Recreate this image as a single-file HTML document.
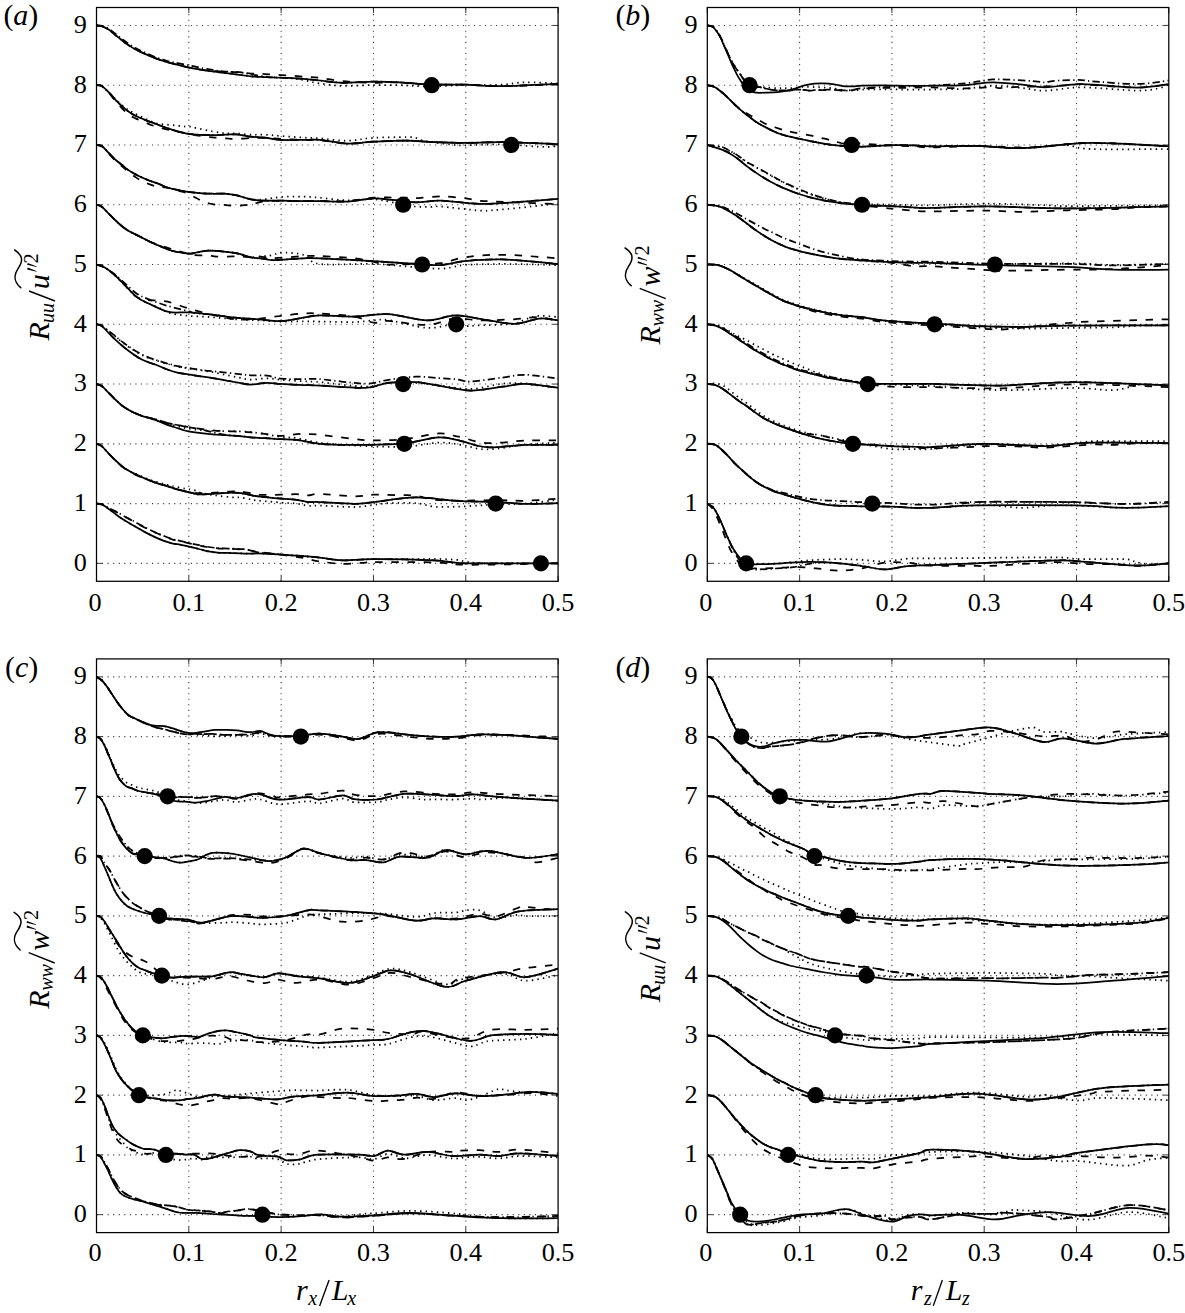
<!DOCTYPE html><html><head><meta charset="utf-8"><style>html,body{margin:0;padding:0;background:#fff;}svg{display:block;}</style></head><body>
<svg width="1185" height="1313" viewBox="0 0 1185 1313">
<rect width="1185" height="1313" fill="#fff"/>
<path d="M96.5 563.37H558.1M96.5 503.6H558.1M96.5 443.83H558.1M96.5 384.06H558.1M96.5 324.29H558.1M96.5 264.51H558.1M96.5 204.74H558.1M96.5 144.97H558.1M96.5 85.2H558.1M96.5 25.43H558.1M188.82 581.3V7.5M281.14 581.3V7.5M373.46 581.3V7.5M465.78 581.3V7.5" stroke="#3a3a3a" stroke-width="1.1" stroke-dasharray="1.1 4.45" fill="none"/>
<path d="M96.5 563.37h5.6M558.1 563.37h-5.6M96.5 503.6h5.6M558.1 503.6h-5.6M96.5 443.83h5.6M558.1 443.83h-5.6M96.5 384.06h5.6M558.1 384.06h-5.6M96.5 324.29h5.6M558.1 324.29h-5.6M96.5 264.51h5.6M558.1 264.51h-5.6M96.5 204.74h5.6M558.1 204.74h-5.6M96.5 144.97h5.6M558.1 144.97h-5.6M96.5 85.2h5.6M558.1 85.2h-5.6M96.5 25.43h5.6M558.1 25.43h-5.6M96.5 581.3v-5.6M96.5 7.5v5.6M188.82 581.3v-5.6M188.82 7.5v5.6M281.14 581.3v-5.6M281.14 7.5v5.6M373.46 581.3v-5.6M373.46 7.5v5.6M465.78 581.3v-5.6M465.78 7.5v5.6M558.1 581.3v-5.6M558.1 7.5v5.6" stroke="#3a3a3a" stroke-width="1.0" fill="none"/>
<path d="M707.3 563.37H1168.8M707.3 503.6H1168.8M707.3 443.83H1168.8M707.3 384.06H1168.8M707.3 324.29H1168.8M707.3 264.51H1168.8M707.3 204.74H1168.8M707.3 144.97H1168.8M707.3 85.2H1168.8M707.3 25.43H1168.8M799.6 581.3V7.5M891.9 581.3V7.5M984.2 581.3V7.5M1076.5 581.3V7.5" stroke="#3a3a3a" stroke-width="1.1" stroke-dasharray="1.1 4.45" fill="none"/>
<path d="M707.3 563.37h5.6M1168.8 563.37h-5.6M707.3 503.6h5.6M1168.8 503.6h-5.6M707.3 443.83h5.6M1168.8 443.83h-5.6M707.3 384.06h5.6M1168.8 384.06h-5.6M707.3 324.29h5.6M1168.8 324.29h-5.6M707.3 264.51h5.6M1168.8 264.51h-5.6M707.3 204.74h5.6M1168.8 204.74h-5.6M707.3 144.97h5.6M1168.8 144.97h-5.6M707.3 85.2h5.6M1168.8 85.2h-5.6M707.3 25.43h5.6M1168.8 25.43h-5.6M707.3 581.3v-5.6M707.3 7.5v5.6M799.6 581.3v-5.6M799.6 7.5v5.6M891.9 581.3v-5.6M891.9 7.5v5.6M984.2 581.3v-5.6M984.2 7.5v5.6M1076.5 581.3v-5.6M1076.5 7.5v5.6M1168.8 581.3v-5.6M1168.8 7.5v5.6" stroke="#3a3a3a" stroke-width="1.0" fill="none"/>
<path d="M96.5 1214.67H558.1M96.5 1154.91H558.1M96.5 1095.15H558.1M96.5 1035.39H558.1M96.5 975.63H558.1M96.5 915.87H558.1M96.5 856.11H558.1M96.5 796.35H558.1M96.5 736.59H558.1M96.5 676.83H558.1M188.82 1232.6V658.9M281.14 1232.6V658.9M373.46 1232.6V658.9M465.78 1232.6V658.9" stroke="#3a3a3a" stroke-width="1.1" stroke-dasharray="1.1 4.45" fill="none"/>
<path d="M96.5 1214.67h5.6M558.1 1214.67h-5.6M96.5 1154.91h5.6M558.1 1154.91h-5.6M96.5 1095.15h5.6M558.1 1095.15h-5.6M96.5 1035.39h5.6M558.1 1035.39h-5.6M96.5 975.63h5.6M558.1 975.63h-5.6M96.5 915.87h5.6M558.1 915.87h-5.6M96.5 856.11h5.6M558.1 856.11h-5.6M96.5 796.35h5.6M558.1 796.35h-5.6M96.5 736.59h5.6M558.1 736.59h-5.6M96.5 676.83h5.6M558.1 676.83h-5.6M96.5 1232.6v-5.6M96.5 658.9v5.6M188.82 1232.6v-5.6M188.82 658.9v5.6M281.14 1232.6v-5.6M281.14 658.9v5.6M373.46 1232.6v-5.6M373.46 658.9v5.6M465.78 1232.6v-5.6M465.78 658.9v5.6M558.1 1232.6v-5.6M558.1 658.9v5.6" stroke="#3a3a3a" stroke-width="1.0" fill="none"/>
<path d="M707.3 1214.67H1168.8M707.3 1154.91H1168.8M707.3 1095.15H1168.8M707.3 1035.39H1168.8M707.3 975.63H1168.8M707.3 915.87H1168.8M707.3 856.11H1168.8M707.3 796.35H1168.8M707.3 736.59H1168.8M707.3 676.83H1168.8M799.6 1232.6V658.9M891.9 1232.6V658.9M984.2 1232.6V658.9M1076.5 1232.6V658.9" stroke="#3a3a3a" stroke-width="1.1" stroke-dasharray="1.1 4.45" fill="none"/>
<path d="M707.3 1214.67h5.6M1168.8 1214.67h-5.6M707.3 1154.91h5.6M1168.8 1154.91h-5.6M707.3 1095.15h5.6M1168.8 1095.15h-5.6M707.3 1035.39h5.6M1168.8 1035.39h-5.6M707.3 975.63h5.6M1168.8 975.63h-5.6M707.3 915.87h5.6M1168.8 915.87h-5.6M707.3 856.11h5.6M1168.8 856.11h-5.6M707.3 796.35h5.6M1168.8 796.35h-5.6M707.3 736.59h5.6M1168.8 736.59h-5.6M707.3 676.83h5.6M1168.8 676.83h-5.6M707.3 1232.6v-5.6M707.3 658.9v5.6M799.6 1232.6v-5.6M799.6 658.9v5.6M891.9 1232.6v-5.6M891.9 658.9v5.6M984.2 1232.6v-5.6M984.2 658.9v5.6M1076.5 1232.6v-5.6M1076.5 658.9v5.6M1168.8 1232.6v-5.6M1168.8 658.9v5.6" stroke="#3a3a3a" stroke-width="1.0" fill="none"/>
<clipPath id="clipa"><rect x="96.5" y="7.5" width="461.6" height="573.8"/></clipPath>
<g clip-path="url(#clipa)">
<path d="M96.5 25.43C97.38 25.56 99.75 25.51 101.76 26.2C103.78 26.89 106.33 28.12 108.59 29.58C110.86 31.04 113.09 33.18 115.33 34.98C117.58 36.78 119.83 38.65 122.07 40.38C124.32 42.11 126.57 43.87 128.81 45.38C131.06 46.88 132.86 48.01 135.55 49.43C138.24 50.85 141.6 52.4 144.97 53.88C148.34 55.37 152.17 56.99 155.77 58.34C159.37 59.69 162.97 60.93 166.57 61.99C170.17 63.04 173.77 63.78 177.37 64.68C180.97 65.58 184.57 66.6 188.17 67.38C191.77 68.17 194.91 68.74 198.98 69.41C203.04 70.09 208.04 70.81 212.55 71.44C217.05 72.07 221.53 72.63 226.02 73.19C230.52 73.76 235.33 74.27 239.5 74.81C243.67 75.35 246.84 76.06 251.04 76.43C255.24 76.81 259.69 76.85 264.71 77.07C269.72 77.29 276.59 77.55 281.14 77.75C285.69 77.96 288.29 77.91 292.03 78.31C295.77 78.71 298.96 79.27 303.57 80.13C308.19 80.99 313.22 82.49 319.73 83.46C326.24 84.43 333.67 85.68 342.63 85.94C351.58 86.21 363.94 85.19 373.46 85.06C382.98 84.94 393.49 85.07 399.77 85.18C406.05 85.3 405.8 85.55 411.13 85.75C416.45 85.95 422.64 86.52 431.71 86.4C440.79 86.27 457.59 85.25 465.6 85.03C473.6 84.8 473.55 85.13 479.72 85.06C485.89 85 495 85.11 502.62 84.65C510.23 84.2 516.17 82.52 525.42 82.32C534.67 82.12 552.65 83.27 558.1 83.46" stroke="#000" stroke-width="1.75" fill="none" stroke-dasharray="1.4 4.15"/>
<path d="M96.5 85.2C97.38 85.35 99.87 85.03 101.76 86.07C103.65 87.12 105.59 89.34 107.86 91.5C110.12 93.66 112.96 96.73 115.33 99.03C117.7 101.33 119.83 103.43 122.07 105.29C124.32 107.15 126.57 108.78 128.81 110.2C131.06 111.61 132.86 112.38 135.55 113.75C138.24 115.13 141.6 116.86 144.97 118.44C148.34 120.01 152.17 122.19 155.77 123.21C159.37 124.23 162.97 124.16 166.57 124.56C170.17 124.97 174.22 125.3 177.37 125.64C180.53 125.98 183.23 126.45 185.5 126.61C187.76 126.77 189.14 126.33 190.94 126.58C192.74 126.83 192.7 127.32 196.3 128.11C199.9 128.9 207.59 130.44 212.55 131.31C217.5 132.18 221.98 132.97 226.02 133.34C230.07 133.7 232.66 133.25 236.83 133.48C241 133.7 246.4 134.47 251.04 134.69C255.69 134.9 259.69 134.53 264.71 134.75C269.72 134.97 274.66 135.54 281.14 136.02C287.62 136.5 297.14 137.23 303.57 137.62C310.01 138 312.47 137.77 319.73 138.3C326.99 138.83 338.19 140.87 347.15 140.79C356.1 140.72 363.55 138.44 373.46 137.84C383.37 137.24 399.56 137.18 406.6 137.18C413.65 137.18 413.08 137.27 415.74 137.84C418.4 138.41 419.53 139.83 422.57 140.59C425.62 141.34 428.31 141.63 434.02 142.39C439.73 143.16 451.56 144.67 456.82 145.16C462.09 145.64 457.96 145.42 465.6 145.31C473.23 145.2 488.83 144.19 502.62 144.47C516.4 144.75 539.07 147.06 548.31 146.98C557.56 146.9 556.47 144.51 558.1 144.01" stroke="#000" stroke-width="1.75" fill="none" stroke-dasharray="1.4 4.15"/>
<path d="M96.5 144.97C97.38 145.16 99.75 144.77 101.76 146.08C103.78 147.39 106.33 150.58 108.59 152.83C110.86 155.08 113.09 157.56 115.33 159.58C117.58 161.61 119.83 163.18 122.07 164.98C124.32 166.78 126.12 168.58 128.81 170.38C131.5 172.18 134.86 174.1 138.23 175.78C141.6 177.47 145.65 179.16 149.03 180.51C152.42 181.86 155.62 182.76 158.54 183.88C161.46 185.01 163.43 186.25 166.57 187.26C169.71 188.27 173.77 189.18 177.37 189.96C180.97 190.75 184.57 191.47 188.17 191.98C191.77 192.5 194.91 192.77 198.98 193.06C203.04 193.36 208.27 193.63 212.55 193.74C216.82 193.85 220.59 193.47 224.64 193.74C228.69 194.01 232.43 194.41 236.83 195.36C241.23 196.31 246.4 198.77 251.04 199.41C255.69 200.05 259.69 199.59 264.71 199.19C269.72 198.79 274.66 197.46 281.14 197.02C287.62 196.58 297.14 196.45 303.57 196.56C310.01 196.68 312.47 197.08 319.73 197.71C326.99 198.34 338.19 200.1 347.15 200.36C356.1 200.62 365.84 198.93 373.46 199.27C381.08 199.62 385.8 201.21 392.85 202.43C399.89 203.64 408.88 205.81 415.74 206.54C422.61 207.28 429.84 206.85 434.02 206.85C438.21 206.85 433.24 205.94 440.85 206.56C448.47 207.18 471.33 209.95 479.72 210.57C488.11 211.19 485.46 210.63 491.17 210.27C496.88 209.91 502.82 209.54 513.97 208.4C525.13 207.26 550.75 204.25 558.1 203.42" stroke="#000" stroke-width="1.75" fill="none" stroke-dasharray="1.4 4.15"/>
<path d="M96.5 204.74C97.38 205.08 99.75 205.29 101.76 206.75C103.78 208.21 106.33 211.25 108.59 213.5C110.86 215.75 113.09 218.12 115.33 220.25C117.58 222.39 119.83 224.53 122.07 226.33C124.32 228.13 126.33 229.59 128.81 231.05C131.29 232.52 134.24 233.76 136.94 235.11C139.63 236.46 142.28 237.81 144.97 239.16C147.66 240.51 150.38 241.97 153.09 243.21C155.8 244.44 158.51 245.46 161.22 246.58C163.92 247.71 166.65 249.06 169.34 249.96C172.03 250.86 174.68 251.42 177.37 251.99C180.06 252.55 183.23 253.07 185.5 253.34C187.76 253.61 188.7 253.83 190.94 253.61C193.19 253.38 196.05 252.48 198.98 251.99C201.9 251.49 205.1 250.79 208.48 250.64C211.87 250.48 215.24 250.7 219.29 251.04C223.33 251.38 228.93 252.05 232.76 252.66C236.6 253.27 239.23 253.9 242.27 254.69C245.32 255.48 247.3 257.16 251.04 257.38C254.78 257.61 260.91 256.48 264.71 256.05C268.51 255.63 271.11 255.44 273.85 254.86C276.59 254.27 276.19 252.55 281.14 252.54C286.09 252.54 297.14 252.92 303.57 254.83C310.01 256.73 308.08 262.44 319.73 263.96C331.38 265.49 357.46 263.42 373.46 263.96C389.46 264.51 404.51 266.44 415.74 267.22C426.97 268.01 434.01 268.83 440.85 268.67C447.7 268.51 452.64 266.88 456.82 266.25C461.01 265.63 458.33 265.3 465.96 264.92C473.6 264.54 487.26 263.93 502.62 263.96C517.97 264 548.85 264.92 558.1 265.11" stroke="#000" stroke-width="1.75" fill="none" stroke-dasharray="1.4 4.15"/>
<path d="M96.5 264.51C97.87 264.99 101.82 265.77 104.72 267.4C107.61 269.02 110.42 271.2 113.86 274.25C117.29 277.29 121.49 281.87 125.3 285.67C129.12 289.48 132.95 294.16 136.75 297.1C140.55 300.03 144.04 301.32 148.11 303.26C152.17 305.21 157.69 307.15 161.12 308.76C164.56 310.36 164.08 311.71 168.69 312.89C173.31 314.07 181.59 315.12 188.82 315.83C196.05 316.55 204.39 316.62 212.08 317.2C219.78 317.77 227.35 318.74 234.98 319.26C242.61 319.77 250.18 319.91 257.88 320.29C265.57 320.67 273.52 321.35 281.14 321.54C288.76 321.73 297.14 321.43 303.57 321.43C310.01 321.43 311.31 321.44 319.73 321.54C328.15 321.64 345.12 322.24 354.07 322.05C363.03 321.86 367.75 320.73 373.46 320.4C379.17 320.07 379.37 318.8 388.32 320.05C397.28 321.31 416.14 327.24 427.19 327.91C438.24 328.58 448.15 324.37 454.61 324.07C461.07 323.77 461.78 325.9 465.96 326.11C470.15 326.33 471.72 325.74 479.72 325.36C487.72 324.98 506.35 324.85 513.97 323.84C521.59 322.82 521.22 320.59 525.42 319.26C529.62 317.93 533.73 316.25 539.17 315.87C544.62 315.48 554.95 316.79 558.1 316.98" stroke="#000" stroke-width="1.75" fill="none" stroke-dasharray="1.4 4.15"/>
<path d="M96.5 324.29C97.38 324.54 99.75 324.62 101.76 325.79C103.78 326.96 106.56 329.73 108.59 331.31C110.62 332.89 111.7 333.46 113.95 335.26C116.19 337.06 119.6 340.13 122.07 342.09C124.55 344.06 126.57 345.5 128.81 347.05C131.06 348.59 133.3 350 135.55 351.37C137.8 352.74 140.04 354.16 142.29 355.26C144.54 356.36 146.78 357.15 149.03 357.98C151.28 358.81 152.85 359.27 155.77 360.24C158.69 361.2 163.86 362.98 166.57 363.76C169.28 364.55 170.22 364.49 172.02 364.97C173.82 365.44 174.68 366.06 177.37 366.62C180.06 367.18 184.57 367.77 188.17 368.34C191.77 368.9 196.04 369.54 198.98 369.99C201.91 370.44 203.55 370.67 205.81 371.04C208.07 371.41 209.18 371.56 212.55 372.21C215.92 372.87 221.53 374.09 226.02 374.99C230.52 375.89 235.33 376.84 239.5 377.62C243.67 378.4 246.46 379.55 251.04 379.67C255.63 379.78 262 378.28 267.02 378.31C272.03 378.33 275.05 379.3 281.14 379.81C287.23 380.31 297.14 380.96 303.57 381.34C310.01 381.72 309.42 381.21 319.73 382.09C330.04 382.97 354 386.5 365.43 386.6C376.86 386.7 380.71 383.25 388.32 382.69C395.94 382.13 406.56 383.19 411.13 383.23C415.7 383.27 411.17 382.56 415.74 382.91C420.31 383.27 429.41 384.34 438.55 385.35C447.69 386.36 459.9 389.25 470.58 388.98C481.26 388.7 493.48 384.62 502.62 383.69C511.76 382.76 520.8 383.26 525.42 383.39C530.03 383.53 524.86 383.77 530.31 384.5C535.76 385.24 553.47 387.25 558.1 387.8" stroke="#000" stroke-width="1.75" fill="none" stroke-dasharray="1.4 4.15"/>
<path d="M96.5 384.06C97.38 384.39 99.75 384.62 101.76 386.08C103.78 387.54 106.33 390.57 108.59 392.82C110.86 395.08 113.09 397.44 115.33 399.58C117.58 401.72 119.83 403.93 122.07 405.66C124.32 407.39 126.57 408.67 128.81 409.97C131.06 411.28 133.3 412.45 135.55 413.49C137.8 414.52 139.81 415.36 142.29 416.19C144.77 417.02 147.83 417.69 150.41 418.48C153 419.28 155.11 420.07 157.8 420.93C160.49 421.8 163.76 422.92 166.57 423.7C169.39 424.48 171.99 424.97 174.7 425.61C177.4 426.25 180.57 427.03 182.82 427.52C185.07 428.01 185.48 428.15 188.17 428.56C190.87 428.98 194.91 429.62 198.98 430C203.04 430.38 208.04 430.66 212.55 430.83C217.05 431 221.53 430.97 226.02 431.04C230.52 431.11 235.33 431.1 239.5 431.26C243.67 431.42 246.84 431.52 251.04 431.99C255.24 432.46 259.69 433.26 264.71 434.09C269.72 434.91 275.82 436.27 281.14 436.93C286.46 437.59 290.25 437.12 296.65 438.07C303.05 439.02 309.97 441.37 319.55 442.63C329.12 443.88 339.95 444.94 354.07 445.62C368.2 446.31 390.22 447.23 404.29 446.73C418.37 446.24 429.02 442.95 438.55 442.64C448.07 442.32 453.44 443.72 461.44 444.85C469.44 445.99 475.89 449.46 486.55 449.44C497.21 449.41 513.49 445.83 525.42 444.7C537.34 443.56 552.65 442.98 558.1 442.64" stroke="#000" stroke-width="1.75" fill="none" stroke-dasharray="1.4 4.15"/>
<path d="M96.5 443.83C97.38 444.2 99.75 444.46 101.76 446.07C103.78 447.69 106.33 451.14 108.59 453.5C110.86 455.87 113.09 458.11 115.33 460.25C117.58 462.39 119.83 464.6 122.07 466.33C124.32 468.06 126.33 469.29 128.81 470.65C131.29 472 134.24 473.26 136.94 474.46C139.63 475.66 142.49 476.86 144.97 477.87C147.45 478.88 148.65 479.52 151.8 480.51C154.95 481.5 160.52 482.89 163.89 483.79C167.26 484.69 168.42 485.08 172.02 485.91C175.62 486.74 181.9 488.09 185.5 488.77C189.1 489.44 191.37 489.37 193.62 489.96C195.87 490.55 196.28 491.56 198.98 492.31C201.67 493.06 206.39 493.84 209.78 494.46C213.16 495.08 215.45 495.55 219.29 496.04C223.12 496.52 229.16 497.12 232.76 497.39C236.36 497.65 237.84 497.28 240.89 497.61C243.94 497.95 248.21 498.92 251.04 499.41C253.87 499.91 252.86 500.04 257.88 500.57C262.89 501.1 274.68 502.1 281.14 502.6C287.6 503.09 292.16 503.04 296.65 503.56C301.14 504.08 304.25 505.37 308.1 505.71C311.94 506.05 312.07 505.36 319.73 505.58C327.39 505.79 345.12 507.12 354.07 507.01C363.03 506.91 367.75 505.6 373.46 504.96C379.17 504.32 381.28 503.49 388.32 503.19C395.37 502.88 408.13 502.57 415.74 503.15C423.36 503.72 427.17 506.03 434.02 506.62C440.87 507.2 449.21 506.85 456.82 506.66C464.44 506.47 473.24 505.84 479.72 505.47C486.2 505.1 488.08 504.77 495.69 504.45C503.31 504.12 515.02 504.28 525.42 503.5C535.82 502.72 552.65 500.38 558.1 499.76" stroke="#000" stroke-width="1.75" fill="none" stroke-dasharray="1.4 4.15"/>
<path d="M96.5 503.6C97.61 503.85 100.92 504.09 103.15 505.13C105.38 506.17 107.41 508.05 109.89 509.85C112.36 511.65 115.3 514.01 118.01 515.93C120.72 517.84 123.21 519.53 126.13 521.33C129.06 523.13 132.41 524.93 135.55 526.73C138.69 528.53 141.81 530.44 144.97 532.13C148.12 533.82 151.32 535.4 154.48 536.86C157.63 538.32 160.97 539.83 163.89 540.91C166.82 541.99 169.31 542.71 172.02 543.34C174.73 543.97 177.45 544.2 180.14 544.69C182.83 545.19 185.03 545.59 188.17 546.31C191.31 547.03 195.59 548.16 198.98 549.01C202.36 549.87 205.1 550.81 208.48 551.44C211.87 552.07 215.24 552.52 219.29 552.79C223.33 553.06 227.47 552.9 232.76 553.06C238.06 553.22 246.86 553.67 251.04 553.73C255.23 553.8 252.86 553.31 257.88 553.45C262.89 553.6 273.52 554.14 281.14 554.59C288.76 555.05 297.14 555.7 303.57 556.2C310.01 556.69 313.22 556.88 319.73 557.57C326.24 558.25 335.81 559.96 342.63 560.31C349.44 560.65 355.49 559.85 360.63 559.64C365.77 559.43 368.84 559.12 373.46 559.04C378.08 558.96 380.14 559.15 388.32 559.17C396.51 559.19 414.96 559.22 422.57 559.17C430.19 559.11 428.31 558.72 434.02 558.83C439.73 558.94 451.5 559.39 456.82 559.85C462.15 560.3 461.35 560.98 465.96 561.55C470.58 562.12 469.17 562.99 484.52 563.28C499.88 563.57 545.84 563.28 558.1 563.28" stroke="#000" stroke-width="1.75" fill="none" stroke-dasharray="1.4 4.15"/>
<path d="M96.5 25.43C97.38 25.5 99.75 25.29 101.76 25.84C103.78 26.39 106.33 27.44 108.59 28.75C110.86 30.06 113.09 31.98 115.33 33.69C117.58 35.4 120.06 37.43 122.07 38.99C124.09 40.56 125.18 41.57 127.43 43.08C129.67 44.59 133.07 46.72 135.55 48.07C138.03 49.42 138.92 49.65 142.29 51.18C145.66 52.71 151.72 55.67 155.77 57.26C159.82 58.85 163.86 59.93 166.57 60.72C169.28 61.51 170.22 61.6 172.02 61.99C173.82 62.37 174.68 62.51 177.37 63.04C180.06 63.57 184.57 64.43 188.17 65.17C191.77 65.91 196.04 66.87 198.98 67.47C201.91 68.06 203.55 68.34 205.81 68.74C208.07 69.13 209.62 69.4 212.55 69.85C215.47 70.3 218.85 71.05 223.35 71.44C227.84 71.83 234.89 71.69 239.5 72.2C244.12 72.71 246.84 73.78 251.04 74.51C255.24 75.23 261.55 76.07 264.71 76.53C267.86 76.99 267.23 77.08 269.97 77.29C272.71 77.49 275.54 77.49 281.14 77.75C286.74 78.02 297.14 78.44 303.57 78.9C310.01 79.35 313.22 79.85 319.73 80.5C326.24 81.15 333.67 82.59 342.63 82.78C351.58 82.97 363.94 81.72 373.46 81.64C382.98 81.56 390.06 81.83 399.77 82.32C409.48 82.82 420.74 84.23 431.71 84.61C442.68 84.99 453.78 84.34 465.6 84.61C477.41 84.88 487.2 86.32 502.62 86.21C518.03 86.09 548.85 84.3 558.1 83.92" stroke="#000" stroke-width="1.75" fill="none" stroke-dasharray="7.3 3.2 1.3 3.2"/>
<path d="M96.5 85.2C97.38 85.35 99.75 84.92 101.76 86.07C103.78 87.23 106.33 89.9 108.59 92.15C110.86 94.4 113.09 97.21 115.33 99.58C117.58 101.94 119.83 104.31 122.07 106.33C124.32 108.36 126.57 110.15 128.81 111.73C131.06 113.3 132.86 114.43 135.55 115.78C138.24 117.13 141.6 118.48 144.97 119.83C148.34 121.18 152.17 122.54 155.77 123.89C159.37 125.24 162.97 126.69 166.57 127.93C170.17 129.17 174.22 130.41 177.37 131.31C180.53 132.21 182.34 132.77 185.5 133.34C188.65 133.9 191.79 134.39 196.3 134.69C200.81 134.98 207.59 135.09 212.55 135.09C217.5 135.09 221.98 134.8 226.02 134.69C230.07 134.57 232.66 134.08 236.83 134.42C241 134.76 246.4 136.18 251.04 136.71C255.69 137.25 259.69 137.08 264.71 137.62C269.72 138.15 274.66 139.52 281.14 139.9C287.62 140.28 297.14 139.9 303.57 139.9C310.01 139.9 312.47 139.29 319.73 139.9C326.99 140.51 338.19 143.25 347.15 143.56C356.1 143.86 363.55 142.22 373.46 141.73C383.37 141.23 396.51 140.51 406.6 140.59C416.7 140.66 424.19 141.81 434.02 142.19C443.85 142.57 454.16 142.87 465.6 142.87C477.03 142.87 487.2 142 502.62 142.19C518.03 142.38 548.85 143.71 558.1 144.01" stroke="#000" stroke-width="1.75" fill="none" stroke-dasharray="7.3 3.2 1.3 3.2"/>
<path d="M96.5 144.97C97.38 145.16 99.75 144.77 101.76 146.08C103.78 147.39 106.33 150.58 108.59 152.83C110.86 155.08 113.09 157.56 115.33 159.58C117.58 161.61 119.83 163.18 122.07 164.98C124.32 166.78 126.12 168.58 128.81 170.38C131.5 172.18 134.86 174.1 138.23 175.78C141.6 177.47 145.65 179.16 149.03 180.51C152.42 181.86 155.62 182.76 158.54 183.88C161.46 185.01 163.43 186.25 166.57 187.26C169.71 188.27 173.77 189.18 177.37 189.96C180.97 190.75 184.57 191.47 188.17 191.98C191.77 192.5 194.91 192.77 198.98 193.06C203.04 193.36 208.27 193.63 212.55 193.74C216.82 193.85 220.59 193.47 224.64 193.74C228.69 194.01 232.43 194.41 236.83 195.36C241.23 196.31 246.4 198.53 251.04 199.41C255.69 200.3 259.69 200.47 264.71 200.68C269.72 200.89 274.66 200.6 281.14 200.68C287.62 200.76 297.14 201.06 303.57 201.13C310.01 201.21 312.47 201.06 319.73 201.13C326.99 201.21 338.19 202.05 347.15 201.59C356.1 201.13 365.84 198.66 373.46 198.39C381.08 198.12 385.8 199.34 392.85 199.99C399.89 200.64 407.74 202.16 415.74 202.28C423.74 202.39 430.19 200.41 440.85 200.68C451.52 200.95 467.53 203.61 479.72 203.88C491.91 204.14 500.91 203.11 513.97 202.28C527.03 201.44 550.75 199.42 558.1 198.85" stroke="#000" stroke-width="1.75" fill="none" stroke-dasharray="7.3 3.2 1.3 3.2"/>
<path d="M96.5 204.74C97.38 205.08 99.75 205.29 101.76 206.75C103.78 208.21 106.33 211.25 108.59 213.5C110.86 215.75 113.09 218.12 115.33 220.25C117.58 222.39 119.83 224.53 122.07 226.33C124.32 228.13 126.33 229.59 128.81 231.05C131.29 232.52 134.24 233.76 136.94 235.11C139.63 236.46 142.28 237.81 144.97 239.16C147.66 240.51 150.38 241.97 153.09 243.21C155.8 244.44 158.51 245.46 161.22 246.58C163.92 247.71 166.65 249.06 169.34 249.96C172.03 250.86 174.68 251.42 177.37 251.99C180.06 252.55 183.23 253.07 185.5 253.34C187.76 253.61 188.7 253.83 190.94 253.61C193.19 253.38 196.05 252.48 198.98 251.99C201.9 251.49 205.1 250.79 208.48 250.64C211.87 250.48 215.24 250.7 219.29 251.04C223.33 251.38 228.93 252.05 232.76 252.66C236.6 253.27 239.23 253.9 242.27 254.69C245.32 255.48 247.3 256.68 251.04 257.38C254.78 258.09 260.91 258.49 264.71 258.94C268.51 259.39 267.37 260.19 273.85 260.08C280.32 259.97 295.93 258.56 303.57 258.26C311.22 257.95 308.08 257.76 319.73 258.26C331.38 258.75 357.46 260.28 373.46 261.23C389.46 262.18 404.51 263.32 415.74 263.96C426.97 264.61 432.48 265.6 440.85 265.11C449.22 264.61 455.67 261.95 465.96 260.99C476.26 260.04 487.26 258.9 502.62 259.4C517.97 259.89 548.85 263.2 558.1 263.96" stroke="#000" stroke-width="1.75" fill="none" stroke-dasharray="7.3 3.2 1.3 3.2"/>
<path d="M96.5 264.51C97.87 264.99 102.62 266.37 104.72 267.4C106.81 268.42 107.53 269.6 109.06 270.65C110.58 271.69 111.15 271.48 113.86 273.65C116.56 275.82 121.49 280.33 125.3 283.66C129.12 287 132.95 291.1 136.75 293.67C140.55 296.24 143.17 297.09 148.11 299.07C153.05 301.05 159.6 303.5 166.39 305.55C173.17 307.6 184.2 310.14 188.82 311.37C193.44 312.6 190.2 312.37 194.08 312.92C197.96 313.47 205.27 313.9 212.08 314.69C218.9 315.48 227.35 316.89 234.98 317.66C242.61 318.42 250.18 318.69 257.88 319.26C265.57 319.83 273.52 321.35 281.14 321.09C288.76 320.82 297.14 318.61 303.57 317.66C310.01 316.7 311.31 315.56 319.73 315.37C328.15 315.18 342.64 316.71 354.07 316.52C365.51 316.32 376.14 313.58 388.32 314.23C400.51 314.88 416.14 320.21 427.19 320.4C438.24 320.59 445.85 315.64 454.61 315.37C463.36 315.11 469.83 317.39 479.72 318.8C489.61 320.21 504.06 323.87 513.97 323.83C523.88 323.79 531.82 319.14 539.17 318.57C546.53 318 554.95 320.1 558.1 320.4" stroke="#000" stroke-width="1.75" fill="none" stroke-dasharray="7.3 3.2 1.3 3.2"/>
<path d="M96.5 324.29C97.38 324.51 99.75 324.49 101.76 325.61C103.78 326.73 106.56 329.44 108.59 330.98C110.62 332.52 111.7 333.07 113.95 334.85C116.19 336.64 119.6 339.72 122.07 341.69C124.55 343.65 126.57 345.09 128.81 346.64C131.06 348.19 133.3 349.59 135.55 350.96C137.8 352.33 140.04 353.75 142.29 354.86C144.54 355.96 146.78 356.74 149.03 357.57C151.28 358.4 152.85 358.87 155.77 359.83C158.69 360.79 163.86 362.57 166.57 363.36C169.28 364.14 170.22 364.08 172.02 364.56C173.82 365.04 174.68 365.65 177.37 366.21C180.06 366.78 184.57 367.37 188.17 367.94C191.77 368.5 196.04 369.14 198.98 369.59C201.91 370.04 203.55 370.37 205.81 370.63C208.07 370.9 209.62 370.88 212.55 371.18C215.47 371.47 218.85 371.92 223.35 372.39C227.84 372.86 234.89 373.51 239.5 374.01C244.12 374.5 246.46 375.08 251.04 375.36C255.63 375.64 262 375.13 267.02 375.68C272.03 376.23 275.05 378.09 281.14 378.66C287.23 379.24 297.14 379.06 303.57 379.14C310.01 379.22 309.42 378.36 319.73 379.12C330.04 379.88 354 383.57 365.43 383.69C376.86 383.8 379.94 380.97 388.32 379.81C396.71 378.64 407.37 376.98 415.74 376.69C424.11 376.41 431.7 377.66 438.55 378.1C445.39 378.55 451.49 378.79 456.82 379.35C462.16 379.92 462.95 381.79 470.58 381.5C478.21 381.2 493.48 378.69 502.62 377.58C511.76 376.47 516.17 374.63 525.42 374.81C534.67 374.99 552.65 378.02 558.1 378.66" stroke="#000" stroke-width="1.75" fill="none" stroke-dasharray="7.3 3.2 1.3 3.2"/>
<path d="M96.5 384.06C97.38 384.39 99.75 384.62 101.76 386.08C103.78 387.54 106.33 390.57 108.59 392.82C110.86 395.08 113.09 397.44 115.33 399.58C117.58 401.72 119.83 403.94 122.07 405.66C124.32 407.38 126.57 408.64 128.81 409.91C131.06 411.19 133.3 412.31 135.55 413.31C137.8 414.3 139.81 415.1 142.29 415.89C144.77 416.68 147.71 417.33 150.41 418.04C153.12 418.76 155.85 419.39 158.54 420.19C161.23 420.98 163.88 422.1 166.57 422.82C169.26 423.53 171.99 423.96 174.7 424.49C177.4 425.03 180.57 425.6 182.82 426.02C185.07 426.45 185.48 426.57 188.17 427.04C190.87 427.52 194.91 428.02 198.98 428.88C203.04 429.74 208.04 431.2 212.55 432.21C217.05 433.23 221.53 434.36 226.02 434.99C230.52 435.63 235.33 435.63 239.5 436.03C243.67 436.43 246.84 437.04 251.04 437.38C255.24 437.72 259.69 437.77 264.71 438.07C269.72 438.38 275.82 438.91 281.14 439.21C286.46 439.52 290.25 439.14 296.65 439.9C303.05 440.66 309.97 442.94 319.55 443.78C329.12 444.62 339.95 445 354.07 444.92C368.2 444.85 390.22 444.58 404.29 443.33C418.37 442.07 429.02 437.76 438.55 437.38C448.07 437 453.44 439.4 461.44 441.04C469.44 442.68 475.89 446.56 486.55 447.21C497.21 447.86 513.49 445.3 525.42 444.92C537.34 444.54 552.65 444.92 558.1 444.92" stroke="#000" stroke-width="1.75" fill="none" stroke-dasharray="7.3 3.2 1.3 3.2"/>
<path d="M96.5 443.83C97.38 444.2 99.75 444.46 101.76 446.07C103.78 447.69 106.33 451.14 108.59 453.5C110.86 455.87 113.09 458.11 115.33 460.25C117.58 462.39 119.83 464.58 122.07 466.33C124.32 468.09 126.33 469.37 128.81 470.78C131.29 472.2 134.24 473.55 136.94 474.84C139.63 476.12 142.28 477.31 144.97 478.48C147.66 479.65 149.94 480.73 153.09 481.86C156.25 482.98 160.29 484.11 163.89 485.24C167.49 486.36 171.09 487.55 174.7 488.61C178.3 489.66 182.34 490.79 185.5 491.58C188.65 492.37 191.37 492.86 193.62 493.34C195.87 493.81 196.28 494.3 198.98 494.42C201.67 494.53 206.39 494.19 209.78 494.01C213.16 493.83 215.45 493.56 219.29 493.34C223.12 493.11 229.16 492.7 232.76 492.66C236.36 492.62 237.84 492.66 240.89 493.07C243.94 493.47 248.21 494.55 251.04 495.09C253.87 495.64 252.86 495.74 257.88 496.33C262.89 496.92 274.68 498.05 281.14 498.62C287.6 499.19 292.16 499.19 296.65 499.76C301.14 500.33 304.25 501.66 308.1 502.04C311.94 502.42 312.07 501.74 319.73 502.04C327.39 502.35 345.12 503.87 354.07 503.87C363.03 503.87 363.18 503.11 373.46 502.04C383.74 500.98 401.85 497.67 415.74 497.48C429.64 497.29 443.5 500.14 456.82 500.9C470.15 501.66 484.26 501.55 495.69 502.04C507.12 502.54 515.02 503.68 525.42 503.87C535.82 504.06 552.65 503.3 558.1 503.19" stroke="#000" stroke-width="1.75" fill="none" stroke-dasharray="7.3 3.2 1.3 3.2"/>
<path d="M96.5 503.6C97.61 503.76 100.92 503.7 103.15 504.54C105.38 505.39 107.41 507.33 109.89 508.67C112.36 510 115.3 511.11 118.01 512.55C120.72 513.99 123.89 516.09 126.13 517.33C128.38 518.56 129.92 519.17 131.49 519.98C133.06 520.8 133.3 520.98 135.55 522.22C137.8 523.45 141.81 525.77 144.97 527.4C148.12 529.04 151.77 530.78 154.48 532.02C157.19 533.26 158.29 533.66 161.22 534.83C164.14 536 169.33 538.14 172.02 539.03C174.71 539.93 174.68 539.61 177.37 540.23C180.06 540.86 184.57 541.98 188.17 542.79C191.77 543.61 195.82 544.48 198.98 545.13C202.13 545.79 203.71 546.19 207.1 546.72C210.48 547.24 216.58 548.03 219.29 548.3C221.99 548.57 221.1 548.28 223.35 548.34C225.59 548.4 230.07 548.55 232.76 548.66C235.46 548.78 237.26 548.91 239.5 549.01C241.75 549.11 244.32 548.99 246.24 549.28C248.17 549.57 249.1 550.25 251.04 550.75C252.98 551.26 252.86 551.7 257.88 552.31C262.89 552.92 276.52 553.98 281.14 554.41C285.76 554.85 281.83 554.61 285.57 554.91C289.31 555.21 297.88 555.75 303.57 556.2C309.27 556.64 313.22 556.88 319.73 557.57C326.24 558.25 333.67 560.04 342.63 560.31C351.58 560.58 358.23 559.17 373.46 559.17C388.69 559.17 418.6 559.62 434.02 560.31C449.44 560.99 445.28 562.78 465.96 563.28C486.64 563.77 542.74 563.28 558.1 563.28" stroke="#000" stroke-width="1.75" fill="none" stroke-dasharray="7.3 3.2 1.3 3.2"/>
<path d="M96.5 25.43C97.38 25.56 99.75 25.51 101.76 26.2C103.78 26.89 106.33 28.12 108.59 29.58C110.86 31.04 113.09 33.18 115.33 34.98C117.58 36.78 119.83 38.65 122.07 40.38C124.32 42.11 126.57 43.87 128.81 45.38C131.06 46.88 132.86 48.01 135.55 49.43C138.24 50.85 141.6 52.4 144.97 53.88C148.34 55.37 152.17 56.99 155.77 58.34C159.37 59.69 162.97 60.93 166.57 61.99C170.17 63.04 173.77 63.78 177.37 64.68C180.97 65.58 184.57 66.6 188.17 67.38C191.77 68.17 195.79 68.87 198.98 69.41C202.16 69.96 205.02 70.38 207.28 70.65C209.55 70.92 209.42 70.84 212.55 71.01C215.67 71.19 222.29 71.51 226.02 71.69C229.76 71.86 232.73 71.92 234.98 72.04C237.23 72.16 236.83 72.15 239.5 72.41C242.18 72.67 247.98 73.38 251.04 73.59C254.11 73.79 255.6 73.56 257.88 73.64C260.15 73.72 260.83 73.84 264.71 74.07C268.58 74.29 274.66 74.59 281.14 75.01C287.62 75.44 297.14 76.16 303.57 76.61C310.01 77.07 313.22 76.99 319.73 77.75C326.24 78.52 333.67 80.34 342.63 81.18C351.58 82.02 363.94 82.58 373.46 82.78C382.98 82.98 390.06 82.07 399.77 82.38C409.48 82.68 420.74 84.24 431.71 84.61C442.68 84.98 453.78 84.34 465.6 84.61C477.41 84.88 487.2 86.32 502.62 86.21C518.03 86.09 548.85 84.3 558.1 83.92" stroke="#000" stroke-width="1.75" fill="none" stroke-dasharray="7.5 8.6"/>
<path d="M96.5 85.2C97.38 85.35 99.75 84.83 101.76 86.07C103.78 87.32 106.33 90.23 108.59 92.69C110.86 95.16 113.09 98.26 115.33 100.88C117.58 103.49 119.83 106.11 122.07 108.39C124.32 110.67 126.57 112.88 128.81 114.54C131.06 116.21 132.86 117.06 135.55 118.36C138.24 119.66 142.26 121.22 144.97 122.36C147.68 123.51 150 124.57 151.8 125.23C153.6 125.89 153.31 125.65 155.77 126.34C158.23 127.03 162.97 128.47 166.57 129.36C170.17 130.25 174.22 131.1 177.37 131.69C180.53 132.29 182.34 132.32 185.5 132.93C188.65 133.54 191.79 134.62 196.3 135.37C200.81 136.11 208.95 137.01 212.55 137.41C216.15 137.81 215.65 137.64 217.9 137.79C220.15 137.94 223.1 138.13 226.02 138.33C228.95 138.53 231.27 139.05 235.44 139.01C239.61 138.96 246.17 138.24 251.04 138.06C255.92 137.89 259.69 137.78 264.71 137.94C269.72 138.09 274.66 138.69 281.14 138.98C287.62 139.28 298.96 139.57 303.57 139.72C308.19 139.88 306.14 139.87 308.84 139.9C311.53 139.93 313.34 139.29 319.73 139.9C326.12 140.51 338.19 143.25 347.15 143.56C356.1 143.86 363.55 142.22 373.46 141.73C383.37 141.23 396.51 140.51 406.6 140.59C416.7 140.66 424.19 141.81 434.02 142.19C443.85 142.57 454.16 142.87 465.6 142.87C477.03 142.87 487.2 142 502.62 142.19C518.03 142.38 548.85 143.71 558.1 144.01" stroke="#000" stroke-width="1.75" fill="none" stroke-dasharray="7.5 8.6"/>
<path d="M96.5 144.97C97.38 145.2 99.75 144.94 101.76 146.36C103.78 147.77 106.33 151.1 108.59 153.47C110.86 155.84 113.09 158.43 115.33 160.58C117.58 162.72 120.06 164.58 122.07 166.33C124.09 168.08 125.18 169.26 127.43 171.06C129.67 172.86 133.29 175.55 135.55 177.13C137.81 178.7 138.75 179.35 141 180.51C143.24 181.66 146.34 183.05 149.03 184.06C151.72 185.07 154.23 186.01 157.15 186.59C160.08 187.16 163.2 186.84 166.57 187.53C169.94 188.22 174.22 189.89 177.37 190.75C180.53 191.6 182.34 191.44 185.5 192.66C188.65 193.88 193.37 196.6 196.3 198.06C199.22 199.52 200.33 200.43 203.04 201.44C205.75 202.45 209.61 203.58 212.55 204.14C215.49 204.7 218.65 204.69 220.67 204.81C222.69 204.93 223.3 204.76 224.64 204.88C225.98 204.99 226.67 205.32 228.7 205.48C230.73 205.65 234.12 205.96 236.83 205.89C239.53 205.82 242.58 205.29 244.95 205.08C247.32 204.88 247.75 205.33 251.04 204.68C254.34 204.02 259.69 201.75 264.71 201.13C269.72 200.51 274.66 200.95 281.14 200.96C287.62 200.97 297.14 201.17 303.57 201.18C310.01 201.19 312.47 201.01 319.73 201.01C326.99 201.01 338.19 201.73 347.15 201.18C356.1 200.63 365.84 198.31 373.46 197.71C381.08 197.1 386.57 197.55 392.85 197.55C399.12 197.55 407.31 197.61 411.13 197.71C414.94 197.81 410.79 198.36 415.74 198.15C420.7 197.94 432.48 196.4 440.85 196.44C449.22 196.48 459.49 197.67 465.96 198.39C472.44 199.11 471.72 200.12 479.72 200.77C487.72 201.42 500.91 201.72 513.97 202.28C527.03 202.83 550.75 203.8 558.1 204.1" stroke="#000" stroke-width="1.75" fill="none" stroke-dasharray="7.5 8.6"/>
<path d="M96.5 204.74C97.38 205.08 99.75 205.29 101.76 206.75C103.78 208.21 106.33 211.25 108.59 213.5C110.86 215.75 113.21 218.23 115.33 220.25C117.46 222.28 119.09 223.87 121.33 225.67C123.58 227.47 126.21 229.48 128.81 231.05C131.41 232.63 134.24 233.76 136.94 235.11C139.63 236.46 142.95 238.14 144.97 239.16C146.98 240.17 147.68 240.55 149.03 241.18C150.38 241.81 151.51 242.32 153.09 242.93C154.68 243.54 155.83 243.91 158.54 244.83C161.25 245.74 166.2 247.43 169.34 248.42C172.48 249.41 174.68 250.01 177.37 250.77C180.06 251.52 183.23 252.27 185.5 252.93C187.76 253.59 188.7 254.32 190.94 254.73C193.19 255.13 196.05 255.26 198.98 255.36C201.9 255.45 205.55 255.07 208.48 255.3C211.42 255.52 212.56 256.53 216.61 256.71C220.66 256.89 229.39 256.36 232.76 256.36C236.13 256.36 235.24 256.66 236.83 256.71C238.41 256.76 239.9 256.54 242.27 256.65C244.64 256.76 248.44 257.42 251.04 257.38C253.64 257.35 255.6 256.47 257.88 256.43C260.15 256.39 262.05 256.85 264.71 257.14C267.37 257.44 267.37 258.37 273.85 258.2C280.32 258.03 295.93 256.49 303.57 256.11C311.22 255.74 311.31 255.61 319.73 255.97C328.15 256.32 345.12 257.28 354.07 258.26C363.03 259.23 367.75 260.73 373.46 261.8C379.17 262.86 381.28 264.29 388.32 264.65C395.37 265.01 406.99 264.21 415.74 263.96C424.5 263.72 432.48 264.31 440.85 263.16C449.22 262.02 455.67 258.5 465.96 257.11C476.26 255.71 487.26 254.6 502.62 254.79C517.97 254.98 548.85 257.68 558.1 258.26" stroke="#000" stroke-width="1.75" fill="none" stroke-dasharray="7.5 8.6"/>
<path d="M96.5 264.51C97.87 264.99 101.82 265.77 104.72 267.4C107.61 269.02 110.42 271.2 113.86 274.25C117.29 277.29 121.49 281.87 125.3 285.67C129.12 289.48 132.95 294.7 136.75 297.1C140.55 299.49 143.17 299.3 148.11 300.02C153.05 300.74 159.6 300.02 166.39 301.44C173.17 302.85 181.2 306.31 188.82 308.52C196.44 310.73 204.39 312.9 212.08 314.69C219.78 316.48 227.35 318.57 234.98 319.26C242.61 319.95 250.18 319.38 257.88 318.8C265.57 318.23 273.52 316.71 281.14 315.83C288.76 314.96 297.14 313.93 303.57 313.54C310.01 313.16 311.31 313.05 319.73 313.54C328.15 314.04 345.12 314.99 354.07 316.52C363.03 318.04 367.75 321.95 373.46 322.68C379.17 323.41 379.37 320.51 388.32 320.89C397.28 321.28 416.14 325.39 427.19 324.97C438.24 324.56 445.85 319.15 454.61 318.39C463.36 317.63 469.83 320.26 479.72 320.4C489.61 320.54 504.06 319.78 513.97 319.26C523.88 318.74 531.82 316.88 539.17 317.26C546.53 317.64 554.95 320.83 558.1 321.54" stroke="#000" stroke-width="1.75" fill="none" stroke-dasharray="7.5 8.6"/>
<path d="M96.5 324.29C97.38 324.58 99.75 324.65 101.76 326.08C103.78 327.5 106.33 330.58 108.59 332.83C110.86 335.08 113.09 337.44 115.33 339.58C117.58 341.72 119.83 343.74 122.07 345.65C124.32 347.57 126.57 349.37 128.81 351.06C131.06 352.75 133.3 354.32 135.55 355.78C137.8 357.25 140.04 358.71 142.29 359.83C144.54 360.96 146.55 361.63 149.03 362.53C151.51 363.43 154.23 364.11 157.15 365.23C160.08 366.36 163.2 368.05 166.57 369.29C169.94 370.52 173.77 371.8 177.37 372.66C180.97 373.51 184.57 373.85 188.17 374.42C191.77 374.98 194.91 375.43 198.98 376.04C203.04 376.64 208.04 377.32 212.55 378.06C217.05 378.8 221.53 379.71 226.02 380.49C230.52 381.28 235.33 382.11 239.5 382.79C243.67 383.46 246.46 384.54 251.04 384.54C255.63 384.54 262 382.88 267.02 382.78C272.03 382.67 275.05 383.54 281.14 383.92C287.23 384.3 297.14 384.79 303.57 385.06C310.01 385.33 309.42 385.06 319.73 385.52C330.04 385.98 354 388.26 365.43 387.8C376.86 387.35 379.94 383.73 388.32 382.78C396.71 381.82 407.37 381.63 415.74 382.09C424.11 382.55 429.41 384.11 438.55 385.52C447.69 386.93 459.9 390.36 470.58 390.55C481.26 390.74 493.48 387.77 502.62 386.66C511.76 385.56 516.17 383.73 525.42 383.92C534.67 384.11 552.65 387.16 558.1 387.8" stroke="#000" stroke-width="1.75" fill="none" stroke-dasharray="7.5 8.6"/>
<path d="M96.5 384.06C97.38 384.39 99.75 384.62 101.76 386.08C103.78 387.54 106.33 390.57 108.59 392.82C110.86 395.08 113.09 397.44 115.33 399.58C117.58 401.72 119.83 403.94 122.07 405.66C124.32 407.38 126.57 408.64 128.81 409.91C131.06 411.19 133.3 412.31 135.55 413.31C137.8 414.3 139.81 415.1 142.29 415.89C144.77 416.68 147.71 417.33 150.41 418.04C153.12 418.76 155.85 419.39 158.54 420.19C161.23 420.98 163.88 422.1 166.57 422.82C169.26 423.53 171.99 423.96 174.7 424.49C177.4 425.03 180.57 425.61 182.82 426.02C185.07 426.44 185.48 426.56 188.17 426.99C190.87 427.42 194.91 428.07 198.98 428.61C203.04 429.15 208.04 429.78 212.55 430.23C217.05 430.68 221.53 431.08 226.02 431.31C230.52 431.54 235.33 431.42 239.5 431.6C243.67 431.78 246.84 432.03 251.04 432.39C255.24 432.76 259.69 433.22 264.71 433.79C269.72 434.35 275.82 435.73 281.14 435.78C286.46 435.83 292.91 434.35 296.65 434.08C300.39 433.81 299.76 434.09 303.57 434.19C307.39 434.28 311.13 433.84 319.55 434.66C327.96 435.48 345.09 438.15 354.07 439.1C363.06 440.05 365.09 440.33 373.46 440.35C381.83 440.37 393.45 440.36 404.29 439.21C415.14 438.06 429.79 433.91 438.55 433.45C447.3 433 453.01 435.85 456.82 436.47C460.64 437.09 456.49 436.06 461.44 437.17C466.4 438.29 475.89 442.59 486.55 443.16C497.21 443.73 513.49 441.06 525.42 440.59C537.34 440.12 552.65 440.39 558.1 440.35" stroke="#000" stroke-width="1.75" fill="none" stroke-dasharray="7.5 8.6"/>
<path d="M96.5 443.83C97.38 444.2 99.75 444.46 101.76 446.07C103.78 447.69 106.33 451.12 108.59 453.5C110.86 455.89 113.09 458.21 115.33 460.4C117.58 462.59 119.83 464.83 122.07 466.64C124.32 468.45 126.33 469.78 128.81 471.26C131.29 472.74 134.24 474.27 136.94 475.51C139.63 476.75 142.28 477.68 144.97 478.69C147.66 479.7 149.94 480.56 153.09 481.59C156.25 482.62 160.29 483.78 163.89 484.88C167.49 485.97 171.09 487.13 174.7 488.16C178.3 489.19 182.34 490.34 185.5 491.04C188.65 491.74 191.37 492.02 193.62 492.37C195.87 492.73 196.28 493.1 198.98 493.18C201.67 493.25 206.39 492.96 209.78 492.83C213.16 492.7 215.45 492.63 219.29 492.39C223.12 492.15 229.16 491.51 232.76 491.37C236.36 491.23 237.84 491.24 240.89 491.57C243.94 491.9 248.21 492.81 251.04 493.34C253.87 493.86 252.86 494.5 257.88 494.73C262.89 494.97 274.68 494.82 281.14 494.73C287.6 494.65 292.16 494.13 296.65 494.22C301.14 494.31 304.25 495.32 308.1 495.29C311.94 495.26 312.07 493.88 319.73 494.05C327.39 494.22 345.12 496.2 354.07 496.31C363.03 496.43 365.84 494.92 373.46 494.73C381.08 494.55 392.72 495.03 399.77 495.19C406.82 495.35 410.03 494.93 415.74 495.69C421.45 496.45 427.17 498.93 434.02 499.76C440.87 500.59 446.55 500.62 456.82 500.68C467.1 500.75 484.26 500.15 495.69 500.16C507.12 500.16 515.02 500.97 525.42 500.71C535.82 500.45 552.65 498.97 558.1 498.62" stroke="#000" stroke-width="1.75" fill="none" stroke-dasharray="7.5 8.6"/>
<path d="M96.5 503.6C97.61 503.78 100.92 503.78 103.15 504.66C105.38 505.55 107.41 507.55 109.89 508.91C112.36 510.27 115.3 511.37 118.01 512.82C120.72 514.27 123.89 516.36 126.13 517.6C128.38 518.83 129.92 519.44 131.49 520.25C133.06 521.07 133.3 521.25 135.55 522.49C137.8 523.72 141.81 526.04 144.97 527.67C148.12 529.31 151.77 531.05 154.48 532.29C157.19 533.53 158.29 533.93 161.22 535.1C164.14 536.27 169.33 538.41 172.02 539.31C174.71 540.21 174.68 539.88 177.37 540.51C180.06 541.13 184.57 542.25 188.17 543.06C191.77 543.88 195.82 544.75 198.98 545.4C202.13 546.06 203.71 546.46 207.1 546.99C210.48 547.51 216.58 548.3 219.29 548.57C221.99 548.84 221.1 548.54 223.35 548.61C225.59 548.67 230.07 548.82 232.76 548.93C235.46 549.04 237.26 549.18 239.5 549.28C241.75 549.38 244.32 549.31 246.24 549.55C248.17 549.79 249.1 550.34 251.04 550.72C252.98 551.1 252.86 551.18 257.88 551.85C262.89 552.52 273.52 553.71 281.14 554.74C288.76 555.77 297.14 556.91 303.57 558.03C310.01 559.14 313.22 560.49 319.73 561.45C326.24 562.41 335.01 563.62 342.63 563.81C350.24 564 360.29 562.87 365.43 562.59C370.57 562.32 362.03 562.21 373.46 562.16C384.89 562.12 418.6 561.89 434.02 562.32C449.44 562.76 445.28 564.62 465.96 564.77C486.64 564.93 542.74 563.53 558.1 563.28" stroke="#000" stroke-width="1.75" fill="none" stroke-dasharray="7.5 8.6"/>
<path d="M96.5 25.43C97.38 25.56 99.75 25.51 101.76 26.2C103.78 26.89 106.33 28.12 108.59 29.58C110.86 31.04 113.09 33.18 115.33 34.98C117.58 36.78 119.83 38.65 122.07 40.38C124.32 42.11 126.57 43.87 128.81 45.38C131.06 46.88 132.86 48.01 135.55 49.43C138.24 50.85 141.6 52.4 144.97 53.88C148.34 55.37 152.17 56.99 155.77 58.34C159.37 59.69 162.97 60.93 166.57 61.99C170.17 63.04 173.77 63.78 177.37 64.68C180.97 65.58 184.57 66.6 188.17 67.38C191.77 68.17 194.91 68.74 198.98 69.41C203.04 70.09 208.04 70.81 212.55 71.44C217.05 72.07 221.53 72.63 226.02 73.19C230.52 73.76 235.33 74.27 239.5 74.81C243.67 75.35 246.84 76.06 251.04 76.43C255.24 76.81 259.69 76.85 264.71 77.07C269.72 77.29 274.66 77.45 281.14 77.75C287.62 78.06 297.14 78.44 303.57 78.9C310.01 79.35 313.22 79.85 319.73 80.5C326.24 81.15 333.67 82.59 342.63 82.78C351.58 82.97 363.94 81.72 373.46 81.64C382.98 81.56 390.06 81.83 399.77 82.32C409.48 82.82 420.74 84.23 431.71 84.61C442.68 84.99 453.78 84.34 465.6 84.61C477.41 84.88 487.2 86.32 502.62 86.21C518.03 86.09 548.85 84.3 558.1 83.92" stroke="#000" stroke-width="1.75" fill="none" stroke-linejoin="round"/>
<path d="M96.5 85.2C97.38 85.35 99.75 84.92 101.76 86.07C103.78 87.23 106.33 89.9 108.59 92.15C110.86 94.4 113.09 97.21 115.33 99.58C117.58 101.94 119.83 104.31 122.07 106.33C124.32 108.36 126.57 110.15 128.81 111.73C131.06 113.3 132.86 114.43 135.55 115.78C138.24 117.13 141.6 118.48 144.97 119.83C148.34 121.18 152.17 122.54 155.77 123.89C159.37 125.24 162.97 126.69 166.57 127.93C170.17 129.17 174.22 130.41 177.37 131.31C180.53 132.21 182.34 132.77 185.5 133.34C188.65 133.9 191.79 134.39 196.3 134.69C200.81 134.98 207.59 135.09 212.55 135.09C217.5 135.09 221.98 134.8 226.02 134.69C230.07 134.57 232.66 134.08 236.83 134.42C241 134.76 246.4 136.18 251.04 136.71C255.69 137.25 259.69 137.08 264.71 137.62C269.72 138.15 274.66 139.52 281.14 139.9C287.62 140.28 297.14 139.9 303.57 139.9C310.01 139.9 312.47 139.29 319.73 139.9C326.99 140.51 338.19 143.25 347.15 143.56C356.1 143.86 363.55 142.22 373.46 141.73C383.37 141.23 396.51 140.51 406.6 140.59C416.7 140.66 424.19 141.81 434.02 142.19C443.85 142.57 454.16 142.87 465.6 142.87C477.03 142.87 487.2 142 502.62 142.19C518.03 142.38 548.85 143.71 558.1 144.01" stroke="#000" stroke-width="1.75" fill="none" stroke-linejoin="round"/>
<path d="M96.5 144.97C97.38 145.16 99.75 144.77 101.76 146.08C103.78 147.39 106.33 150.58 108.59 152.83C110.86 155.08 113.09 157.56 115.33 159.58C117.58 161.61 119.83 163.18 122.07 164.98C124.32 166.78 126.12 168.58 128.81 170.38C131.5 172.18 134.86 174.1 138.23 175.78C141.6 177.47 145.65 179.16 149.03 180.51C152.42 181.86 155.62 182.76 158.54 183.88C161.46 185.01 163.43 186.25 166.57 187.26C169.71 188.27 173.77 189.18 177.37 189.96C180.97 190.75 184.57 191.47 188.17 191.98C191.77 192.5 194.91 192.77 198.98 193.06C203.04 193.36 208.27 193.63 212.55 193.74C216.82 193.85 220.59 193.47 224.64 193.74C228.69 194.01 232.43 194.41 236.83 195.36C241.23 196.31 246.4 198.53 251.04 199.41C255.69 200.3 259.69 200.47 264.71 200.68C269.72 200.89 274.66 200.6 281.14 200.68C287.62 200.76 297.14 201.06 303.57 201.13C310.01 201.21 312.47 201.06 319.73 201.13C326.99 201.21 338.19 202.05 347.15 201.59C356.1 201.13 365.84 198.66 373.46 198.39C381.08 198.12 385.8 199.34 392.85 199.99C399.89 200.64 407.74 202.16 415.74 202.28C423.74 202.39 430.19 200.41 440.85 200.68C451.52 200.95 467.53 203.61 479.72 203.88C491.91 204.14 500.91 203.11 513.97 202.28C527.03 201.44 550.75 199.42 558.1 198.85" stroke="#000" stroke-width="1.75" fill="none" stroke-linejoin="round"/>
<path d="M96.5 204.74C97.38 205.08 99.75 205.29 101.76 206.75C103.78 208.21 106.33 211.25 108.59 213.5C110.86 215.75 113.09 218.12 115.33 220.25C117.58 222.39 119.83 224.53 122.07 226.33C124.32 228.13 126.33 229.59 128.81 231.05C131.29 232.52 134.24 233.76 136.94 235.11C139.63 236.46 142.28 237.81 144.97 239.16C147.66 240.51 150.38 241.97 153.09 243.21C155.8 244.44 158.51 245.46 161.22 246.58C163.92 247.71 166.65 249.06 169.34 249.96C172.03 250.86 174.68 251.42 177.37 251.99C180.06 252.55 183.23 253.07 185.5 253.34C187.76 253.61 188.7 253.83 190.94 253.61C193.19 253.38 196.05 252.48 198.98 251.99C201.9 251.49 205.1 250.79 208.48 250.64C211.87 250.48 215.24 250.7 219.29 251.04C223.33 251.38 228.93 252.05 232.76 252.66C236.6 253.27 239.23 253.9 242.27 254.69C245.32 255.48 247.3 256.68 251.04 257.38C254.78 258.09 260.91 258.49 264.71 258.94C268.51 259.39 267.37 260.19 273.85 260.08C280.32 259.97 295.93 258.56 303.57 258.26C311.22 257.95 308.08 257.76 319.73 258.26C331.38 258.75 357.46 260.28 373.46 261.23C389.46 262.18 404.51 263.32 415.74 263.96C426.97 264.61 432.48 265.6 440.85 265.11C449.22 264.61 455.67 261.95 465.96 260.99C476.26 260.04 487.26 258.9 502.62 259.4C517.97 259.89 548.85 263.2 558.1 263.96" stroke="#000" stroke-width="1.75" fill="none" stroke-linejoin="round"/>
<path d="M96.5 264.51C97.87 264.99 101.82 265.77 104.72 267.4C107.61 269.02 110.42 271.2 113.86 274.25C117.29 277.29 121.49 281.87 125.3 285.67C129.12 289.48 132.95 294.16 136.75 297.1C140.55 300.03 142.78 300.79 148.11 303.26C153.43 305.74 161.91 310.43 168.69 311.95C175.48 313.47 181.59 311.95 188.82 312.4C196.05 312.86 204.39 313.81 212.08 314.69C219.78 315.56 227.35 316.89 234.98 317.66C242.61 318.42 250.18 318.69 257.88 319.26C265.57 319.83 273.52 321.35 281.14 321.09C288.76 320.82 297.14 318.61 303.57 317.66C310.01 316.7 311.31 315.56 319.73 315.37C328.15 315.18 342.64 316.71 354.07 316.52C365.51 316.32 376.14 313.58 388.32 314.23C400.51 314.88 416.14 320.21 427.19 320.4C438.24 320.59 445.85 315.64 454.61 315.37C463.36 315.11 469.83 317.39 479.72 318.8C489.61 320.21 504.06 323.87 513.97 323.83C523.88 323.79 531.82 319.14 539.17 318.57C546.53 318 554.95 320.1 558.1 320.4" stroke="#000" stroke-width="1.75" fill="none" stroke-linejoin="round"/>
<path d="M96.5 324.29C97.38 324.58 99.75 324.65 101.76 326.08C103.78 327.5 106.33 330.58 108.59 332.83C110.86 335.08 113.09 337.44 115.33 339.58C117.58 341.72 119.83 343.74 122.07 345.65C124.32 347.57 126.57 349.37 128.81 351.06C131.06 352.75 133.3 354.32 135.55 355.78C137.8 357.25 140.04 358.71 142.29 359.83C144.54 360.96 146.55 361.63 149.03 362.53C151.51 363.43 154.23 364.11 157.15 365.23C160.08 366.36 163.2 368.05 166.57 369.29C169.94 370.52 173.77 371.8 177.37 372.66C180.97 373.51 184.57 373.85 188.17 374.42C191.77 374.98 194.91 375.43 198.98 376.04C203.04 376.64 208.04 377.32 212.55 378.06C217.05 378.8 221.53 379.71 226.02 380.49C230.52 381.28 235.33 382.11 239.5 382.79C243.67 383.46 246.46 384.54 251.04 384.54C255.63 384.54 262 382.88 267.02 382.78C272.03 382.67 275.05 383.54 281.14 383.92C287.23 384.3 297.14 384.79 303.57 385.06C310.01 385.33 309.42 385.06 319.73 385.52C330.04 385.98 354 388.26 365.43 387.8C376.86 387.35 379.94 383.73 388.32 382.78C396.71 381.82 407.37 381.63 415.74 382.09C424.11 382.55 429.41 384.11 438.55 385.52C447.69 386.93 459.9 390.36 470.58 390.55C481.26 390.74 493.48 387.77 502.62 386.66C511.76 385.56 516.17 383.73 525.42 383.92C534.67 384.11 552.65 387.16 558.1 387.8" stroke="#000" stroke-width="1.75" fill="none" stroke-linejoin="round"/>
<path d="M96.5 384.06C97.38 384.39 99.75 384.62 101.76 386.08C103.78 387.54 106.33 390.57 108.59 392.82C110.86 395.08 113.09 397.44 115.33 399.58C117.58 401.72 119.83 403.93 122.07 405.66C124.32 407.39 126.57 408.67 128.81 409.97C131.06 411.28 133.3 412.45 135.55 413.49C137.8 414.52 139.81 415.36 142.29 416.19C144.77 417.02 147.71 417.65 150.41 418.48C153.12 419.32 155.85 420.17 158.54 421.18C161.23 422.19 163.88 423.54 166.57 424.56C169.26 425.57 171.99 426.36 174.7 427.26C177.4 428.16 180.57 429.28 182.82 429.96C185.07 430.64 185.48 430.82 188.17 431.31C190.87 431.81 194.91 432.44 198.98 432.93C203.04 433.43 208.04 433.92 212.55 434.28C217.05 434.64 221.53 434.8 226.02 435.09C230.52 435.38 235.33 435.65 239.5 436.03C243.67 436.42 246.84 437.04 251.04 437.38C255.24 437.72 259.69 437.77 264.71 438.07C269.72 438.38 275.82 438.91 281.14 439.21C286.46 439.52 290.25 439.14 296.65 439.9C303.05 440.66 309.97 442.94 319.55 443.78C329.12 444.62 339.95 445 354.07 444.92C368.2 444.85 390.22 444.58 404.29 443.33C418.37 442.07 429.02 437.76 438.55 437.38C448.07 437 453.44 439.4 461.44 441.04C469.44 442.68 475.89 446.56 486.55 447.21C497.21 447.86 513.49 445.3 525.42 444.92C537.34 444.54 552.65 444.92 558.1 444.92" stroke="#000" stroke-width="1.75" fill="none" stroke-linejoin="round"/>
<path d="M96.5 443.83C97.38 444.2 99.75 444.46 101.76 446.07C103.78 447.69 106.33 451.14 108.59 453.5C110.86 455.87 113.09 458.11 115.33 460.25C117.58 462.39 119.83 464.58 122.07 466.33C124.32 468.09 126.33 469.37 128.81 470.78C131.29 472.2 134.24 473.55 136.94 474.84C139.63 476.12 142.28 477.31 144.97 478.48C147.66 479.65 149.94 480.73 153.09 481.86C156.25 482.98 160.29 484.11 163.89 485.24C167.49 486.36 171.09 487.55 174.7 488.61C178.3 489.66 182.34 490.79 185.5 491.58C188.65 492.37 191.37 492.86 193.62 493.34C195.87 493.81 196.28 494.3 198.98 494.42C201.67 494.53 206.39 494.19 209.78 494.01C213.16 493.83 215.45 493.56 219.29 493.34C223.12 493.11 229.16 492.7 232.76 492.66C236.36 492.62 237.84 492.66 240.89 493.07C243.94 493.47 248.21 494.55 251.04 495.09C253.87 495.64 252.86 495.74 257.88 496.33C262.89 496.92 274.68 498.05 281.14 498.62C287.6 499.19 292.16 499.19 296.65 499.76C301.14 500.33 304.25 501.66 308.1 502.04C311.94 502.42 312.07 501.74 319.73 502.04C327.39 502.35 345.12 503.87 354.07 503.87C363.03 503.87 363.18 503.11 373.46 502.04C383.74 500.98 401.85 497.67 415.74 497.48C429.64 497.29 443.5 500.14 456.82 500.9C470.15 501.66 484.26 501.55 495.69 502.04C507.12 502.54 515.02 503.68 525.42 503.87C535.82 504.06 552.65 503.3 558.1 503.19" stroke="#000" stroke-width="1.75" fill="none" stroke-linejoin="round"/>
<path d="M96.5 503.6C97.61 503.85 100.92 504.09 103.15 505.13C105.38 506.17 107.41 508.05 109.89 509.85C112.36 511.65 115.3 514.01 118.01 515.93C120.72 517.84 123.21 519.53 126.13 521.33C129.06 523.13 132.41 524.93 135.55 526.73C138.69 528.53 141.81 530.44 144.97 532.13C148.12 533.82 151.32 535.4 154.48 536.86C157.63 538.32 160.97 539.83 163.89 540.91C166.82 541.99 169.31 542.71 172.02 543.34C174.73 543.97 177.45 544.2 180.14 544.69C182.83 545.19 185.03 545.59 188.17 546.31C191.31 547.03 195.59 548.16 198.98 549.01C202.36 549.87 205.1 550.81 208.48 551.44C211.87 552.07 215.24 552.52 219.29 552.79C223.33 553.06 227.47 552.9 232.76 553.06C238.06 553.22 246.86 553.67 251.04 553.73C255.23 553.8 252.86 553.31 257.88 553.45C262.89 553.6 273.52 554.14 281.14 554.59C288.76 555.05 297.14 555.7 303.57 556.2C310.01 556.69 313.22 556.88 319.73 557.57C326.24 558.25 333.67 560.04 342.63 560.31C351.58 560.58 358.23 559.17 373.46 559.17C388.69 559.17 418.6 559.62 434.02 560.31C449.44 560.99 445.28 562.78 465.96 563.28C486.64 563.77 542.74 563.28 558.1 563.28" stroke="#000" stroke-width="1.75" fill="none" stroke-linejoin="round"/>
</g>
<circle cx="431.71" cy="85.2" r="8.1" fill="#000"/>
<circle cx="511.29" cy="144.97" r="8.1" fill="#000"/>
<circle cx="403.19" cy="204.74" r="8.1" fill="#000"/>
<circle cx="422.11" cy="264.51" r="8.1" fill="#000"/>
<circle cx="456.18" cy="324.29" r="8.1" fill="#000"/>
<circle cx="403.19" cy="384.06" r="8.1" fill="#000"/>
<circle cx="404.29" cy="443.83" r="8.1" fill="#000"/>
<circle cx="495.69" cy="503.6" r="8.1" fill="#000"/>
<circle cx="540.93" cy="563.37" r="8.1" fill="#000"/>
<clipPath id="clipb"><rect x="707.3" y="7.5" width="461.5" height="573.8"/></clipPath>
<g clip-path="url(#clipb)">
<path d="M707.3 25.43C708.22 25.62 711.25 25.64 712.84 26.58C714.42 27.53 715.47 29.26 716.81 31.1C718.15 32.94 719.51 35.03 720.87 37.64C722.22 40.25 723.58 43.78 724.93 46.76C726.28 49.75 727.64 52.72 728.99 55.54C730.34 58.37 731.7 61.39 733.05 63.74C734.41 66.08 735.76 67.66 737.11 69.62C738.47 71.59 739.82 73.67 741.17 75.55C742.53 77.43 743.67 79.35 745.24 80.91C746.8 82.48 748.79 83.97 750.59 84.94C752.39 85.91 754 86.4 756.03 86.74C758.07 87.08 760.97 86.84 762.77 86.97C764.57 87.09 764.36 87.25 766.83 87.47C769.31 87.68 774.94 88.16 777.63 88.25C780.32 88.35 781.19 88.04 782.99 88.05C784.79 88.05 786.17 88.34 788.43 88.28C790.69 88.21 793.86 87.9 796.55 87.64C799.25 87.38 801.66 86.83 804.58 86.74C807.51 86.65 810.94 86.99 814.09 87.12C817.24 87.24 820.14 87.25 823.51 87.48C826.87 87.71 830.71 87.98 834.3 88.48C837.9 88.97 841.95 90.14 845.1 90.46C848.26 90.78 850.41 90.54 853.23 90.4C856.04 90.27 856.73 89.86 861.99 89.67C867.26 89.48 877.18 89.26 884.79 89.26C892.41 89.25 899.99 89.58 907.68 89.63C915.37 89.67 921.34 89.69 930.94 89.54C940.54 89.38 954.99 89.33 965.28 88.71C975.57 88.1 983.18 85.98 992.69 85.86C1002.2 85.75 1013.57 87.23 1022.32 88.04C1031.07 88.84 1035.3 90.8 1045.21 90.69C1055.12 90.57 1066.53 87.37 1081.76 87.35C1096.99 87.32 1123.63 90.45 1136.59 90.56C1149.54 90.68 1154.11 89.1 1159.48 88.04C1164.85 86.97 1167.25 84.8 1168.8 84.15" stroke="#000" stroke-width="1.75" fill="none" stroke-dasharray="1.4 4.15"/>
<path d="M707.3 85.2C708.44 85.46 711.87 85.7 714.13 86.75C716.39 87.8 718.61 89.68 720.87 91.48C723.13 93.28 725.44 95.41 727.7 97.55C729.96 99.69 732.19 102.17 734.44 104.3C736.68 106.44 738.93 108.47 741.17 110.38C743.42 112.3 745.44 113.87 747.91 115.78C750.39 117.69 753.33 120.06 756.03 121.86C758.74 123.66 761.46 125.12 764.16 126.58C766.85 128.04 769.49 129.4 772.19 130.63C774.88 131.87 777.39 133 780.31 134.01C783.23 135.02 786.57 135.92 789.72 136.71C792.88 137.5 795.85 138.02 799.23 138.74C802.62 139.46 806.43 140.29 810.03 141.03C813.63 141.78 817.23 142.56 820.83 143.19C824.43 143.82 827.8 144.38 831.63 144.81C835.46 145.24 840.44 145.69 843.81 145.76C847.18 145.82 848.81 145.05 851.84 145.22C854.87 145.38 855.35 146.76 861.99 146.75C868.64 146.74 882.96 145.39 891.72 145.16C900.47 144.93 907.98 145.2 914.51 145.39C921.05 145.58 920.59 146.22 930.94 146.3C941.3 146.38 961.4 145.53 976.63 145.84C991.86 146.14 1007.89 148.27 1022.32 148.13C1036.75 147.99 1051.78 144.84 1063.21 144.99C1074.64 145.14 1073.3 148.36 1090.9 149.04C1108.5 149.71 1155.82 149.04 1168.8 149.04" stroke="#000" stroke-width="1.75" fill="none" stroke-dasharray="1.4 4.15"/>
<path d="M707.3 144.97C709.79 145.36 718.64 146.32 722.25 147.29C725.87 148.26 726.65 149.56 728.99 150.8C731.33 152.04 734.04 153.33 736.28 154.75C738.53 156.17 740.56 157.97 742.47 159.31C744.37 160.64 745.47 161.42 747.73 162.77C749.99 164.12 752.4 165.4 756.03 167.41C759.66 169.42 765.19 172.43 769.51 174.83C773.83 177.24 777.02 179.35 781.97 181.82C786.92 184.3 793.51 187.27 799.23 189.69C804.95 192.1 810.46 194.42 816.31 196.31C822.15 198.2 830.51 200.05 834.3 201.03C838.1 202.01 836.84 201.77 839.1 202.17C841.37 202.58 844.06 203.11 847.87 203.46C851.69 203.82 854.69 204.13 861.99 204.32C869.3 204.5 882.96 204.42 891.72 204.58C900.47 204.74 907.98 205.16 914.51 205.27C921.05 205.38 918.68 205.51 930.94 205.25C943.2 204.99 969.03 203.71 988.08 203.71C1007.12 203.71 1031.89 204.85 1045.21 205.25C1058.53 205.64 1047.41 206.1 1068.01 206.1C1088.61 206.1 1152 205.39 1168.8 205.25" stroke="#000" stroke-width="1.75" fill="none" stroke-dasharray="1.4 4.15"/>
<path d="M707.3 204.74C708.67 204.9 712.79 205.11 715.51 205.67C718.24 206.23 720.95 206.91 723.64 208.1C726.33 209.3 728.98 211.14 731.67 212.82C734.36 214.51 737.08 216.31 739.79 218.23C742.5 220.14 745.2 222.28 747.91 224.31C750.62 226.33 753.33 228.47 756.03 230.38C758.74 232.29 761.46 234.09 764.16 235.78C766.85 237.47 769.49 239.05 772.19 240.51C774.88 241.97 777.6 243.32 780.31 244.56C783.02 245.79 785.72 246.99 788.43 247.93C791.14 248.88 793.86 249.49 796.55 250.23C799.25 250.97 801.45 251.64 804.58 252.39C807.72 253.13 811.78 253.97 815.38 254.69C818.98 255.41 822.58 256.1 826.18 256.71C829.78 257.32 832.92 257.83 836.98 258.33C841.04 258.82 846.38 259.32 850.55 259.68C854.72 260.04 858.95 260.27 861.99 260.49C865.04 260.71 863.87 260.72 868.82 260.99C873.78 261.27 884.1 261.83 891.72 262.14C899.33 262.44 907.98 262.71 914.51 262.82C921.05 262.94 921.39 262.58 930.94 262.82C940.5 263.07 961.17 264.08 971.83 264.28C982.49 264.49 990.29 264.11 994.91 264.06C999.52 264.01 987.34 264.08 999.52 263.96C1011.71 263.85 1052.78 263.36 1068.01 263.36C1083.24 263.36 1083.28 263.7 1090.9 263.96C1098.51 264.23 1100.71 264.93 1113.7 264.93C1126.68 264.93 1159.62 264.13 1168.8 263.96" stroke="#000" stroke-width="1.75" fill="none" stroke-dasharray="1.4 4.15"/>
<path d="M707.3 264.51C709.12 264.62 714.68 264.32 718.19 265.12C721.7 265.92 724.3 267.3 728.34 269.31C732.39 271.32 737.85 274.61 742.47 277.2C747.08 279.79 751.53 282.28 756.03 284.84C760.54 287.39 765.02 290.06 769.51 292.54C774 295.01 778.48 297.69 782.99 299.69C787.49 301.69 792.05 303.08 796.55 304.55C801.06 306.01 805.54 307.3 810.03 308.48C814.52 309.66 819.01 310.65 823.51 311.61C828 312.56 832.47 313.46 836.98 314.19C841.49 314.92 846.38 315.47 850.55 315.97C854.72 316.46 857.04 316.45 861.99 317.18C866.95 317.9 875.32 319.62 880.27 320.32C885.22 321.01 886.01 320.88 891.72 321.36C897.42 321.85 906.41 322.67 914.51 323.22C922.62 323.77 930 323.97 940.36 324.66C950.71 325.35 962.97 326.71 976.63 327.36C990.29 328.01 1007.09 328.47 1022.32 328.56C1037.55 328.66 1052.78 328.16 1068.01 327.94C1083.24 327.73 1101.47 327.67 1113.7 327.26C1125.93 326.85 1132.2 325.79 1141.39 325.49C1150.57 325.18 1164.23 325.44 1168.8 325.43" stroke="#000" stroke-width="1.75" fill="none" stroke-dasharray="1.4 4.15"/>
<path d="M707.3 324.29C708.67 324.39 713.02 324.39 715.51 324.92C718.01 325.44 719.56 326.16 722.25 327.43C724.94 328.7 729.42 331.31 731.67 332.55C733.91 333.79 734.37 334.13 735.73 334.85C737.08 335.58 737.76 335.87 739.79 336.89C741.82 337.91 745.2 339.52 747.91 340.96C750.62 342.4 753.56 344.2 756.03 345.54C758.51 346.89 760.08 347.61 762.77 349.03C765.46 350.45 769.94 352.93 772.19 354.05C774.43 355.18 774.89 355.16 776.25 355.78C777.6 356.41 778.28 356.88 780.31 357.8C782.34 358.72 785.72 360.12 788.43 361.3C791.14 362.49 794.08 363.91 796.55 364.9C799.03 365.9 800.15 366.06 803.29 367.26C806.43 368.46 811.57 370.71 815.38 372.11C819.2 373.51 823.71 374.9 826.18 375.67C828.66 376.43 828.44 376.29 830.24 376.71C832.04 377.13 834.72 377.73 836.98 378.18C839.24 378.63 841.55 379 843.81 379.41C846.07 379.83 847.86 380.17 850.55 380.66C853.24 381.15 857.1 381.83 859.96 382.35C862.83 382.86 862.43 383.38 867.72 383.76C873.01 384.13 883.92 384.34 891.72 384.62C899.51 384.9 907.98 385.2 914.51 385.44C921.05 385.67 916.77 385.25 930.94 386.02C945.11 386.8 975.52 389.76 999.52 390.09C1023.52 390.41 1055.9 387.99 1074.93 387.99C1093.96 387.99 1102.62 390.67 1113.7 390.09C1124.77 389.51 1132.2 385.28 1141.39 384.52C1150.57 383.76 1164.23 385.35 1168.8 385.52" stroke="#000" stroke-width="1.75" fill="none" stroke-dasharray="1.4 4.15"/>
<path d="M707.3 384.06C708.67 383.94 712.79 383.06 715.51 383.38C718.24 383.69 720.95 384.53 723.64 385.96C726.33 387.39 728.98 389.91 731.67 391.96C734.36 394.01 737.11 396.31 739.79 398.28C742.47 400.26 745.02 401.78 747.73 403.8C750.43 405.82 753.3 408.34 756.03 410.41C758.77 412.48 761.73 414.65 764.16 416.22C766.59 417.78 767.93 418.48 770.62 419.79C773.31 421.1 777.34 422.85 780.31 424.07C783.28 425.29 785.28 425.97 788.43 427.13C791.59 428.29 795.63 429.96 799.23 431.04C802.83 432.11 806.05 432.78 810.03 433.57C814.01 434.36 818.64 434.89 823.14 435.78C827.63 436.68 833.32 438.19 836.98 438.93C840.64 439.68 842.4 439.76 845.1 440.25C847.81 440.73 850.41 441.23 853.23 441.83C856.04 442.44 855.58 442.68 861.99 443.88C868.41 445.09 882.96 448.18 891.72 449.04C900.47 449.9 907.98 449.04 914.51 449.04C921.05 449.04 919.44 449.78 930.94 449.04C942.45 448.3 964.51 445.14 983.55 444.58C1002.6 444.02 1027.32 446.21 1045.21 445.67C1063.1 445.13 1079.48 442.12 1090.9 441.35C1102.31 440.58 1100.71 441.09 1113.7 441.04C1126.68 440.99 1159.62 441.04 1168.8 441.04" stroke="#000" stroke-width="1.75" fill="none" stroke-dasharray="1.4 4.15"/>
<path d="M707.3 443.83C708.67 444 713.02 443.78 715.51 444.86C718.01 445.93 720.01 448.23 722.25 450.25C724.5 452.28 726.74 454.64 728.99 457.01C731.24 459.37 733.48 462.18 735.73 464.43C737.97 466.68 740.2 468.48 742.47 470.51C744.73 472.53 747.04 474.67 749.3 476.58C751.56 478.49 753.79 480.41 756.03 481.98C758.28 483.56 760.53 484.8 762.77 486.04C765.02 487.27 767.26 488.4 769.51 489.41C771.76 490.42 774 491.32 776.25 492.11C778.49 492.9 780.74 493.46 782.99 494.14C785.23 494.81 787.46 495.49 789.72 496.16C791.99 496.84 793.17 497.29 796.55 498.19C799.94 499.09 805.54 500.55 810.03 501.57C814.52 502.58 819.01 503.59 823.51 504.26C828 504.94 832.47 505.32 836.98 505.61C841.49 505.91 846.38 505.91 850.55 506.02C854.72 506.13 855.13 506.19 861.99 506.29C868.86 506.39 882.96 506.37 891.72 506.62C900.47 506.86 907.98 507.57 914.51 507.76C921.05 507.95 920.59 508.14 930.94 507.76C941.3 507.38 966.02 505.85 976.63 505.47C987.25 505.09 987.02 505.09 994.63 505.47C1002.24 505.85 1013.09 507.76 1022.32 507.76C1031.55 507.76 1041.24 505.85 1050.01 505.47C1058.78 505.09 1062.41 505.09 1074.93 505.47C1087.45 505.85 1109.5 507.64 1125.14 507.76C1140.79 507.87 1161.52 506.42 1168.8 506.16" stroke="#000" stroke-width="1.75" fill="none" stroke-dasharray="1.4 4.15"/>
<path d="M707.3 503.6C708.33 504.29 711.32 504.97 713.48 507.76C715.65 510.55 718.04 515.56 720.31 520.32C722.59 525.08 724.85 531.37 727.14 536.32C729.44 541.27 731.77 546.22 734.07 550.03C736.36 553.84 738.62 556.88 740.9 559.17C743.17 561.45 744.68 562.9 747.73 563.73C750.77 564.57 753.51 564.27 759.17 564.19C764.83 564.12 773.33 563.94 781.69 563.29C790.06 562.64 799.82 561 809.38 560.31C818.95 559.62 830.34 559.22 839.1 559.16C847.87 559.1 854.38 559.57 861.99 559.95C869.61 560.34 877.18 561.66 884.79 561.45C892.41 561.24 900.07 559.19 907.68 558.69C915.3 558.19 918.99 558.57 930.48 558.45C941.97 558.33 955.6 558.16 976.63 557.98C997.66 557.79 1039.52 557.16 1056.66 557.36C1073.79 557.55 1068.04 558.87 1079.45 559.17C1090.87 559.47 1115.62 558.65 1125.14 559.17C1134.66 559.69 1131.97 561.42 1136.59 562.29C1141.2 563.17 1147.46 564.25 1152.83 564.41C1158.2 564.58 1166.14 563.47 1168.8 563.28" stroke="#000" stroke-width="1.75" fill="none" stroke-dasharray="1.4 4.15"/>
<path d="M707.3 25.43C708.22 25.64 711.25 25.71 712.84 26.68C714.42 27.66 715.47 29.41 716.81 31.27C718.15 33.14 719.51 35.25 720.87 37.88C722.22 40.51 723.58 44.04 724.93 47.03C726.28 50.02 727.64 52.98 728.99 55.81C730.34 58.64 731.7 61.66 733.05 64.01C734.41 66.35 735.76 67.92 737.11 69.89C738.47 71.86 739.82 73.92 741.17 75.83C742.53 77.73 743.67 79.69 745.24 81.32C746.8 82.95 748.79 84.63 750.59 85.61C752.39 86.6 754.45 86.96 756.03 87.23C757.62 87.5 758.3 86.98 760.1 87.23C761.9 87.49 764.82 88.33 766.83 88.74C768.85 89.15 770.39 89.41 772.19 89.67C773.99 89.93 775.83 90.2 777.63 90.31C779.43 90.42 781.19 90.33 782.99 90.34C784.79 90.36 786.4 90.52 788.43 90.4C790.46 90.29 792.48 89.76 795.17 89.67C797.86 89.58 802.11 89.67 804.58 89.85C807.06 90.03 808.45 90.71 810.03 90.74C811.61 90.78 811.85 90.19 814.09 90.06C816.34 89.92 820.14 90.03 823.51 89.94C826.87 89.84 830.71 89.42 834.3 89.51C837.9 89.6 841.95 90.43 845.1 90.48C848.26 90.52 850.41 90.12 853.23 89.76C856.04 89.4 856.73 88.77 861.99 88.32C867.26 87.86 877.18 87.32 884.79 87.02C892.41 86.72 899.99 86.75 907.68 86.5C915.37 86.25 921.34 86.03 930.94 85.51C940.54 84.98 954.99 84.36 965.28 83.35C975.57 82.34 983.18 79.92 992.69 79.44C1002.2 78.96 1014.34 80.06 1022.32 80.46C1030.3 80.87 1036.78 81.57 1040.6 81.87C1044.41 82.16 1042.16 82.46 1045.21 82.24C1048.26 82.01 1052.78 80.87 1058.87 80.5C1064.96 80.13 1076.42 79.89 1081.76 80.01C1087.1 80.12 1081.76 80.52 1090.9 81.18C1100.04 81.84 1123.6 84.09 1136.59 83.97C1149.57 83.86 1163.43 81.08 1168.8 80.5" stroke="#000" stroke-width="1.75" fill="none" stroke-dasharray="7.3 3.2 1.3 3.2"/>
<path d="M707.3 85.2C707.32 85.23 706.25 85.14 707.39 85.4C708.53 85.66 711.88 85.74 714.13 86.75C716.38 87.76 718.61 89.68 720.87 91.48C723.13 93.28 725.44 95.41 727.7 97.55C729.96 99.69 732.19 102.17 734.44 104.3C736.68 106.44 738.93 108.47 741.17 110.38C743.42 112.3 745.44 113.87 747.91 115.78C750.39 117.69 753.33 120.06 756.03 121.86C758.74 123.66 761.46 125.12 764.16 126.58C766.85 128.04 769.49 129.4 772.19 130.63C774.88 131.87 777.39 133 780.31 134.01C783.23 135.02 786.57 135.92 789.72 136.71C792.88 137.5 795.85 138.02 799.23 138.74C802.62 139.46 806.43 140.29 810.03 141.03C813.63 141.78 817.23 142.56 820.83 143.19C824.43 143.82 827.8 144.38 831.63 144.81C835.46 145.24 840.44 145.69 843.81 145.76C847.18 145.82 848.81 145.05 851.84 145.22C854.87 145.38 855.35 146.76 861.99 146.75C868.64 146.74 882.96 145.39 891.72 145.16C900.47 144.93 907.98 145.2 914.51 145.39C921.05 145.58 920.59 146.22 930.94 146.3C941.3 146.38 961.4 145.53 976.63 145.84C991.86 146.14 1003.28 148.62 1022.32 148.13C1041.36 147.63 1066.49 143.17 1090.9 142.87C1115.31 142.56 1155.82 145.73 1168.8 146.3" stroke="#000" stroke-width="1.75" fill="none" stroke-dasharray="7.3 3.2 1.3 3.2"/>
<path d="M707.3 144.97C709.79 145.31 718.64 146.1 722.25 147.02C725.87 147.95 726.65 149.3 728.99 150.53C731.33 151.76 734.04 153.02 736.28 154.41C738.53 155.81 740.56 157.58 742.47 158.91C744.37 160.23 745.47 161.02 747.73 162.37C749.99 163.72 752.4 164.99 756.03 167C759.66 169.02 765.19 172.03 769.51 174.43C773.83 176.84 777.02 178.94 781.97 181.42C786.92 183.89 793.51 186.87 799.23 189.29C804.95 191.7 810.46 193.99 816.31 195.9C822.15 197.82 830.51 199.76 834.3 200.76C838.1 201.76 836.84 201.5 839.1 201.9C841.37 202.31 844.06 202.72 847.87 203.19C851.69 203.66 857.38 204.35 861.99 204.74C866.61 205.14 870.61 205.3 875.56 205.54C880.52 205.78 885.22 205.83 891.72 206.16C898.21 206.49 907.98 207.22 914.51 207.53C921.05 207.83 918.68 208.18 930.94 207.99C943.2 207.8 965.23 206.31 988.08 206.39C1010.92 206.46 1037.89 208.44 1068.01 208.44C1098.13 208.44 1152 206.73 1168.8 206.39" stroke="#000" stroke-width="1.75" fill="none" stroke-dasharray="7.3 3.2 1.3 3.2"/>
<path d="M707.3 204.74C708.67 204.83 712.79 204.85 715.51 205.28C718.24 205.71 720.95 206.41 723.64 207.33C726.33 208.25 728.98 209.49 731.67 210.8C734.36 212.12 737.08 213.7 739.79 215.2C742.5 216.71 745.2 218.34 747.91 219.86C750.62 221.38 753.33 222.84 756.03 224.31C758.74 225.78 761.46 227.34 764.16 228.69C766.85 230.04 769.49 231.11 772.19 232.41C774.88 233.7 777.6 235.22 780.31 236.46C783.02 237.69 785.72 238.75 788.43 239.84C791.14 240.92 793.86 241.93 796.55 242.94C799.25 243.96 801.45 244.78 804.58 245.91C807.72 247.04 811.78 248.58 815.38 249.73C818.98 250.88 823.03 251.97 826.18 252.8C829.34 253.63 830.24 253.81 834.3 254.69C838.37 255.56 845.93 257.27 850.55 258.06C855.16 258.85 858.95 259.1 861.99 259.41C865.04 259.72 863.87 259.64 868.82 259.9C873.78 260.17 884.1 260.72 891.72 261.02C899.33 261.31 907.98 261.57 914.51 261.67C921.05 261.78 917.54 261.29 930.94 261.65C944.34 262.02 983.48 263.47 994.91 263.86C1006.34 264.24 987.34 263.96 999.52 263.96C1011.71 263.97 1048.98 263.63 1068.01 263.87C1087.04 264.12 1096.9 265.4 1113.7 265.42C1130.5 265.43 1159.62 264.21 1168.8 263.96" stroke="#000" stroke-width="1.75" fill="none" stroke-dasharray="7.3 3.2 1.3 3.2"/>
<path d="M707.3 264.51C707.32 264.5 705.58 264.35 707.39 264.45C709.21 264.55 714.59 264.27 718.19 265.12C721.79 265.98 724.94 267.48 728.99 269.58C733.04 271.67 737.96 274.98 742.47 277.68C746.97 280.38 751.53 283.15 756.03 285.78C760.54 288.41 765.02 291 769.51 293.48C774 295.96 778.48 298.65 782.99 300.63C787.49 302.61 792.05 303.94 796.55 305.36C801.06 306.78 805.54 308.01 810.03 309.14C814.52 310.26 819.01 311.21 823.51 312.11C828 313.01 832.47 313.87 836.98 314.54C841.49 315.22 846.38 315.71 850.55 316.16C854.72 316.61 857.04 316.58 861.99 317.24C866.95 317.91 875.32 319.53 880.27 320.17C885.22 320.81 886.01 320.67 891.72 321.09C897.42 321.51 906.41 322.23 914.51 322.68C922.62 323.14 930 323.26 940.36 323.83C950.71 324.4 962.97 325.62 976.63 326.11C990.29 326.61 1007.09 326.87 1022.32 326.8C1037.55 326.72 1043.6 325.88 1068.01 325.65C1092.42 325.43 1152 325.46 1168.8 325.43" stroke="#000" stroke-width="1.75" fill="none" stroke-dasharray="7.3 3.2 1.3 3.2"/>
<path d="M707.3 324.29C708.67 324.45 712.79 324.54 715.51 325.27C718.24 325.99 720.95 327.22 723.64 328.64C726.33 330.06 728.98 332.07 731.67 333.78C734.36 335.49 737.08 337.15 739.79 338.91C742.5 340.66 745.2 342.55 747.91 344.3C750.62 346.06 753.33 347.82 756.03 349.44C758.74 351.06 761.46 352.52 764.16 354.03C766.85 355.53 769.49 357.13 772.19 358.48C774.88 359.83 777.6 361 780.31 362.13C783.02 363.25 785.72 364.19 788.43 365.23C791.14 366.28 793.86 367.48 796.55 368.41C799.25 369.33 801.45 369.91 804.58 370.77C807.72 371.63 812.23 372.73 815.38 373.54C818.54 374.35 819.91 374.83 823.51 375.63C827.11 376.43 832.47 377.45 836.98 378.33C841.49 379.21 846.72 380.17 850.55 380.89C854.38 381.6 857.61 382.17 859.96 382.61C862.32 383.04 859.38 383.26 864.67 383.47C869.96 383.69 883.41 383.84 891.72 383.92C900.02 383.99 907.98 383.92 914.51 383.92C921.05 383.92 916.77 383.65 930.94 383.92C945.11 384.19 975.52 385.83 999.52 385.52C1023.52 385.22 1046.72 382.09 1074.93 382.09C1103.14 382.09 1153.16 384.95 1168.8 385.52" stroke="#000" stroke-width="1.75" fill="none" stroke-dasharray="7.3 3.2 1.3 3.2"/>
<path d="M707.3 384.06C707.32 384.06 706.02 383.87 707.39 384.05C708.76 384.23 712.81 384.23 715.51 385.13C718.22 386.03 720.95 387.72 723.64 389.45C726.33 391.19 728.98 393.5 731.67 395.53C734.36 397.55 737.08 399.69 739.79 401.6C742.5 403.52 745.2 405.09 747.91 407C750.62 408.91 753.33 411.17 756.03 413.08C758.74 414.99 761.46 416.91 764.16 418.48C766.85 420.06 769.49 421.29 772.19 422.53C774.88 423.77 777.6 424.85 780.31 425.91C783.02 426.97 785.28 427.75 788.43 428.88C791.59 430 795.63 431.47 799.23 432.66C802.83 433.85 805.98 434.91 810.03 436.03C814.08 437.16 819.01 438.44 823.51 439.41C828 440.38 833.38 441.28 836.98 441.84C840.58 442.41 842.4 442.52 845.1 442.79C847.81 443.06 850.41 443.18 853.23 443.46C856.04 443.74 855.58 444.03 861.99 444.47C868.41 444.9 882.96 445.69 891.72 446.07C900.47 446.45 907.98 446.56 914.51 446.75C921.05 446.94 919.44 447.71 930.94 447.21C942.45 446.72 964.51 443.97 983.55 443.78C1002.6 443.59 1027.32 446.26 1045.21 446.07C1063.1 445.88 1070.3 443.13 1090.9 442.64C1111.5 442.14 1155.82 443.02 1168.8 443.1" stroke="#000" stroke-width="1.75" fill="none" stroke-dasharray="7.3 3.2 1.3 3.2"/>
<path d="M707.3 443.83C708.67 444 713.02 443.78 715.51 444.86C718.01 445.93 720.01 448.23 722.25 450.25C724.5 452.28 726.85 454.76 728.99 457.01C731.13 459.25 732.84 461.49 735.08 463.72C737.33 465.95 740.1 468.29 742.47 470.4C744.84 472.51 747.04 474.49 749.3 476.37C751.56 478.25 753.79 480.13 756.03 481.68C758.28 483.22 760.53 484.46 762.77 485.63C765.02 486.8 767.26 487.78 769.51 488.69C771.76 489.59 774 490.39 776.25 491.07C778.49 491.76 780.74 492.22 782.99 492.79C785.23 493.35 787.46 493.91 789.72 494.48C791.99 495.04 793.17 495.43 796.55 496.16C799.94 496.89 805.54 498.19 810.03 498.86C814.52 499.54 819.01 499.88 823.51 500.21C828 500.55 832.47 500.65 836.98 500.89C841.49 501.13 846.38 501.44 850.55 501.66C854.72 501.89 855.13 501.99 861.99 502.24C868.86 502.49 882.96 502.8 891.72 503.19C900.47 503.57 907.98 504.29 914.51 504.55C921.05 504.8 926.64 504.74 930.94 504.71C935.25 504.67 932.74 504.77 940.36 504.33C947.97 503.88 955.36 502.42 976.63 502.04C997.91 501.66 1051.63 502.05 1068.01 502.04C1084.39 502.04 1065.41 501.68 1074.93 502C1084.45 502.31 1109.5 503.94 1125.14 503.94C1140.79 503.95 1161.52 502.36 1168.8 502.04" stroke="#000" stroke-width="1.75" fill="none" stroke-dasharray="7.3 3.2 1.3 3.2"/>
<path d="M707.3 503.6C708.33 504.29 711.32 504.97 713.48 507.76C715.65 510.55 718.08 515.67 720.31 520.32C722.54 524.97 724.58 530.48 726.87 535.67C729.16 540.85 731.73 547.07 734.07 551.44C736.41 555.82 738.62 559.19 740.9 561.92C743.17 564.65 745.45 566.58 747.73 567.83C750 569.09 752.65 569.17 754.56 569.45C756.47 569.73 754.6 569.75 759.17 569.52C763.74 569.28 776.26 568.42 781.97 568.03C787.68 567.63 788.85 567.87 793.42 567.16C797.98 566.46 804.77 564.58 809.38 563.79C814 563.01 816.15 562.53 821.11 562.45C826.06 562.36 832.29 562.68 839.1 563.28C845.92 563.87 854.38 564.99 861.99 566.02C869.61 567.04 877.18 569.45 884.79 569.45C892.41 569.45 900.07 566.74 907.68 566.02C915.3 565.29 918.99 565.56 930.48 565.11C941.97 564.65 955.6 564.08 976.63 563.28C997.66 562.48 1039.52 560.61 1056.66 560.31C1073.79 560 1066.13 560.57 1079.45 561.45C1092.78 562.33 1121.7 565.26 1136.59 565.56C1151.48 565.87 1163.43 563.66 1168.8 563.28" stroke="#000" stroke-width="1.75" fill="none" stroke-dasharray="7.3 3.2 1.3 3.2"/>
<path d="M707.3 25.43C708.22 25.64 711.25 25.71 712.84 26.68C714.42 27.66 715.47 29.41 716.81 31.27C718.15 33.14 719.51 35.25 720.87 37.88C722.22 40.51 723.58 44.04 724.93 47.03C726.28 50.02 727.64 52.98 728.99 55.81C730.34 58.64 731.7 61.66 733.05 64.01C734.41 66.35 735.76 67.92 737.11 69.89C738.47 71.86 739.82 73.92 741.17 75.83C742.53 77.73 743.67 79.69 745.24 81.32C746.8 82.95 748.79 84.63 750.59 85.61C752.39 86.6 754.45 86.96 756.03 87.23C757.62 87.5 758.3 86.96 760.1 87.23C761.9 87.51 764.82 88.44 766.83 88.89C768.85 89.34 770.39 89.67 772.19 89.94C773.99 90.21 775.83 90.42 777.63 90.51C779.43 90.6 781.19 90.46 782.99 90.47C784.79 90.49 786.4 90.69 788.43 90.6C790.46 90.51 792.48 90.04 795.17 89.94C797.86 89.83 802.11 89.82 804.58 89.95C807.06 90.09 808.45 90.71 810.03 90.74C811.61 90.77 811.85 90.23 814.09 90.14C816.34 90.05 820.14 90.27 823.51 90.2C826.87 90.14 830.71 89.68 834.3 89.77C837.9 89.86 841.95 90.7 845.1 90.75C848.26 90.79 850.41 90.39 853.23 90.03C856.04 89.67 856.73 88.96 861.99 88.59C867.26 88.21 877.18 87.94 884.79 87.81C892.41 87.68 899.99 87.89 907.68 87.81C915.37 87.73 921.34 87.24 930.94 87.35C940.54 87.46 954.99 88.49 965.28 88.46C975.57 88.43 986.98 87.22 992.69 87.15C998.4 87.08 994.58 88.1 999.52 88.04C1004.46 87.97 1014.71 87.02 1022.32 86.75C1029.93 86.49 1036.78 86.74 1045.21 86.43C1053.64 86.13 1066.81 85.31 1072.9 84.93C1078.99 84.54 1071.15 83.71 1081.76 84.15C1092.38 84.59 1122.08 87.58 1136.59 87.58C1151.09 87.58 1163.43 84.72 1168.8 84.15" stroke="#000" stroke-width="1.75" fill="none" stroke-dasharray="7.5 8.6"/>
<path d="M707.3 85.2C708.44 85.46 711.87 85.72 714.13 86.75C716.39 87.78 718.61 89.63 720.87 91.4C723.13 93.17 725.44 95.27 727.7 97.38C729.96 99.49 732.19 101.94 734.44 104.05C736.68 106.15 738.93 108.37 741.17 110.03C743.42 111.7 745.44 112.64 747.91 114.04C750.39 115.45 753.33 116.95 756.03 118.48C758.74 120.01 761.68 121.97 764.16 123.21C766.63 124.45 768.43 125.01 770.89 125.91C773.36 126.81 776.45 127.82 778.92 128.61C781.4 129.4 783.96 130.13 785.75 130.63C787.55 131.14 788.15 131.32 789.72 131.66C791.29 132 793.59 132.36 795.17 132.66C796.75 132.96 796.75 133.03 799.23 133.48C801.71 133.93 806.88 134.71 810.03 135.36C813.18 136.01 815.23 136.71 818.15 137.39C821.08 138.06 825.32 138.88 827.57 139.41C829.81 139.94 830.27 140.23 831.63 140.57C832.98 140.91 833.66 140.91 835.69 141.43C837.72 141.96 841.12 143.52 843.81 143.73C846.5 143.94 848.81 142.7 851.84 142.67C854.87 142.65 855.35 143.07 861.99 143.56C868.64 144.05 882.96 145.17 891.72 145.61C900.47 146.06 907.98 145.93 914.51 146.24C921.05 146.54 920.59 147.47 930.94 147.44C941.3 147.41 961.4 146.07 976.63 146.07C991.86 146.07 1010.09 147.45 1022.32 147.44C1034.55 147.43 1038.58 146.77 1050.01 146.01C1061.44 145.24 1071.1 142.82 1090.9 142.87C1110.7 142.92 1155.82 145.73 1168.8 146.3" stroke="#000" stroke-width="1.75" fill="none" stroke-dasharray="7.5 8.6"/>
<path d="M707.3 144.97C710.24 145.96 720.1 148.74 724.93 150.87C729.76 152.99 732.48 155.06 736.28 157.72C740.08 160.39 743.91 164 747.73 166.86C751.54 169.72 755.36 172.38 759.17 174.86C762.99 177.33 766.82 179.62 770.62 181.71C774.42 183.81 777.11 185.33 781.97 187.42C786.83 189.52 794.06 192.37 799.78 194.28C805.51 196.18 809.75 197.4 816.31 198.85C822.86 200.3 832.3 202.01 839.1 202.96C845.9 203.92 853.29 204.17 857.1 204.58C860.92 204.98 857.38 204.82 861.99 205.39C866.61 205.96 879.84 207.47 884.79 207.99C889.75 208.51 886.76 208.06 891.72 208.51C896.67 208.97 907.98 210.25 914.51 210.73C921.05 211.22 918.68 211.44 930.94 211.41C943.2 211.38 972.85 210.47 988.08 210.55C1003.31 210.63 1009 211.92 1022.32 211.87C1035.64 211.83 1052.78 210.73 1068.01 210.27C1083.24 209.82 1101.47 209.69 1113.7 209.13C1125.93 208.58 1132.2 207.4 1141.39 206.95C1150.57 206.49 1164.23 206.48 1168.8 206.39" stroke="#000" stroke-width="1.75" fill="none" stroke-dasharray="7.5 8.6"/>
<path d="M707.3 204.74C708.67 204.9 712.79 205.11 715.51 205.67C718.24 206.23 720.95 206.91 723.64 208.1C726.33 209.3 728.98 211.14 731.67 212.82C734.36 214.51 737.08 216.31 739.79 218.23C742.5 220.14 745.2 222.28 747.91 224.31C750.62 226.33 753.33 228.47 756.03 230.38C758.74 232.29 761.46 234.09 764.16 235.78C766.85 237.47 769.49 239.05 772.19 240.51C774.88 241.97 777.6 243.32 780.31 244.56C783.02 245.79 785.72 246.99 788.43 247.93C791.14 248.88 793.86 249.49 796.55 250.23C799.25 250.97 801.45 251.64 804.58 252.39C807.72 253.13 811.78 253.97 815.38 254.69C818.98 255.41 822.58 256.1 826.18 256.71C829.78 257.32 832.92 257.83 836.98 258.33C841.04 258.82 846.38 259.32 850.55 259.68C854.72 260.04 858.95 260.25 861.99 260.49C865.04 260.73 863.87 260.72 868.82 261.11C873.78 261.5 884.1 261.97 891.72 262.82C899.33 263.68 907.98 265.68 914.51 266.25C921.05 266.83 917.54 265.54 930.94 266.25C944.34 266.97 983.48 269.8 994.91 270.56C1006.34 271.32 987.34 270.97 999.52 270.82C1011.71 270.67 1048.98 269.96 1068.01 269.68C1087.04 269.39 1096.9 269.87 1113.7 269.11C1130.5 268.34 1159.62 265.77 1168.8 265.11" stroke="#000" stroke-width="1.75" fill="none" stroke-dasharray="7.5 8.6"/>
<path d="M707.3 264.51C709.12 264.62 714.58 264.28 718.19 265.12C721.81 265.97 724.94 267.48 728.99 269.58C733.04 271.67 737.96 274.98 742.47 277.68C746.97 280.38 751.53 283.15 756.03 285.78C760.54 288.41 765.02 291 769.51 293.48C774 295.96 779.72 299.09 782.99 300.63C786.25 302.18 786.82 301.9 789.08 302.76C791.34 303.61 793.06 304.51 796.55 305.76C800.05 307.01 806.66 309.21 810.03 310.26C813.4 311.32 814.52 311.56 816.77 312.11C819.01 312.66 820.14 312.92 823.51 313.55C826.87 314.18 832.47 315.23 836.98 315.89C841.49 316.56 847.17 317.16 850.55 317.54C853.93 317.92 855.38 318 857.29 318.19C859.2 318.38 858.16 318.08 861.99 318.66C865.83 319.25 875.32 321.03 880.27 321.7C885.22 322.37 886.01 322.22 891.72 322.68C897.42 323.14 906.41 323.94 914.51 324.46C922.62 324.99 930 325.17 940.36 325.82C950.71 326.48 966.77 327.78 976.63 328.4C986.49 329.02 991.91 329.65 999.52 329.54C1007.14 329.43 1014.71 328.48 1022.32 327.72C1029.93 326.96 1037.6 325.76 1045.21 324.97C1052.83 324.19 1060.39 323.57 1068.01 323C1075.62 322.43 1074.1 322.17 1090.9 321.54C1107.7 320.92 1155.82 319.64 1168.8 319.26" stroke="#000" stroke-width="1.75" fill="none" stroke-dasharray="7.5 8.6"/>
<path d="M707.3 324.29C708.67 324.52 712.79 324.81 715.51 325.67C718.24 326.53 720.95 327.92 723.64 329.45C726.33 330.98 728.98 333.05 731.67 334.85C734.36 336.65 737.08 338.46 739.79 340.26C742.5 342.06 745.2 343.9 747.91 345.65C750.62 347.41 753.33 349.17 756.03 350.79C758.74 352.41 761.46 353.87 764.16 355.38C766.85 356.89 769.49 358.48 772.19 359.83C774.88 361.18 777.6 362.35 780.31 363.48C783.02 364.6 785.72 365.55 788.43 366.59C791.14 367.62 793.86 368.79 796.55 369.69C799.25 370.59 801.45 371.15 804.58 371.98C807.72 372.82 811.78 373.78 815.38 374.68C818.98 375.58 822.58 376.6 826.18 377.39C829.78 378.17 832.92 378.74 836.98 379.41C841.04 380.09 846.72 380.88 850.55 381.44C854.38 382 857.72 382.47 859.96 382.79C862.21 383.11 862.73 383.13 864.03 383.38C865.32 383.63 863.1 383.74 867.72 384.28C872.33 384.83 883.92 386.19 891.72 386.66C899.51 387.13 907.98 387.04 914.51 387.12C921.05 387.19 916.77 386.93 930.94 387.12C945.11 387.31 975.52 388.72 999.52 388.26C1023.52 387.79 1046.72 384.51 1074.93 384.32C1103.14 384.13 1153.16 386.65 1168.8 387.12" stroke="#000" stroke-width="1.75" fill="none" stroke-dasharray="7.5 8.6"/>
<path d="M707.3 384.06C708.67 384.24 712.79 384.23 715.51 385.13C718.24 386.03 720.95 387.72 723.64 389.45C726.33 391.19 728.98 393.5 731.67 395.53C734.36 397.55 737.08 399.69 739.79 401.6C742.5 403.52 745.2 405.09 747.91 407C750.62 408.91 753.33 411.17 756.03 413.08C758.74 414.99 761.46 416.91 764.16 418.48C766.85 420.06 769.49 421.29 772.19 422.53C774.88 423.77 777.6 424.85 780.31 425.91C783.02 426.97 785.91 427.97 788.43 428.88C790.95 429.78 793.65 430.79 795.45 431.34C797.25 431.89 796.8 431.71 799.23 432.18C801.66 432.65 806.05 433.57 810.03 434.17C814.01 434.77 818.64 434.87 823.14 435.78C827.63 436.69 833.32 438.7 836.98 439.63C840.64 440.56 842.4 440.9 845.1 441.35C847.81 441.8 850.41 441.95 853.23 442.32C856.04 442.69 855.58 442.96 861.99 443.58C868.41 444.21 882.96 445.43 891.72 446.07C900.47 446.71 907.98 447.04 914.51 447.43C921.05 447.81 920.59 448.49 930.94 448.37C941.3 448.26 967.86 447.13 976.63 446.75C985.4 446.37 975.94 446.15 983.55 446.11C991.17 446.08 1012.04 446.28 1022.32 446.52C1032.6 446.77 1033.78 447.91 1045.21 447.58C1056.64 447.26 1079.48 445.02 1090.9 444.58C1102.31 444.13 1105.28 445.19 1113.7 444.92C1122.11 444.65 1132.2 443.24 1141.39 442.94C1150.57 442.63 1164.23 443.07 1168.8 443.1" stroke="#000" stroke-width="1.75" fill="none" stroke-dasharray="7.5 8.6"/>
<path d="M707.3 443.83C708.67 444 713.02 443.78 715.51 444.86C718.01 445.93 720.01 448.23 722.25 450.25C724.5 452.28 726.74 454.64 728.99 457.01C731.24 459.37 733.48 462.18 735.73 464.43C737.97 466.68 740.2 468.48 742.47 470.51C744.73 472.53 747.04 474.67 749.3 476.58C751.56 478.49 753.79 480.41 756.03 481.98C758.28 483.56 760.53 484.8 762.77 486.04C765.02 487.27 767.26 488.4 769.51 489.41C771.76 490.42 774 491.32 776.25 492.11C778.49 492.9 780.74 493.46 782.99 494.14C785.23 494.81 787.46 495.49 789.72 496.16C791.99 496.84 793.17 497.29 796.55 498.19C799.94 499.09 805.54 500.55 810.03 501.57C814.52 502.58 819.01 503.59 823.51 504.26C828 504.94 832.47 505.32 836.98 505.61C841.49 505.91 846.38 505.91 850.55 506.02C854.72 506.13 855.13 506.19 861.99 506.29C868.86 506.39 882.96 506.37 891.72 506.62C900.47 506.86 907.98 507.57 914.51 507.76C921.05 507.95 925.2 507.91 930.94 507.76C936.68 507.61 941.33 507.81 948.94 506.86C956.56 505.9 956.79 502.85 976.63 502.04C996.48 501.24 1051.63 502.05 1068.01 502.04C1084.39 502.04 1065.41 501.68 1074.93 502C1084.45 502.31 1109.5 503.94 1125.14 503.94C1140.79 503.95 1161.52 502.36 1168.8 502.04" stroke="#000" stroke-width="1.75" fill="none" stroke-dasharray="7.5 8.6"/>
<path d="M707.3 503.6C708.33 504.65 711.32 506.38 713.48 509.93C715.65 513.48 718.04 519.51 720.31 524.89C722.59 530.28 725.24 537.68 727.14 542.25C729.05 546.82 729.47 548.52 731.76 552.31C734.05 556.1 738.24 562.25 740.9 565C743.56 567.74 745.45 568.25 747.73 568.8C750 569.35 752.65 568.35 754.56 568.31C756.47 568.26 754.6 568.61 759.17 568.51C763.74 568.41 776.26 567.92 781.97 567.69C787.68 567.47 788.85 567.2 793.42 567.16C797.98 567.13 805.57 567.3 809.38 567.5C813.2 567.69 811.35 567.79 816.31 568.31C821.26 568.82 831.49 570.59 839.1 570.59C846.72 570.59 854.38 569.64 861.99 568.31C869.61 566.97 877.18 563.51 884.79 562.59C892.41 561.68 900.07 562.33 907.68 562.82C915.3 563.32 918.99 565.05 930.48 565.56C941.97 566.08 967.03 565.83 976.63 565.9C986.23 565.98 976.65 566.57 988.08 566.02C999.51 565.46 1033.78 563.23 1045.21 562.59C1056.64 561.95 1050.95 562.06 1056.66 562.18C1062.36 562.31 1073.75 563.02 1079.45 563.35C1085.16 563.69 1084.38 564.04 1090.9 564.19C1097.42 564.35 1110.97 564.04 1118.59 564.27C1126.2 564.5 1128.22 565.73 1136.59 565.56C1144.96 565.4 1163.43 563.66 1168.8 563.28" stroke="#000" stroke-width="1.75" fill="none" stroke-dasharray="7.5 8.6"/>
<path d="M707.3 25.43C707.32 25.45 706.47 25.29 707.39 25.53C708.32 25.77 711.27 25.86 712.84 26.88C714.41 27.89 715.47 29.69 716.81 31.61C718.15 33.52 719.51 35.65 720.87 38.35C722.22 41.05 723.58 44.66 724.93 47.81C726.28 50.96 727.64 54.11 728.99 57.26C730.34 60.41 731.7 63.78 733.05 66.71C734.41 69.63 735.76 72.34 737.11 74.81C738.47 77.29 739.82 79.54 741.17 81.56C742.53 83.59 743.67 85.39 745.24 86.97C746.8 88.54 748.79 90.07 750.59 91.02C752.39 91.96 753.33 92.37 756.03 92.64C758.74 92.91 763.23 92.73 766.83 92.64C770.43 92.55 774.03 92.48 777.63 92.09C781.23 91.71 785.28 91.02 788.43 90.34C791.59 89.67 793.86 88.88 796.55 88.05C799.25 87.21 801.66 86.09 804.58 85.35C807.51 84.6 810.94 83.93 814.09 83.59C817.24 83.25 820.14 83.21 823.51 83.32C826.87 83.43 830.71 83.77 834.3 84.26C837.9 84.76 841.95 85.95 845.1 86.29C848.26 86.63 850.41 86.4 853.23 86.29C856.04 86.18 856.73 85.78 861.99 85.61C867.26 85.45 877.18 85.27 884.79 85.29C892.41 85.31 899.99 85.68 907.68 85.75C915.37 85.83 921.34 85.87 930.94 85.75C940.54 85.64 954.99 85.64 965.28 85.06C975.57 84.49 983.18 82.4 992.69 82.32C1002.2 82.25 1013.57 83.77 1022.32 84.61C1031.07 85.45 1035.3 87.42 1045.21 87.35C1055.12 87.27 1066.53 84.11 1081.76 84.15C1096.99 84.19 1122.08 87.58 1136.59 87.58C1151.09 87.58 1163.43 84.72 1168.8 84.15" stroke="#000" stroke-width="1.75" fill="none" stroke-linejoin="round"/>
<path d="M707.3 85.2C707.32 85.23 706.25 85.14 707.39 85.4C708.53 85.66 711.88 85.74 714.13 86.75C716.38 87.76 718.61 89.68 720.87 91.48C723.13 93.28 725.44 95.41 727.7 97.55C729.96 99.69 732.19 102.17 734.44 104.3C736.68 106.44 738.93 108.47 741.17 110.38C743.42 112.3 745.44 113.87 747.91 115.78C750.39 117.69 753.33 120.06 756.03 121.86C758.74 123.66 761.46 125.12 764.16 126.58C766.85 128.04 769.49 129.4 772.19 130.63C774.88 131.87 777.39 133 780.31 134.01C783.23 135.02 786.57 135.92 789.72 136.71C792.88 137.5 795.85 138.02 799.23 138.74C802.62 139.46 806.43 140.29 810.03 141.03C813.63 141.78 817.23 142.56 820.83 143.19C824.43 143.82 827.8 144.38 831.63 144.81C835.46 145.24 840.44 145.69 843.81 145.76C847.18 145.82 848.81 145.05 851.84 145.22C854.87 145.38 855.35 146.76 861.99 146.75C868.64 146.74 882.96 145.39 891.72 145.16C900.47 144.93 907.98 145.2 914.51 145.39C921.05 145.58 920.59 146.22 930.94 146.3C941.3 146.38 961.4 145.53 976.63 145.84C991.86 146.14 1003.28 148.62 1022.32 148.13C1041.36 147.63 1066.49 143.17 1090.9 142.87C1115.31 142.56 1155.82 145.73 1168.8 146.3" stroke="#000" stroke-width="1.75" fill="none" stroke-linejoin="round"/>
<path d="M707.3 144.97C710.24 145.96 720.1 148.74 724.93 150.87C729.76 152.99 732.48 155.06 736.28 157.72C740.08 160.39 743.91 164 747.73 166.86C751.54 169.72 755.36 172.38 759.17 174.86C762.99 177.33 766.82 179.62 770.62 181.71C774.42 183.81 777.11 185.33 781.97 187.42C786.83 189.52 794.06 192.37 799.78 194.28C805.51 196.18 809.75 197.4 816.31 198.85C822.86 200.3 831.49 201.93 839.1 202.96C846.72 203.99 853.23 204.49 861.99 205.02C870.76 205.55 882.96 205.74 891.72 206.16C900.47 206.58 907.98 207.22 914.51 207.53C921.05 207.83 918.68 208.18 930.94 207.99C943.2 207.8 965.23 206.31 988.08 206.39C1010.92 206.46 1037.89 208.44 1068.01 208.44C1098.13 208.44 1152 206.73 1168.8 206.39" stroke="#000" stroke-width="1.75" fill="none" stroke-linejoin="round"/>
<path d="M707.3 204.74C707.32 204.81 706.02 204.98 707.39 205.13C708.76 205.29 712.81 205.18 715.51 205.67C718.22 206.17 720.95 206.91 723.64 208.1C726.33 209.3 728.98 211.14 731.67 212.82C734.36 214.51 737.08 216.31 739.79 218.23C742.5 220.14 745.2 222.28 747.91 224.31C750.62 226.33 753.33 228.47 756.03 230.38C758.74 232.29 761.46 234.09 764.16 235.78C766.85 237.47 769.49 239.05 772.19 240.51C774.88 241.97 777.6 243.32 780.31 244.56C783.02 245.79 785.72 246.99 788.43 247.93C791.14 248.88 793.86 249.49 796.55 250.23C799.25 250.97 801.45 251.64 804.58 252.39C807.72 253.13 811.78 253.97 815.38 254.69C818.98 255.41 822.58 256.1 826.18 256.71C829.78 257.32 832.92 257.83 836.98 258.33C841.04 258.82 846.38 259.32 850.55 259.68C854.72 260.04 858.95 260.27 861.99 260.49C865.04 260.71 863.87 260.72 868.82 260.99C873.78 261.27 884.1 261.83 891.72 262.14C899.33 262.44 907.98 262.71 914.51 262.82C921.05 262.94 917.54 262.44 930.94 262.82C944.34 263.2 972.06 264.42 994.91 265.11C1017.75 265.79 1048.21 266.17 1068.01 266.94C1087.81 267.7 1096.9 269.22 1113.7 269.68C1130.5 270.14 1159.62 269.68 1168.8 269.68" stroke="#000" stroke-width="1.75" fill="none" stroke-linejoin="round"/>
<path d="M707.3 264.51C707.32 264.5 705.58 264.35 707.39 264.45C709.21 264.55 714.59 264.27 718.19 265.12C721.79 265.98 724.94 267.48 728.99 269.58C733.04 271.67 737.96 274.98 742.47 277.68C746.97 280.38 751.53 283.15 756.03 285.78C760.54 288.41 765.02 291 769.51 293.48C774 295.96 778.48 298.65 782.99 300.63C787.49 302.61 792.05 303.94 796.55 305.36C801.06 306.78 805.54 308.01 810.03 309.14C814.52 310.26 819.01 311.21 823.51 312.11C828 313.01 832.47 313.87 836.98 314.54C841.49 315.22 846.38 315.71 850.55 316.16C854.72 316.61 857.04 316.58 861.99 317.24C866.95 317.91 875.32 319.53 880.27 320.17C885.22 320.81 886.01 320.67 891.72 321.09C897.42 321.51 906.41 322.23 914.51 322.68C922.62 323.14 930 323.26 940.36 323.83C950.71 324.4 962.97 325.62 976.63 326.11C990.29 326.61 1007.09 326.87 1022.32 326.8C1037.55 326.72 1043.6 325.88 1068.01 325.65C1092.42 325.43 1152 325.46 1168.8 325.43" stroke="#000" stroke-width="1.75" fill="none" stroke-linejoin="round"/>
<path d="M707.3 324.29C707.32 324.29 706.02 324.09 707.39 324.32C708.76 324.55 712.81 324.82 715.51 325.67C718.22 326.53 720.95 327.92 723.64 329.45C726.33 330.98 728.98 333.05 731.67 334.85C734.36 336.65 737.08 338.46 739.79 340.26C742.5 342.06 745.2 343.9 747.91 345.65C750.62 347.41 753.33 349.17 756.03 350.79C758.74 352.41 761.46 353.87 764.16 355.38C766.85 356.89 769.49 358.48 772.19 359.83C774.88 361.18 777.6 362.35 780.31 363.48C783.02 364.6 785.72 365.55 788.43 366.59C791.14 367.62 793.86 368.79 796.55 369.69C799.25 370.59 801.45 371.15 804.58 371.98C807.72 372.82 811.78 373.78 815.38 374.68C818.98 375.58 822.58 376.6 826.18 377.39C829.78 378.17 832.92 378.74 836.98 379.41C841.04 380.09 846.72 380.88 850.55 381.44C854.38 382 857.1 382.38 859.96 382.79C862.83 383.2 862.43 383.73 867.72 383.92C873.01 384.11 883.92 383.92 891.72 383.92C899.51 383.92 907.98 383.92 914.51 383.92C921.05 383.92 916.77 383.65 930.94 383.92C945.11 384.19 975.52 385.83 999.52 385.52C1023.52 385.22 1046.72 382.09 1074.93 382.09C1103.14 382.09 1153.16 384.95 1168.8 385.52" stroke="#000" stroke-width="1.75" fill="none" stroke-linejoin="round"/>
<path d="M707.3 384.06C707.32 384.06 706.02 383.87 707.39 384.05C708.76 384.23 712.81 384.23 715.51 385.13C718.22 386.03 720.95 387.72 723.64 389.45C726.33 391.19 728.98 393.5 731.67 395.53C734.36 397.55 737.08 399.69 739.79 401.6C742.5 403.52 745.2 405.09 747.91 407C750.62 408.91 753.33 411.17 756.03 413.08C758.74 414.99 761.46 416.91 764.16 418.48C766.85 420.06 769.49 421.29 772.19 422.53C774.88 423.77 777.6 424.85 780.31 425.91C783.02 426.97 785.28 427.75 788.43 428.88C791.59 430 795.63 431.47 799.23 432.66C802.83 433.85 805.98 434.91 810.03 436.03C814.08 437.16 819.01 438.44 823.51 439.41C828 440.38 833.38 441.28 836.98 441.84C840.58 442.41 842.4 442.52 845.1 442.79C847.81 443.06 850.41 443.18 853.23 443.46C856.04 443.74 855.58 444.03 861.99 444.47C868.41 444.9 882.96 445.69 891.72 446.07C900.47 446.45 907.98 446.56 914.51 446.75C921.05 446.94 919.44 447.71 930.94 447.21C942.45 446.72 964.51 443.97 983.55 443.78C1002.6 443.59 1027.32 446.26 1045.21 446.07C1063.1 445.88 1070.3 443.13 1090.9 442.64C1111.5 442.14 1155.82 443.02 1168.8 443.1" stroke="#000" stroke-width="1.75" fill="none" stroke-linejoin="round"/>
<path d="M707.3 443.83C707.32 443.77 706.02 443.33 707.39 443.5C708.76 443.68 713.04 443.73 715.51 444.86C717.99 445.98 720.01 448.23 722.25 450.25C724.5 452.28 726.74 454.64 728.99 457.01C731.24 459.37 733.48 462.18 735.73 464.43C737.97 466.68 740.2 468.48 742.47 470.51C744.73 472.53 747.04 474.67 749.3 476.58C751.56 478.49 753.79 480.41 756.03 481.98C758.28 483.56 760.53 484.8 762.77 486.04C765.02 487.27 767.26 488.4 769.51 489.41C771.76 490.42 774 491.32 776.25 492.11C778.49 492.9 780.74 493.46 782.99 494.14C785.23 494.81 787.46 495.49 789.72 496.16C791.99 496.84 793.17 497.29 796.55 498.19C799.94 499.09 805.54 500.55 810.03 501.57C814.52 502.58 819.01 503.59 823.51 504.26C828 504.94 832.47 505.32 836.98 505.61C841.49 505.91 846.38 505.91 850.55 506.02C854.72 506.13 855.13 506.19 861.99 506.29C868.86 506.39 882.96 506.37 891.72 506.62C900.47 506.86 907.98 507.57 914.51 507.76C921.05 507.95 920.59 508.14 930.94 507.76C941.3 507.38 952.63 505.85 976.63 505.47C1000.63 505.09 1050.18 505.09 1074.93 505.47C1099.68 505.85 1109.5 507.64 1125.14 507.76C1140.79 507.87 1161.52 506.42 1168.8 506.16" stroke="#000" stroke-width="1.75" fill="none" stroke-linejoin="round"/>
<path d="M707.3 503.6C708.33 504.29 711.32 504.97 713.48 507.76C715.65 510.55 718.04 515.56 720.31 520.32C722.59 525.08 724.85 531.37 727.14 536.32C729.44 541.27 731.77 546.22 734.07 550.03C736.36 553.84 738.62 556.88 740.9 559.17C743.17 561.45 744.68 562.9 747.73 563.73C750.77 564.57 753.47 564.27 759.17 564.19C764.88 564.12 773.6 563.66 781.97 563.28C790.34 562.9 799.86 561.9 809.38 561.9C818.91 561.9 830.34 562.59 839.1 563.28C847.87 563.96 854.38 564.99 861.99 566.02C869.61 567.04 877.18 569.45 884.79 569.45C892.41 569.45 900.07 566.74 907.68 566.02C915.3 565.29 918.99 565.56 930.48 565.11C941.97 564.65 955.6 564.08 976.63 563.28C997.66 562.48 1039.52 560.61 1056.66 560.31C1073.79 560 1066.13 560.57 1079.45 561.45C1092.78 562.33 1121.7 565.26 1136.59 565.56C1151.48 565.87 1163.43 563.66 1168.8 563.28" stroke="#000" stroke-width="1.75" fill="none" stroke-linejoin="round"/>
</g>
<circle cx="749.57" cy="85.2" r="8.1" fill="#000"/>
<circle cx="851.66" cy="144.97" r="8.1" fill="#000"/>
<circle cx="861.99" cy="204.74" r="8.1" fill="#000"/>
<circle cx="994.91" cy="264.51" r="8.1" fill="#000"/>
<circle cx="934.63" cy="324.29" r="8.1" fill="#000"/>
<circle cx="867.72" cy="384.06" r="8.1" fill="#000"/>
<circle cx="852.86" cy="443.83" r="8.1" fill="#000"/>
<circle cx="872.24" cy="503.6" r="8.1" fill="#000"/>
<circle cx="746.16" cy="563.37" r="8.1" fill="#000"/>
<clipPath id="clipc"><rect x="96.5" y="658.9" width="461.6" height="573.7"/></clipPath>
<g clip-path="url(#clipc)">
<path d="M96.5 676.83C97.38 677.4 99.98 678.56 101.76 680.25C103.55 681.95 105.41 684.53 107.21 687.01C109.01 689.48 110.76 692.41 112.56 695.11C114.36 697.81 116.21 700.73 118.01 703.21C119.81 705.68 121.56 707.93 123.37 709.96C125.17 711.99 126.78 713.9 128.81 715.36C130.84 716.82 133.3 717.66 135.55 718.74C137.8 719.82 140.04 720.87 142.29 721.84C144.54 722.81 146.78 723.87 149.03 724.54C151.28 725.22 153.29 725.62 155.77 725.89C158.25 726.16 161.19 725.78 163.89 726.16C166.6 726.54 169.31 727.4 172.02 728.19C174.73 728.97 177.45 730.1 180.14 730.89C182.83 731.68 185.48 732.28 188.17 732.91C190.87 733.55 193.36 734.28 196.3 734.69C199.24 735.1 202.65 735.11 205.81 735.38C208.96 735.65 211.85 736.25 215.22 736.32C218.59 736.38 222.42 735.94 226.02 735.77C229.63 735.59 232.66 735.27 236.83 735.25C241 735.22 247.17 735.91 251.04 735.61C254.92 735.31 256.29 733.28 260.09 733.46C263.89 733.64 267.75 736.22 273.85 736.68C279.94 737.13 292.03 736.39 296.65 736.2C301.27 736 297.7 735.93 301.54 735.51C305.39 735.1 312.88 733.51 319.73 733.71C326.58 733.9 336.15 735.8 342.63 736.68C349.1 737.55 352.5 739.73 358.6 738.97C364.69 738.21 370.43 732.76 379.18 732.11C387.94 731.47 401.99 734.32 411.13 735.08C420.27 735.84 426.41 736.41 434.02 736.68C441.64 736.94 449.21 737.06 456.82 736.68C464.44 736.3 471.33 734.66 479.72 734.4C488.11 734.13 497.62 734.59 507.14 735.08C516.66 735.58 528.37 736.72 536.87 737.37C545.36 738.01 554.56 738.7 558.1 738.97" stroke="#000" stroke-width="1.75" fill="none" stroke-dasharray="1.4 4.15"/>
<path d="M96.5 736.59C97.16 736.9 99.13 737.1 100.47 738.46C101.81 739.82 103.18 742.21 104.53 744.76C105.89 747.31 107.26 750.75 108.59 753.76C109.93 756.77 111.23 759.88 112.56 762.82C113.9 765.76 115.27 769.04 116.63 771.41C117.98 773.79 119.1 775.24 120.69 777.07C122.27 778.89 124.33 781.1 126.13 782.39C127.93 783.68 129.69 784.01 131.49 784.82C133.29 785.62 135.35 786.66 136.94 787.22C138.52 787.78 139.66 787.88 141 788.19C142.34 788.49 143.17 788.72 144.97 789.06C146.77 789.4 149.54 789.68 151.8 790.21C154.06 790.74 155.89 791.43 158.54 792.24C161.19 793.04 164.99 793.85 167.68 795.06C170.37 796.26 171.73 798.46 174.7 799.46C177.66 800.47 181.9 800.51 185.5 801.1C189.1 801.69 192.7 802.79 196.3 803C199.9 803.21 203.5 802.74 207.1 802.34C210.7 801.94 214.75 800.99 217.9 800.6C221.06 800.2 222.87 799.73 226.02 799.97C229.18 800.2 232.67 802.09 236.83 802.01C240.98 801.93 247.07 799.96 250.95 799.5C254.83 799.05 255.52 798.5 260.09 799.27C264.66 800.05 270.37 803.83 278.37 804.16C286.37 804.49 301.2 801.4 308.1 801.25C314.99 801.11 313.98 803.73 319.73 803.3C325.48 802.88 336.9 798.91 342.63 798.71C348.35 798.52 348.36 801.57 354.07 802.14C359.78 802.7 371.17 802.56 376.88 802.13C382.58 801.69 383.75 800.29 388.32 799.5C392.89 798.72 398.59 797.4 404.29 797.4C410 797.4 417.62 799.17 422.57 799.5C427.53 799.84 428.31 799.42 434.02 799.42C439.73 799.42 450.35 799.64 456.82 799.5C463.3 799.37 469.07 798.59 472.89 798.59C476.7 798.59 474.77 799.61 479.72 799.5C484.67 799.4 498 798.31 502.62 797.98C507.23 797.65 498.17 797.07 507.42 797.51C516.66 797.96 549.65 800.12 558.1 800.65" stroke="#000" stroke-width="1.75" fill="none" stroke-dasharray="1.4 4.15"/>
<path d="M96.5 796.35C97.16 796.66 99.13 796.79 100.47 798.23C101.81 799.67 103.18 802.28 104.53 804.98C105.89 807.68 107.26 811.17 108.59 814.43C109.93 817.7 111.23 821.41 112.56 824.56C113.9 827.71 115.27 830.63 116.63 833.33C117.98 836.04 119.1 838.29 120.69 840.76C122.27 843.24 124.33 846.21 126.13 848.19C127.93 850.17 129.69 851.63 131.49 852.64C133.29 853.66 134.72 853.72 136.94 854.26C139.15 854.8 142.09 855.43 144.78 855.88C147.48 856.33 149.91 856.56 153.09 856.96C156.28 857.37 160.74 857.64 163.89 858.31C167.05 858.99 169.31 860.3 172.02 861.02C174.73 861.74 176.99 862.64 180.14 862.64C183.3 862.64 187.8 861.62 190.94 861.02C194.08 860.41 196.5 860 198.98 858.99C201.45 857.98 203.55 855.95 205.81 854.94C208.07 853.93 209.62 853.25 212.55 852.91C215.47 852.57 219.75 852.73 223.35 852.91C226.95 853.09 229.53 853.21 234.15 853.99C238.77 854.78 245.2 856.44 251.04 857.64C256.89 858.84 263.52 861.16 269.23 861.18C274.94 861.2 281.49 858.89 285.29 857.75C289.09 856.62 288.99 855.91 292.03 854.38C295.08 852.86 298.96 848.81 303.57 848.62C308.19 848.42 312.08 851.65 319.73 853.19C327.38 854.72 341.84 857.24 349.46 857.81C357.07 858.38 359.72 856.3 365.43 856.61C371.14 856.92 377.98 859.99 383.71 859.65C389.43 859.32 392.52 855.06 399.77 854.6C407.02 854.13 421.48 856.91 427.19 856.86C432.9 856.82 430.98 855.5 434.02 854.33C437.07 853.16 440.85 850 445.47 849.86C450.09 849.72 458.3 852.73 461.72 853.48C465.13 854.22 461.44 854.76 465.96 854.33C470.49 853.9 478.95 850.33 488.86 850.9C498.77 851.47 513.88 857.18 525.42 857.75C536.96 858.32 552.65 854.9 558.1 854.33" stroke="#000" stroke-width="1.75" fill="none" stroke-dasharray="1.4 4.15"/>
<path d="M96.5 856.11C97.16 856.46 99.13 856.42 100.47 858.23C101.81 860.05 103.18 863.97 104.53 867C105.89 870.04 107.26 873.31 108.59 876.46C109.93 879.61 111.23 882.98 112.56 885.91C113.9 888.83 115.04 891.42 116.63 894.01C118.21 896.6 120.27 899.41 122.07 901.44C123.87 903.46 125.41 904.81 127.43 906.16C129.44 907.52 131.69 908.53 134.17 909.54C136.64 910.55 139.58 911.45 142.29 912.24C145 913.02 147.65 913.65 150.41 914.26C153.18 914.87 156.22 915.25 158.91 915.88C161.6 916.51 163.49 917.53 166.57 918.05C169.65 918.56 173.77 918.72 177.37 918.99C180.97 919.26 184.57 919.06 188.17 919.66C191.77 920.27 195.82 922.05 198.98 922.63C202.13 923.22 203.95 923.13 207.1 923.17C210.25 923.22 214.75 922.97 217.9 922.88C221.06 922.8 223.32 922.8 226.02 922.67C228.73 922.55 229.98 922.01 234.15 922.13C238.32 922.26 246.72 923.04 251.04 923.41C255.37 923.79 254.38 924.49 260.09 924.39C265.8 924.3 277.29 924.38 285.29 922.86C293.3 921.35 302.36 916.72 308.1 915.3C313.84 913.89 308.27 914.72 319.73 914.36C331.19 914 360.87 912.75 376.88 913.17C392.88 913.58 406.22 916.88 415.74 916.87C425.27 916.86 427.17 913.85 434.02 913.11C440.87 912.36 451.5 912.87 456.82 912.4C462.15 911.93 462.15 910.65 465.96 910.29C469.78 909.94 474.77 909.1 479.72 910.29C484.67 911.49 489.21 916.7 495.69 917.45C502.17 918.2 513.63 915.05 518.59 914.81C523.54 914.56 518.83 915.81 525.42 916.01C532 916.21 552.65 916.01 558.1 916.01" stroke="#000" stroke-width="1.75" fill="none" stroke-dasharray="1.4 4.15"/>
<path d="M96.5 915.87C97.16 916.19 99.13 916.53 100.47 917.79C101.81 919.05 102.73 920.32 104.53 923.45C106.33 926.58 109.02 932.13 111.27 936.55C113.52 940.97 115.76 946.15 118.01 949.96C120.26 953.76 122.5 956.68 124.75 959.38C127 962.08 129.24 964.13 131.49 966.16C133.74 968.2 135.98 970.33 138.23 971.57C140.48 972.8 142.71 973.09 144.97 973.59C147.23 974.08 148.98 973.78 151.8 974.54C154.62 975.29 158.49 977.03 161.86 978.11C165.23 979.19 169.2 980.19 172.02 981.01C174.83 981.84 176.51 982.48 178.76 983.04C181 983.6 183.25 984.28 185.5 984.39C187.74 984.5 189.99 984.17 192.24 983.72C194.48 983.27 196.71 982.37 198.98 981.69C201.24 981.01 203.55 980.45 205.81 979.66C208.07 978.88 209.18 978.01 212.55 976.96C215.92 975.92 222.66 974.12 226.02 973.4C229.39 972.67 230.52 972.55 232.76 972.63C235.01 972.71 236.46 973.36 239.5 973.88C242.55 974.4 246.84 975.2 251.04 975.75C255.24 976.3 260.15 977.62 264.71 977.18C269.26 976.73 273.05 973.37 278.37 973.1C283.69 972.83 289.76 974.84 296.65 975.58C303.54 976.32 310.93 976.53 319.73 977.55C328.53 978.56 340.5 982.2 349.46 981.69C358.41 981.19 366.6 976.69 373.46 974.5C380.32 972.31 384.35 968.91 390.63 968.56C396.91 968.2 401.99 969.77 411.13 972.38C420.27 974.99 437.85 982.85 445.47 984.23C453.09 985.61 453.41 981.57 456.82 980.66C460.24 979.74 458.33 979.91 465.96 978.73C473.6 977.55 492.71 973.27 502.62 973.59C512.52 973.91 516.17 980.45 525.42 980.68C534.67 980.9 552.65 975.9 558.1 974.94" stroke="#000" stroke-width="1.75" fill="none" stroke-dasharray="1.4 4.15"/>
<path d="M96.5 975.63C97.16 975.84 99.13 975.77 100.47 976.88C101.81 977.99 103.18 980.14 104.53 982.28C105.89 984.42 107.26 987.12 108.59 989.7C109.93 992.29 110.99 994.66 112.56 997.81C114.13 1000.96 116.21 1005.35 118.01 1008.61C119.81 1011.87 121.56 1014.68 123.37 1017.38C125.17 1020.08 127.01 1022.67 128.81 1024.81C130.61 1026.95 131.84 1028.46 134.17 1030.22C136.49 1031.97 140.04 1034.02 142.75 1035.34C145.46 1036.67 147.34 1037.11 150.41 1038.15C153.49 1039.2 157.62 1040.91 161.22 1041.61C164.82 1042.31 168.42 1042.18 172.02 1042.36C175.62 1042.55 180.13 1042.51 182.82 1042.73C185.51 1042.96 185.48 1043.66 188.17 1043.72C190.87 1043.77 195.82 1043.12 198.98 1043.04C202.13 1042.96 204.84 1043.11 207.1 1043.23C209.36 1043.34 210.28 1043.63 212.55 1043.72C214.81 1043.8 218.42 1044.05 220.67 1043.72C222.92 1043.38 223.33 1042.22 226.02 1041.69C228.72 1041.16 232.67 1040.8 236.83 1040.52C240.98 1040.25 247.83 1039.84 250.95 1040.05C254.07 1040.26 250.61 1041.03 255.57 1041.79C260.52 1042.55 272.68 1043.88 280.68 1044.63C288.68 1045.39 297.07 1045.84 303.57 1046.32C310.08 1046.8 308.08 1047.75 319.73 1047.53C331.38 1047.31 362.03 1045.6 373.46 1045C384.89 1044.4 380.14 1045.41 388.32 1043.92C396.51 1042.43 409.25 1035.7 422.57 1036.06C435.9 1036.41 458.75 1044.82 468.27 1046.06C477.8 1047.29 475.9 1044.36 479.72 1043.48C483.54 1042.59 483.55 1041.52 491.17 1040.76C498.78 1040 514.26 1040.17 525.42 1038.91C536.57 1037.65 552.65 1034.15 558.1 1033.2" stroke="#000" stroke-width="1.75" fill="none" stroke-dasharray="1.4 4.15"/>
<path d="M96.5 1035.39C97.16 1035.65 99.13 1035.65 100.47 1036.92C101.81 1038.19 103.18 1040.65 104.53 1043.03C105.89 1045.4 107.26 1048.22 108.59 1051.15C109.93 1054.09 111.23 1057.43 112.56 1060.65C113.9 1063.87 115.04 1067.4 116.63 1070.47C118.21 1073.53 120.27 1076.52 122.07 1079.04C123.87 1081.55 125.63 1083.64 127.43 1085.56C129.23 1087.47 130.95 1089.03 132.87 1090.54C134.8 1092.06 136.49 1093.83 138.97 1094.67C141.44 1095.51 145.6 1095.43 147.74 1095.59C149.88 1095.75 150 1095.72 151.8 1095.62C153.6 1095.51 156.52 1095.2 158.54 1094.98C160.55 1094.75 162.09 1094.65 163.89 1094.27C165.69 1093.89 167.54 1093.33 169.34 1092.7C171.14 1092.07 173.13 1090.86 174.7 1090.48C176.26 1090.11 176.51 1089.91 178.76 1090.43C181 1090.95 184.8 1092.46 188.17 1093.59C191.54 1094.73 195.82 1096.79 198.98 1097.24C202.13 1097.69 204.84 1096.45 207.1 1096.29C209.36 1096.14 209.84 1096.33 212.55 1096.29C215.25 1096.26 219.75 1096.28 223.35 1096.09C226.95 1095.91 229.53 1095.62 234.15 1095.17C238.77 1094.71 244.43 1093.96 251.04 1093.34C257.66 1092.72 266.82 1091.97 273.85 1091.45C280.88 1090.94 285.96 1090.41 293.23 1090.25C300.51 1090.09 308.51 1090.59 317.51 1090.52C326.52 1090.45 337.79 1089.04 347.24 1089.81C356.69 1090.58 365.2 1094.07 374.2 1095.12C383.2 1096.17 394.05 1095.99 401.25 1096.11C408.45 1096.23 412 1095.17 417.4 1095.85C422.81 1096.52 427.34 1099.79 433.65 1100.17C439.96 1100.54 449.87 1098.1 455.26 1098.09C460.64 1098.08 461.92 1100.34 465.96 1100.13C470.01 1099.92 474.2 1098.65 479.54 1096.82C484.87 1094.99 493.49 1090.22 498 1089.16C502.51 1088.1 501.97 1089.92 506.59 1090.45C511.2 1090.98 521.65 1092.12 525.7 1092.34C529.74 1092.56 525.56 1091.5 530.87 1091.77C536.17 1092.03 553.1 1093.57 557.55 1093.93" stroke="#000" stroke-width="1.75" fill="none" stroke-dasharray="1.4 4.15"/>
<path d="M96.5 1095.15C97.16 1095.66 99.13 1096.21 100.47 1098.18C101.81 1100.14 103.18 1103.55 104.53 1106.92C105.89 1110.28 107.26 1114.77 108.59 1118.35C109.93 1121.94 110.99 1125.37 112.56 1128.43C114.13 1131.49 115.98 1134.02 118.01 1136.71C120.04 1139.39 122.95 1142.52 124.75 1144.54C126.55 1146.57 126.57 1147.41 128.81 1148.86C131.06 1150.32 135.54 1152.35 138.23 1153.29C140.92 1154.23 142.26 1154.58 144.97 1154.53C147.68 1154.47 150.98 1152.79 154.48 1152.98C157.97 1153.16 162.55 1154.5 165.92 1155.62C169.29 1156.73 171.43 1158.99 174.7 1159.66C177.96 1160.34 182.34 1159.89 185.5 1159.66C188.65 1159.44 190.91 1158.3 193.62 1158.32C196.33 1158.33 199.05 1160.12 201.74 1159.74C204.44 1159.37 206.85 1156.48 209.78 1156.08C212.7 1155.69 216.13 1157.16 219.29 1157.36C222.44 1157.57 226.41 1157.34 228.7 1157.33C230.99 1157.32 231.24 1157.37 233.04 1157.3C234.84 1157.23 236.5 1157.01 239.5 1156.92C242.5 1156.83 248.18 1156.47 251.04 1156.75C253.91 1157.03 254.06 1158.32 256.68 1158.58C259.29 1158.84 263.4 1158.26 266.74 1158.31C270.08 1158.37 274.28 1158.44 276.71 1158.9C279.14 1159.36 279.66 1160.24 281.32 1161.08C282.99 1161.92 285.16 1163.43 286.68 1163.94C288.2 1164.45 288.42 1164.15 290.46 1164.14C292.51 1164.14 294.45 1164.71 298.96 1163.9C303.47 1163.09 307.67 1160.37 317.51 1159.28C327.36 1158.19 348.6 1157.44 358.04 1157.39C367.49 1157.35 369.24 1159.6 374.2 1159.01C379.15 1158.42 382.82 1153.98 387.77 1153.84C392.72 1153.7 399.88 1157.57 403.93 1158.16C407.97 1158.75 408 1157.9 412.05 1157.39C416.1 1156.89 421.45 1154.94 428.21 1155.12C434.96 1155.3 446.27 1158.08 452.58 1158.46C458.89 1158.84 461.56 1157.65 466.06 1157.39C470.55 1157.13 474.13 1156.7 479.54 1156.88C484.94 1157.06 491.71 1158.61 498.46 1158.47C505.22 1158.33 510.22 1156.22 520.06 1156.04C529.91 1155.86 551.3 1157.17 557.55 1157.39" stroke="#000" stroke-width="1.75" fill="none" stroke-dasharray="1.4 4.15"/>
<path d="M96.5 1154.91C97.16 1155.24 99.13 1155.42 100.47 1156.88C101.81 1158.33 103.18 1161.15 104.53 1163.63C105.89 1166.11 107.26 1168.92 108.59 1171.73C109.93 1174.55 111.23 1177.81 112.56 1180.51C113.9 1183.21 115.27 1185.8 116.63 1187.94C117.98 1190.07 119.1 1191.88 120.69 1193.34C122.27 1194.8 123.89 1195.7 126.13 1196.71C128.38 1197.72 131.03 1198.51 134.17 1199.41C137.31 1200.31 141.37 1201.1 144.97 1202.11C148.57 1203.12 152.17 1204.36 155.77 1205.49C159.37 1206.61 162.97 1207.74 166.57 1208.86C170.17 1209.99 174.22 1211.56 177.37 1212.24C180.53 1212.91 182.34 1212.8 185.5 1212.91C188.65 1213.03 191.79 1212.73 196.3 1212.91C200.81 1213.1 207.59 1213.73 212.55 1214C217.5 1214.27 221.53 1214.26 226.02 1214.53C230.52 1214.8 235.35 1215.38 239.5 1215.62C243.66 1215.85 244.09 1215.7 250.95 1215.95C257.81 1216.2 271.91 1217.09 280.68 1217.09C289.45 1217.09 297.07 1216.41 303.57 1215.95C310.08 1215.49 314.04 1214.32 319.73 1214.35C325.42 1214.38 333.92 1215.82 337.73 1216.15C341.55 1216.47 338.01 1216.71 342.63 1216.29C347.24 1215.88 360.29 1214.17 365.43 1213.67C370.57 1213.17 365.84 1213.75 373.46 1213.28C381.08 1212.81 397.23 1210.8 411.13 1210.86C425.02 1210.93 444.59 1212.59 456.82 1213.67C469.06 1214.75 476.89 1216.57 484.52 1217.33C492.15 1218.09 490.35 1218.08 502.62 1218.23C514.88 1218.38 548.85 1218.23 558.1 1218.23" stroke="#000" stroke-width="1.75" fill="none" stroke-dasharray="1.4 4.15"/>
<path d="M96.5 676.83C97.38 677.4 99.98 678.56 101.76 680.25C103.55 681.95 105.41 684.53 107.21 687.01C109.01 689.48 110.76 692.41 112.56 695.11C114.36 697.81 116.21 700.73 118.01 703.21C119.81 705.68 121.56 707.92 123.37 709.96C125.17 712 126.78 713.94 128.81 715.43C130.84 716.92 133.3 717.79 135.55 718.9C137.8 720.01 140.04 721.1 142.29 722.1C144.54 723.09 146.78 724.02 149.03 724.89C151.28 725.77 153.29 726.64 155.77 727.35C158.25 728.06 161.19 728.47 163.89 729.15C166.6 729.83 169.31 730.73 172.02 731.42C174.73 732.11 177.45 732.78 180.14 733.29C182.83 733.8 185.93 734.35 188.17 734.47C190.42 734.59 190.68 734.07 193.62 733.99C196.56 733.92 202.65 734.04 205.81 734.04C208.96 734.04 209.18 733.85 212.55 733.99C215.92 734.14 221.98 734.81 226.02 734.94C230.07 735.07 232.66 734.89 236.83 734.78C241 734.67 247.17 734.67 251.04 734.26C254.92 733.86 256.29 732.06 260.09 732.34C263.89 732.61 270.74 735.34 273.85 735.89C276.95 736.44 274.94 735.62 278.74 735.64C282.54 735.65 289.82 736.32 296.65 736C303.48 735.68 312.07 733.59 319.73 733.71C327.39 733.82 336.15 735.8 342.63 736.68C349.1 737.55 352.5 739.73 358.6 738.97C364.69 738.21 370.43 732.76 379.18 732.11C387.94 731.47 401.99 734.32 411.13 735.08C420.27 735.84 426.41 736.41 434.02 736.68C441.64 736.94 449.21 737.06 456.82 736.68C464.44 736.3 471.33 734.66 479.72 734.4C488.11 734.13 497.62 734.59 507.14 735.08C516.66 735.58 528.37 736.72 536.87 737.37C545.36 738.01 554.56 738.7 558.1 738.97" stroke="#000" stroke-width="1.75" fill="none" stroke-dasharray="7.3 3.2 1.3 3.2"/>
<path d="M96.5 736.59C97.16 736.97 99.13 737.39 100.47 738.9C101.81 740.41 103.18 742.95 104.53 745.65C105.89 748.36 107.26 751.96 108.59 755.11C109.93 758.26 111.23 761.41 112.56 764.56C113.9 767.71 115.27 771.31 116.63 774.01C117.98 776.71 119.1 778.74 120.69 780.76C122.27 782.79 124.33 784.92 126.13 786.16C127.93 787.4 129.69 787.47 131.49 788.19C133.29 788.91 134.69 789.81 136.94 790.48C139.18 791.16 142.61 791.78 144.97 792.24C147.32 792.7 148.58 792.91 151.06 793.25C153.54 793.59 157.06 794.02 159.83 794.25C162.6 794.48 165.2 794.13 167.68 794.65C170.16 795.17 172.85 796.96 174.7 797.34C176.54 797.73 176.96 797.02 178.76 796.96C180.56 796.91 183.25 796.97 185.5 797.02C187.74 797.06 190.44 797.08 192.24 797.23C194.04 797.39 193.82 797.93 196.3 797.92C198.78 797.92 204.39 797.47 207.1 797.2C209.81 796.93 210.75 796.44 212.55 796.29C214.35 796.14 215.65 796.17 217.9 796.29C220.15 796.4 222.87 796.54 226.02 796.96C229.18 797.39 232.66 799.19 236.83 798.83C241 798.48 247.17 795.56 251.04 794.84C254.92 794.11 257.4 794.25 260.09 794.5C262.78 794.74 264.15 795.46 267.2 796.29C270.25 797.13 271.55 799.35 278.37 799.5C285.19 799.66 301.2 797.22 308.1 797.22C314.99 797.22 313.98 799.81 319.73 799.5C325.48 799.2 336.9 795.46 342.63 795.39C348.35 795.31 348.36 798.36 354.07 799.04C359.78 799.73 368.51 800.38 376.88 799.5C385.25 798.63 394.77 794.55 404.29 793.79C413.82 793.03 425.27 794.55 434.02 794.93C442.78 795.31 450.35 796.15 456.82 796.07C463.3 796 465.26 794.29 472.89 794.48C480.52 794.67 488.41 796.19 502.62 797.22C516.82 798.24 548.85 800.07 558.1 800.65" stroke="#000" stroke-width="1.75" fill="none" stroke-dasharray="7.3 3.2 1.3 3.2"/>
<path d="M96.5 796.35C97.16 796.67 99.13 796.81 100.47 798.26C101.81 799.7 103.18 802.32 104.53 805.03C105.89 807.73 107.26 811.4 108.59 814.51C109.93 817.61 111.23 820.88 112.56 823.65C113.9 826.42 115.27 828.79 116.63 831.13C117.98 833.46 119.1 835.37 120.69 837.69C122.27 840 124.55 843.12 126.13 845.03C127.72 846.94 128.4 847.83 130.2 849.14C132 850.44 134.51 851.77 136.94 852.87C139.37 853.96 142.09 854.83 144.78 855.69C147.48 856.55 149.91 857.73 153.09 858.05C156.28 858.36 160.74 857.71 163.89 857.6C167.05 857.49 169.77 857.65 172.02 857.38C174.26 857.12 175.13 856.36 177.37 856.02C179.62 855.68 183.23 855.35 185.5 855.34C187.76 855.33 189.14 855.85 190.94 855.96C192.74 856.07 193.82 855.72 196.3 856.02C198.78 856.32 203.1 857.39 205.81 857.78C208.51 858.17 209.62 858.29 212.55 858.36C215.47 858.43 219.75 858.19 223.35 858.18C226.95 858.17 229.53 858.07 234.15 858.32C238.77 858.57 245.98 859.33 251.04 859.66C256.11 859.98 261.49 860.01 264.52 860.27C267.55 860.52 265.77 861.6 269.23 861.18C272.69 860.76 279.57 859.85 285.29 857.75C291.02 855.66 297.83 849.38 303.57 848.62C309.31 847.85 312.08 851.28 319.73 853.19C327.38 855.09 341.84 858.89 349.46 860.04C357.07 861.18 359.72 859.65 365.43 860.04C371.14 860.42 377.98 862.9 383.71 862.32C389.43 861.75 392.52 857.37 399.77 856.61C407.02 855.85 419.57 858.82 427.19 857.75C434.81 856.69 439.01 850.79 445.47 850.22C451.93 849.65 458.73 854.21 465.96 854.33C473.2 854.44 478.95 850.33 488.86 850.9C498.77 851.47 513.88 857.18 525.42 857.75C536.96 858.32 552.65 854.9 558.1 854.33" stroke="#000" stroke-width="1.75" fill="none" stroke-dasharray="7.3 3.2 1.3 3.2"/>
<path d="M96.5 856.11C97.16 856.15 99.13 855.18 100.47 856.36C101.81 857.55 103.18 861.15 104.53 863.23C105.89 865.31 107.26 866.78 108.59 868.84C109.93 870.89 111.23 873.19 112.56 875.58C113.9 877.96 115.04 880.41 116.63 883.13C118.21 885.85 120.49 889.57 122.07 891.88C123.66 894.19 124.12 894.93 126.13 896.98C128.15 899.03 131.47 902.14 134.17 904.16C136.86 906.19 139.58 907.66 142.29 909.11C145 910.56 147.65 911.74 150.41 912.85C153.18 913.97 156.22 914.75 158.91 915.77C161.6 916.79 163.49 918.31 166.57 918.99C169.65 919.67 174.22 919.65 177.37 919.88C180.53 920.1 181.9 919.81 185.5 920.34C189.1 920.87 195.37 922.81 198.98 923.07C202.58 923.32 204.73 922.36 207.1 921.88C209.47 921.39 211.39 920.65 213.19 920.17C214.99 919.69 215.76 919.52 217.9 918.99C220.04 918.46 223.32 917.48 226.02 916.96C228.73 916.45 229.98 915.88 234.15 915.88C238.32 915.88 246.72 916.64 251.04 916.96C255.37 917.29 254.38 918 260.09 917.84C265.8 917.68 277.29 917.26 285.29 916.01C293.3 914.75 302.36 911.25 308.1 910.29C313.84 909.34 308.27 909.72 319.73 910.29C331.19 910.87 360.87 912.01 376.88 913.72C392.88 915.44 406.22 919.81 415.74 920.57C425.27 921.33 427.17 918.48 434.02 918.29C440.87 918.1 449.21 919.81 456.82 919.43C464.44 919.05 473.24 916.01 479.72 916.01C486.2 916.01 489.21 920.19 495.69 919.43C502.17 918.67 508.19 913.15 518.59 911.44C528.99 909.72 551.51 909.53 558.1 909.15" stroke="#000" stroke-width="1.75" fill="none" stroke-dasharray="7.3 3.2 1.3 3.2"/>
<path d="M96.5 915.87C97.16 916.04 99.13 915.92 100.47 916.88C101.81 917.84 102.73 919.02 104.53 921.61C106.33 924.19 109.02 928.8 111.27 932.41C113.52 936.01 115.76 939.61 118.01 943.21C120.26 946.81 122.5 950.86 124.75 954.01C127 957.16 129.24 959.86 131.49 962.11C133.74 964.36 135.98 966.16 138.23 967.51C140.48 968.87 142.71 969.32 144.97 970.22C147.23 971.12 148.98 972.01 151.8 972.91C154.62 973.81 158.49 974.82 161.86 975.61C165.23 976.4 168.08 977.46 172.02 977.64C175.96 977.82 181 976.85 185.5 976.69C189.99 976.54 194.47 976.76 198.98 976.69C203.48 976.63 208.04 976.92 212.55 976.29C217.05 975.66 222.66 973.59 226.02 972.91C229.39 972.24 230.52 972.12 232.76 972.24C235.01 972.35 236.46 973.02 239.5 973.59C242.55 974.15 246.84 975 251.04 975.61C255.24 976.22 260.15 977.61 264.71 977.23C269.26 976.85 273.05 973.54 278.37 973.35C283.69 973.16 289.76 975.25 296.65 976.08C303.54 976.92 310.93 977.23 319.73 978.37C328.53 979.52 340.5 983.32 349.46 982.94C358.41 982.56 366.6 978.18 373.46 976.08C380.32 973.99 384.35 970.64 390.63 970.38C396.91 970.11 401.99 971.75 411.13 974.49C420.27 977.23 436.33 985.8 445.47 986.82C454.61 987.85 456.44 983.09 465.96 980.66C475.49 978.22 492.71 972.78 502.62 972.21C512.52 971.64 516.17 977.84 525.42 977.23C534.67 976.62 552.65 970 558.1 968.55" stroke="#000" stroke-width="1.75" fill="none" stroke-dasharray="7.3 3.2 1.3 3.2"/>
<path d="M96.5 975.63C97.16 975.84 99.13 975.77 100.47 976.88C101.81 977.99 103.18 980.14 104.53 982.28C105.89 984.42 107.26 987.12 108.59 989.7C109.93 992.29 110.99 994.66 112.56 997.81C114.13 1000.96 116.21 1005.35 118.01 1008.61C119.81 1011.87 121.56 1014.68 123.37 1017.38C125.17 1020.08 127.01 1022.67 128.81 1024.81C130.61 1026.95 131.84 1028.46 134.17 1030.22C136.49 1031.97 140.04 1034.22 142.75 1035.34C145.46 1036.47 147.34 1036.47 150.41 1036.96C153.49 1037.46 157.62 1038.31 161.22 1038.31C164.82 1038.31 168.42 1037.37 172.02 1036.96C175.62 1036.56 179.66 1036 182.82 1035.89C185.97 1035.77 188.25 1036.11 190.94 1036.29C193.64 1036.47 196.28 1037.34 198.98 1036.96C201.67 1036.58 204.39 1034.89 207.1 1033.99C209.81 1033.09 212.07 1032.15 215.22 1031.57C218.38 1030.98 222.42 1030.37 226.02 1030.48C229.63 1030.6 232.66 1031.39 236.83 1032.24C241 1033.1 247.92 1034.77 251.04 1035.61C254.17 1036.46 250.63 1036.57 255.57 1037.31C260.51 1038.05 272.68 1039.33 280.68 1040.05C288.68 1040.78 297.07 1041.19 303.57 1041.65C310.08 1042.1 308.08 1043.06 319.73 1042.79C331.38 1042.53 362.03 1040.7 373.46 1040.05C384.89 1039.4 380.14 1040.43 388.32 1038.91C396.51 1037.39 409.25 1030.61 422.57 1030.91C435.9 1031.22 456.84 1039.97 468.27 1040.73C479.7 1041.49 481.64 1036.62 491.17 1035.48C500.69 1034.34 514.26 1034 525.42 1033.88C536.57 1033.77 552.65 1034.65 558.1 1034.8" stroke="#000" stroke-width="1.75" fill="none" stroke-dasharray="7.3 3.2 1.3 3.2"/>
<path d="M96.5 1035.39C97.16 1035.75 99.13 1036.07 100.47 1037.55C101.81 1039.04 103.18 1041.72 104.53 1044.31C105.89 1046.89 107.26 1050.04 108.59 1053.08C109.93 1056.12 111.23 1059.38 112.56 1062.53C113.9 1065.68 115.04 1069.06 116.63 1071.98C118.21 1074.91 120.27 1077.72 122.07 1080.09C123.87 1082.45 125.63 1084.36 127.43 1086.16C129.23 1087.96 130.95 1089.43 132.87 1090.89C134.8 1092.35 136.49 1093.88 138.97 1094.94C141.44 1096 144.48 1096.56 147.74 1097.24C151 1097.91 154.94 1098.47 158.54 1098.99C162.14 1099.5 165.97 1100.11 169.34 1100.34C172.71 1100.56 175.62 1100.56 178.76 1100.34C181.9 1100.11 184.8 1099.44 188.17 1098.99C191.54 1098.54 195.82 1098.2 198.98 1097.64C202.13 1097.08 204.39 1096.13 207.1 1095.62C209.81 1095.1 212.52 1094.42 215.22 1094.54C217.93 1094.65 220.19 1095.89 223.35 1096.29C226.5 1096.7 229.53 1096.74 234.15 1096.96C238.77 1097.19 243.9 1097.24 251.04 1097.64C258.18 1098.03 269.95 1099.5 276.99 1099.33C284.02 1099.16 286.48 1097.3 293.23 1096.63C299.99 1095.95 308.51 1095.95 317.51 1095.28C326.52 1094.6 337.79 1092.45 347.24 1092.58C356.69 1092.72 365.2 1095.64 374.2 1096.09C383.2 1096.54 394.05 1095.64 401.25 1095.28C408.45 1094.92 412 1093.62 417.4 1093.93C422.81 1094.25 427.34 1097.26 433.65 1097.17C439.96 1097.08 447.61 1093.57 455.26 1093.39C462.9 1093.21 470.98 1095.91 479.54 1096.09C488.09 1096.27 498.03 1095.19 506.59 1094.47C515.14 1093.75 522.37 1091.86 530.87 1091.77C539.36 1091.68 553.1 1093.57 557.55 1093.93" stroke="#000" stroke-width="1.75" fill="none" stroke-dasharray="7.3 3.2 1.3 3.2"/>
<path d="M96.5 1095.15C97.16 1095.55 99.13 1095.8 100.47 1097.55C101.81 1099.3 103.18 1102.51 104.53 1105.66C105.89 1108.81 107.26 1113.08 108.59 1116.46C109.93 1119.83 110.99 1123.1 112.56 1125.91C114.13 1128.72 115.98 1131.2 118.01 1133.34C120.04 1135.48 122.5 1137.05 124.75 1138.73C127 1140.42 129.24 1142.11 131.49 1143.46C133.74 1144.81 135.98 1145.89 138.23 1146.84C140.48 1147.78 142.26 1148.68 144.97 1149.13C147.68 1149.58 150.98 1148.64 154.48 1149.54C157.97 1150.44 162.55 1153.86 165.92 1154.53C169.29 1155.21 171.43 1153.59 174.7 1153.59C177.96 1153.59 182.34 1154.38 185.5 1154.53C188.65 1154.69 190.91 1153.79 193.62 1154.53C196.33 1155.28 199.05 1158.36 201.74 1158.99C204.44 1159.62 206.85 1158.88 209.78 1158.32C212.7 1157.76 216.13 1156.52 219.29 1155.62C222.44 1154.72 225.33 1153.82 228.7 1152.92C232.07 1152.02 235.78 1150.44 239.5 1150.21C243.23 1149.99 248.18 1150.82 251.04 1151.56C253.91 1152.31 254.06 1153.96 256.68 1154.7C259.29 1155.44 263.4 1155.73 266.74 1156C270.08 1156.27 274.28 1155.96 276.71 1156.3C279.14 1156.63 279.66 1157.33 281.32 1158C282.99 1158.67 283.74 1160.02 286.68 1160.3C289.62 1160.58 293.82 1160.63 298.96 1159.7C304.1 1158.76 307.67 1155.52 317.51 1154.69C327.36 1153.86 348.6 1154.47 358.04 1154.69C367.49 1154.92 369.24 1156.72 374.2 1156.04C379.15 1155.37 382.82 1150.86 387.77 1150.64C392.72 1150.41 397.19 1154.47 403.93 1154.69C410.66 1154.92 420.1 1151.76 428.21 1151.99C436.31 1152.21 444.02 1155.59 452.58 1156.04C461.13 1156.49 471.89 1154.69 479.54 1154.69C487.18 1154.69 491.71 1156.27 498.46 1156.04C505.22 1155.82 510.22 1153.34 520.06 1153.34C529.91 1153.34 551.3 1155.59 557.55 1156.04" stroke="#000" stroke-width="1.75" fill="none" stroke-dasharray="7.3 3.2 1.3 3.2"/>
<path d="M96.5 1154.91C97.16 1155.12 99.13 1154.95 100.47 1156.16C101.81 1157.38 103.18 1159.95 104.53 1162.19C105.89 1164.42 107.26 1166.99 108.59 1169.56C109.93 1172.13 111.23 1175.16 112.56 1177.62C113.9 1180.08 115.27 1182.27 116.63 1184.32C117.98 1186.36 119.1 1188.25 120.69 1189.87C122.27 1191.5 123.89 1192.74 126.13 1194.06C128.38 1195.38 131.47 1196.67 134.17 1197.79C136.86 1198.9 138.69 1199.71 142.29 1200.76C145.89 1201.81 151.72 1203.31 155.77 1204.09C159.82 1204.88 163.42 1205.14 166.57 1205.48C169.73 1205.83 171.54 1205.55 174.7 1206.16C177.85 1206.77 182.34 1208.46 185.5 1209.13C188.65 1209.81 190.02 1209.92 193.62 1210.21C197.22 1210.51 203.95 1210.63 207.1 1210.89C210.25 1211.15 210.28 1211.45 212.55 1211.79C214.81 1212.13 218.42 1212.9 220.67 1212.91C222.92 1212.93 224.01 1212.24 226.02 1211.9C228.04 1211.56 230.52 1211.2 232.76 1210.89C235.01 1210.58 236.47 1210.32 239.5 1210.03C242.53 1209.74 245.23 1208.53 250.95 1209.14C256.68 1209.74 268.89 1212.77 273.85 1213.67C278.8 1214.57 275.72 1214.24 280.68 1214.54C285.63 1214.83 297.07 1215.31 303.57 1215.43C310.08 1215.55 313.22 1214.94 319.73 1215.26C326.24 1215.59 333.67 1217.31 342.63 1217.4C351.58 1217.49 362.04 1216.51 373.46 1215.82C384.88 1215.13 397.23 1213.26 411.13 1213.29C425.02 1213.31 441.58 1215.3 456.82 1215.95C472.07 1216.6 485.74 1217.2 502.62 1217.2C519.49 1217.2 548.85 1216.16 558.1 1215.95" stroke="#000" stroke-width="1.75" fill="none" stroke-dasharray="7.3 3.2 1.3 3.2"/>
<path d="M96.5 676.83C97.38 677.4 99.98 678.56 101.76 680.25C103.55 681.95 105.41 684.53 107.21 687.01C109.01 689.48 110.76 692.41 112.56 695.11C114.36 697.81 116.21 700.73 118.01 703.21C119.81 705.68 121.56 707.92 123.37 709.96C125.17 712 126.78 713.94 128.81 715.43C130.84 716.92 133.3 717.79 135.55 718.9C137.8 720.01 140.04 721.1 142.29 722.1C144.54 723.09 146.78 724.02 149.03 724.89C151.28 725.77 153.29 726.64 155.77 727.35C158.25 728.06 161.19 728.47 163.89 729.15C166.6 729.83 169.31 730.73 172.02 731.42C174.73 732.11 177.45 732.78 180.14 733.29C182.83 733.8 185.93 734.35 188.17 734.47C190.42 734.59 190.68 734.07 193.62 733.99C196.56 733.92 202.65 734.04 205.81 734.04C208.96 734.04 209.18 733.85 212.55 733.99C215.92 734.14 221.98 734.81 226.02 734.94C230.07 735.07 232.66 734.89 236.83 734.78C241 734.67 247.17 734.66 251.04 734.26C254.92 733.86 256.29 732.09 260.09 732.38C263.89 732.66 267.75 735.27 273.85 736C279.94 736.72 289 736.93 296.65 736.72C304.3 736.5 312.07 734.49 319.73 734.69C327.39 734.89 336.15 736.97 342.63 737.92C349.1 738.87 352.5 741.09 358.6 740.39C364.69 739.7 370.43 734.32 379.18 733.78C387.94 733.23 401.99 736.24 411.13 737.11C420.27 737.98 426.41 738.79 434.02 738.97C441.64 739.15 449.21 738.84 456.82 738.2C464.44 737.56 471.33 735.7 479.72 735.15C488.11 734.6 497.62 734.74 507.14 734.92C516.66 735.09 530 735.91 536.87 736.2C543.73 736.49 544.78 736.22 548.31 736.68C551.85 737.14 556.47 738.59 558.1 738.97" stroke="#000" stroke-width="1.75" fill="none" stroke-dasharray="7.5 8.6"/>
<path d="M96.5 736.59C97.16 736.97 99.13 737.39 100.47 738.9C101.81 740.41 103.18 742.95 104.53 745.65C105.89 748.36 107.26 751.96 108.59 755.11C109.93 758.26 111.23 761.41 112.56 764.56C113.9 767.71 115.27 771.31 116.63 774.01C117.98 776.71 119.1 778.74 120.69 780.76C122.27 782.79 124.33 784.92 126.13 786.16C127.93 787.4 129.69 787.47 131.49 788.19C133.29 788.91 134.69 789.81 136.94 790.48C139.18 791.16 142.61 791.78 144.97 792.24C147.32 792.7 148.58 792.91 151.06 793.25C153.54 793.59 157.06 794.02 159.83 794.25C162.6 794.48 165.2 794.13 167.68 794.65C170.16 795.17 172.85 796.96 174.7 797.34C176.54 797.73 176.96 797.02 178.76 796.96C180.56 796.91 183.25 796.97 185.5 797.02C187.74 797.06 190.44 797.08 192.24 797.23C194.04 797.39 193.82 797.93 196.3 797.92C198.78 797.92 204.39 797.47 207.1 797.2C209.81 796.93 210.75 796.44 212.55 796.29C214.35 796.14 215.65 796.17 217.9 796.29C220.15 796.4 222.87 796.58 226.02 796.96C229.18 797.35 232.66 799.11 236.83 798.62C241 798.13 247.17 794.91 251.04 794.02C254.92 793.13 256.29 792.91 260.09 793.25C263.89 793.6 270.8 795.4 273.85 796.07C276.89 796.75 272.66 797.56 278.37 797.3C284.08 797.03 301.2 795.06 308.1 794.48C314.99 793.89 313.98 794.44 319.73 793.79C325.48 793.14 336.9 790.44 342.63 790.59C348.35 790.74 348.36 793.79 354.07 794.7C359.78 795.62 368.51 796.62 376.88 796.08C385.25 795.54 394.77 791.84 404.29 791.46C413.82 791.08 425.27 793.32 434.02 793.79C442.78 794.26 450.35 794.56 456.82 794.3C463.3 794.05 465.26 792.28 472.89 792.26C480.52 792.24 488.41 793.54 502.62 794.18C516.82 794.81 548.85 795.76 558.1 796.07" stroke="#000" stroke-width="1.75" fill="none" stroke-dasharray="7.5 8.6"/>
<path d="M96.5 796.35C97.16 796.66 99.13 796.79 100.47 798.23C101.81 799.67 103.18 802.28 104.53 804.98C105.89 807.68 107.26 811.17 108.59 814.43C109.93 817.7 111.23 821.41 112.56 824.56C113.9 827.71 115.27 830.63 116.63 833.33C117.98 836.04 119.23 838.46 120.69 840.76C122.15 843.07 123.6 845.15 125.4 847.18C127.2 849.21 129.57 851.67 131.49 852.94C133.41 854.21 134.72 854.18 136.94 854.83C139.15 855.47 142.09 856.25 144.78 856.83C147.48 857.41 149.91 858.1 153.09 858.31C156.28 858.52 160.74 858.14 163.89 858.08C167.05 858.03 169.77 858.22 172.02 857.99C174.26 857.76 175.13 857.05 177.37 856.7C179.62 856.34 183.23 855.9 185.5 855.88C187.76 855.86 189.14 856.43 190.94 856.57C192.74 856.7 193.82 856.4 196.3 856.7C198.78 856.99 203.1 857.95 205.81 858.31C208.51 858.68 209.62 858.83 212.55 858.9C215.47 858.96 219.75 858.72 223.35 858.72C226.95 858.71 229.53 858.48 234.15 858.86C238.77 859.24 245.2 860.29 251.04 861.02C256.89 861.74 263.52 863.61 269.23 863.2C274.94 862.79 280.72 860.43 285.29 858.57C289.86 856.71 293.6 853.7 296.65 852.05C299.7 850.39 299.73 848.43 303.57 848.65C307.42 848.88 313.22 851.68 319.73 853.39C326.24 855.1 337.67 857.85 342.63 858.89C347.58 859.94 345.66 859.84 349.46 859.65C353.26 859.46 359.72 857.8 365.43 857.75C371.14 857.71 377.98 860.17 383.71 859.4C389.43 858.62 395.2 854.15 399.77 853.12C404.34 852.08 406.56 852.66 411.13 853.19C415.7 853.71 421.47 856.56 427.19 856.27C432.91 855.99 440.53 851.62 445.47 851.48C450.41 851.35 453.41 854.57 456.82 855.47C460.24 856.37 460.63 857.4 465.96 856.91C471.3 856.41 478.95 852.34 488.86 852.48C498.77 852.62 517.42 856.11 525.42 857.75C533.42 859.39 531.42 862.32 536.87 862.32C542.31 862.32 554.56 858.51 558.1 857.75" stroke="#000" stroke-width="1.75" fill="none" stroke-dasharray="7.5 8.6"/>
<path d="M96.5 856.11C97.16 856.13 99.13 855.09 100.47 856.23C101.81 857.37 103.18 860.9 104.53 862.95C105.89 865.01 107.26 866.51 108.59 868.57C109.93 870.62 111.23 872.92 112.56 875.31C113.9 877.69 115.04 880.14 116.63 882.86C118.21 885.58 120.49 889.3 122.07 891.61C123.66 893.92 124.12 894.66 126.13 896.71C128.15 898.76 131.47 901.87 134.17 903.89C136.86 905.92 139.58 907.39 142.29 908.83C145 910.28 147.65 911.45 150.41 912.58C153.18 913.71 156.22 914.55 158.91 915.62C161.6 916.68 163.49 918.21 166.57 918.99C169.65 919.76 174.22 919.92 177.37 920.26C180.53 920.6 182.79 920.66 185.5 921.02C188.2 921.37 191.37 921.95 193.62 922.37C195.87 922.78 196.73 923.57 198.98 923.53C201.22 923.49 203.95 922.91 207.1 922.12C210.25 921.33 214.75 919.77 217.9 918.8C221.06 917.83 223.32 916.98 226.02 916.3C228.73 915.63 229.99 915 234.15 914.76C238.3 914.52 246.63 914.61 250.95 914.87C255.28 915.12 254.37 916.11 260.09 916.3C265.81 916.49 277.29 916.33 285.29 916.01C293.3 915.69 302.36 914.3 308.1 914.38C313.84 914.45 313.98 915.24 319.73 916.46C325.48 917.69 335.01 921.04 342.63 921.72C350.24 922.41 359.72 921.26 365.43 920.57C371.14 919.89 373.06 918.39 376.88 917.63C380.69 916.86 381.85 915.5 388.32 916.01C394.8 916.52 408.13 920.3 415.74 920.68C423.36 921.06 427.17 918.69 434.02 918.29C440.87 917.89 449.21 919.05 456.82 918.29C464.44 917.53 473.24 914.02 479.72 913.72C486.2 913.42 489.21 917.52 495.69 916.49C502.17 915.46 513.63 909.15 518.59 907.55C523.54 905.94 518.83 906.41 525.42 906.87C532 907.33 552.65 909.72 558.1 910.29" stroke="#000" stroke-width="1.75" fill="none" stroke-dasharray="7.5 8.6"/>
<path d="M96.5 915.87C97.16 916.08 99.13 916.09 100.47 917.13C101.81 918.17 102.73 919.41 104.53 922.11C106.33 924.81 109.02 929.59 111.27 933.33C113.52 937.07 115.76 941.52 118.01 944.56C120.26 947.61 122.5 949.67 124.75 951.61C127 953.54 129.69 955.21 131.49 956.17C133.29 957.14 133.52 956.62 135.55 957.39C137.58 958.15 141.2 959.57 143.68 960.76C146.15 961.96 147.38 962.18 150.41 964.54C153.45 966.91 158.26 972.76 161.86 974.94C165.46 977.12 168.08 977.19 172.02 977.63C175.96 978.07 181 977.44 185.5 977.58C189.99 977.72 194.47 978.24 198.98 978.47C203.48 978.7 208.48 979.21 212.55 978.96C216.61 978.71 219.98 977.37 223.35 976.96C226.72 976.56 230.07 976.26 232.76 976.52C235.46 976.78 237.26 977.87 239.5 978.51C241.75 979.15 244.32 979.88 246.24 980.34C248.17 980.8 247.97 980.8 251.04 981.26C254.12 981.72 260.91 983.21 264.71 983.1C268.51 983 271.57 981.25 273.85 980.66C276.12 980.06 274.57 979.15 278.37 979.54C282.17 979.92 289.76 982.94 296.65 982.94C303.54 982.94 310.93 979.24 319.73 979.51C328.53 979.79 340.5 984.83 349.46 984.6C358.41 984.38 366.6 980.14 373.46 978.17C380.32 976.19 384.35 972.92 390.63 972.76C396.91 972.61 401.99 975.26 411.13 977.23C420.27 979.2 437.85 984.2 445.47 984.58C453.09 984.96 453.41 980.67 456.82 979.51C460.24 978.36 458.33 978.77 465.96 977.63C473.6 976.49 492.71 974.25 502.62 972.66C512.52 971.07 516.17 969.43 525.42 968.09C534.67 966.76 552.65 965.24 558.1 964.66" stroke="#000" stroke-width="1.75" fill="none" stroke-dasharray="7.5 8.6"/>
<path d="M96.5 975.63C97.16 975.99 99.13 976.39 100.47 977.82C101.81 979.24 103.18 981.81 104.53 984.18C105.89 986.55 107.26 989.46 108.59 992.02C109.93 994.57 110.99 996.48 112.56 999.5C114.13 1002.52 116.21 1006.81 118.01 1010.13C119.81 1013.45 121.56 1016.7 123.37 1019.41C125.17 1022.12 127.01 1024.4 128.81 1026.39C130.61 1028.37 131.84 1029.77 134.17 1031.31C136.49 1032.85 140.04 1034.42 142.75 1035.61C145.46 1036.81 148.46 1037.81 150.41 1038.49C152.37 1039.16 152.68 1039.22 154.48 1039.66C156.28 1040.11 159.2 1040.94 161.22 1041.16C163.23 1041.39 164.77 1041.05 166.57 1041.01C168.37 1040.98 169.99 1040.94 172.02 1040.94C174.05 1040.94 176.96 1041.11 178.76 1041.01C180.56 1040.92 181.25 1040.49 182.82 1040.38C184.39 1040.27 185.48 1040.8 188.17 1040.34C190.87 1039.88 195.82 1038.33 198.98 1037.64C202.13 1036.95 204.84 1036.54 207.1 1036.21C209.36 1035.87 210.28 1035.6 212.55 1035.61C214.81 1035.63 218.42 1036.01 220.67 1036.29C222.92 1036.56 224.22 1036.69 226.02 1037.25C227.83 1037.81 229.67 1039.25 231.47 1039.66C233.27 1040.08 233.56 1039.52 236.83 1039.74C240.09 1039.97 247.92 1040.63 251.04 1041.01C254.17 1041.4 250.63 1042.03 255.57 1042.06C260.51 1042.09 272.68 1042.29 280.68 1041.19C288.68 1040.09 299 1036.61 303.57 1035.46C308.14 1034.32 305.4 1034.53 308.1 1034.34C310.79 1034.15 313.98 1035.29 319.73 1034.34C325.48 1033.39 333.67 1029.39 342.63 1028.63C351.58 1027.87 365.84 1029.05 373.46 1029.77C381.08 1030.5 382.05 1032.22 388.32 1032.98C394.6 1033.75 405.42 1034.56 411.13 1034.34C416.84 1034.12 416.85 1031.3 422.57 1031.68C428.3 1032.06 437.85 1035.52 445.47 1036.62C453.09 1037.72 460.66 1039.42 468.27 1038.28C475.89 1037.14 481.64 1031.19 491.17 1029.77C500.69 1028.36 514.26 1029.96 525.42 1029.77C536.57 1029.58 552.65 1028.82 558.1 1028.63" stroke="#000" stroke-width="1.75" fill="none" stroke-dasharray="7.5 8.6"/>
<path d="M96.5 1035.39C97.16 1035.75 99.13 1036.07 100.47 1037.55C101.81 1039.04 103.18 1041.72 104.53 1044.31C105.89 1046.89 107.26 1050.04 108.59 1053.08C109.93 1056.12 111.23 1059.39 112.56 1062.55C113.9 1065.71 115.04 1069.09 116.63 1072.03C118.21 1074.97 120.27 1077.81 122.07 1080.19C123.87 1082.57 125.63 1084.5 127.43 1086.32C129.23 1088.14 130.95 1089.62 132.87 1091.1C134.8 1092.58 136.49 1094.1 138.97 1095.21C141.44 1096.33 144.48 1097.02 147.74 1097.79C151 1098.56 155.4 1099.28 158.54 1099.82C161.68 1100.36 163.2 1100.27 166.57 1101.01C169.94 1101.75 175.16 1103.47 178.76 1104.26C182.36 1105.05 184.8 1105.83 188.17 1105.74C191.54 1105.65 195.82 1104.45 198.98 1103.71C202.13 1102.98 204.84 1101.88 207.1 1101.32C209.36 1100.75 210.28 1100.84 212.55 1100.34C214.81 1099.84 217.07 1098.58 220.67 1098.31C224.27 1098.04 229.1 1098.7 234.15 1098.7C239.2 1098.7 243.81 1097.41 250.95 1098.31C258.09 1099.2 272.03 1103.1 276.99 1104.05C281.94 1105 277.97 1104.76 280.68 1104.01C283.39 1103.27 288.66 1100.93 293.23 1099.6C297.8 1098.27 304.05 1096.47 308.1 1096.02C312.14 1095.56 311.76 1096.5 317.51 1096.88C323.27 1097.26 337.67 1098.15 342.63 1098.31C347.58 1098.47 341.98 1097.38 347.24 1097.85C352.5 1098.32 367.35 1100.68 374.2 1101.13C381.05 1101.59 383.82 1100.8 388.32 1100.59C392.83 1100.38 397.45 1100.16 401.25 1099.85C405.05 1099.55 408.43 1099.15 411.13 1098.76C413.82 1098.37 413.65 1097.49 417.4 1097.51C421.16 1097.53 427.34 1099.7 433.65 1098.88C439.96 1098.06 447.61 1093.11 455.26 1092.6C462.9 1092.09 470.98 1095.4 479.54 1095.8C488.09 1096.21 498.03 1095.46 506.59 1095C515.14 1094.54 522.37 1092.87 530.87 1093.03C539.36 1093.2 553.1 1095.51 557.55 1096" stroke="#000" stroke-width="1.75" fill="none" stroke-dasharray="7.5 8.6"/>
<path d="M96.5 1095.15C97.16 1095.75 99.13 1096.59 100.47 1098.74C101.81 1100.9 103.18 1104.51 104.53 1108.07C105.89 1111.62 107.26 1116.27 108.59 1120.08C109.93 1123.89 110.99 1127.47 112.56 1130.91C114.13 1134.36 115.98 1138.26 118.01 1140.76C120.04 1143.26 122.5 1144.44 124.75 1145.92C127 1147.39 129.69 1148.78 131.49 1149.6C133.29 1150.43 133.3 1150.21 135.55 1150.89C137.8 1151.57 141.81 1153.28 144.97 1153.71C148.12 1154.15 150.98 1153.36 154.48 1153.5C157.97 1153.64 162.55 1154.53 165.92 1154.53C169.29 1154.54 172.33 1153.63 174.7 1153.54C177.06 1153.45 178.34 1153.9 180.14 1153.99C181.94 1154.09 183.25 1154.18 185.5 1154.11C187.74 1154.05 190.91 1153.66 193.62 1153.59C196.33 1153.52 199.05 1153.76 201.74 1153.71C204.44 1153.67 206.85 1153.22 209.78 1153.31C212.7 1153.4 216.13 1153.85 219.29 1154.26C222.44 1154.67 225.33 1155.31 228.7 1155.77C232.07 1156.22 235.78 1156.88 239.5 1156.97C243.23 1157.05 248.18 1156.25 251.04 1156.29C253.91 1156.33 254.06 1157.51 256.68 1157.22C259.29 1156.93 263.4 1155.61 266.74 1154.56C270.08 1153.51 274.39 1151.56 276.71 1150.94C279.03 1150.32 279.02 1150.36 280.68 1150.85C282.34 1151.33 283.63 1153.3 286.68 1153.86C289.73 1154.42 293.82 1154.75 298.96 1154.22C304.1 1153.69 307.67 1150.23 317.51 1150.67C327.36 1151.11 348.6 1155.18 358.04 1156.86C367.49 1158.54 369.24 1160.64 374.2 1160.74C379.15 1160.85 382.82 1157.78 387.77 1157.47C392.72 1157.16 397.19 1159.81 403.93 1158.9C410.66 1157.98 420.1 1153.16 428.21 1151.98C436.31 1150.8 447.81 1151.99 452.58 1151.8C457.35 1151.61 452.33 1151.12 456.82 1150.85C461.32 1150.58 472.6 1150 479.54 1150.17C486.48 1150.35 491.71 1152 498.46 1151.91C505.22 1151.82 510.22 1149.45 520.06 1149.65C529.91 1149.85 551.3 1152.54 557.55 1153.12" stroke="#000" stroke-width="1.75" fill="none" stroke-dasharray="7.5 8.6"/>
<path d="M96.5 1154.91C97.16 1155.13 99.13 1154.98 100.47 1156.21C101.81 1157.44 103.18 1160.04 104.53 1162.29C105.89 1164.54 107.26 1167.12 108.59 1169.71C109.93 1172.3 111.23 1175.34 112.56 1177.82C113.9 1180.3 115.27 1182.51 116.63 1184.57C117.98 1186.62 119.1 1188.51 120.69 1190.14C122.27 1191.77 123.89 1193.01 126.13 1194.33C128.38 1195.65 131.47 1196.94 134.17 1198.06C136.86 1199.17 138.69 1199.98 142.29 1201.03C145.89 1202.09 151.72 1203.58 155.77 1204.36C159.82 1205.15 163.42 1205.41 166.57 1205.75C169.73 1206.1 171.54 1205.82 174.7 1206.43C177.85 1207.04 182.34 1208.73 185.5 1209.4C188.65 1210.08 190.02 1210.19 193.62 1210.48C197.22 1210.78 203.95 1210.9 207.1 1211.16C210.25 1211.42 210.28 1211.72 212.55 1212.06C214.81 1212.4 218.42 1213.17 220.67 1213.18C222.92 1213.2 224.01 1212.5 226.02 1212.17C228.04 1211.83 230.52 1211.47 232.76 1211.16C235.01 1210.85 236.47 1210.59 239.5 1210.3C242.53 1210.01 245.23 1208.84 250.95 1209.4C256.68 1209.97 268.89 1212.81 273.85 1213.67C278.8 1214.52 275.72 1214.24 280.68 1214.54C285.63 1214.83 297.07 1215.31 303.57 1215.43C310.08 1215.55 313.22 1214.94 319.73 1215.26C326.24 1215.59 333.67 1217.31 342.63 1217.4C351.58 1217.49 362.04 1216.51 373.46 1215.82C384.88 1215.13 397.23 1213.26 411.13 1213.29C425.02 1213.31 441.58 1215.3 456.82 1215.95C472.07 1216.6 485.74 1217.2 502.62 1217.2C519.49 1217.2 548.85 1216.16 558.1 1215.95" stroke="#000" stroke-width="1.75" fill="none" stroke-dasharray="7.5 8.6"/>
<path d="M96.5 676.83C97.38 677.4 99.98 678.56 101.76 680.25C103.55 681.95 105.41 684.53 107.21 687.01C109.01 689.48 110.76 692.41 112.56 695.11C114.36 697.81 116.21 700.73 118.01 703.21C119.81 705.68 121.56 707.93 123.37 709.96C125.17 711.99 126.78 713.9 128.81 715.36C130.84 716.82 133.3 717.66 135.55 718.74C137.8 719.82 140.04 720.87 142.29 721.84C144.54 722.81 146.78 723.87 149.03 724.54C151.28 725.22 153.29 725.62 155.77 725.89C158.25 726.16 161.19 725.78 163.89 726.16C166.6 726.54 169.31 727.4 172.02 728.19C174.73 728.97 177.45 730.1 180.14 730.89C182.83 731.68 185.48 732.58 188.17 732.91C190.87 733.25 193.36 733.18 196.3 732.91C199.24 732.64 202.65 731.79 205.81 731.29C208.96 730.8 211.85 730.17 215.22 729.94C218.59 729.72 222.42 729.85 226.02 729.94C229.63 730.03 232.66 730.1 236.83 730.48C241 730.86 247.17 732.16 251.04 732.24C254.92 732.32 256.29 730.42 260.09 730.97C263.89 731.52 267.75 734.7 273.85 735.54C279.94 736.37 289 736.3 296.65 736C304.3 735.69 312.07 733.59 319.73 733.71C327.39 733.82 336.15 735.8 342.63 736.68C349.1 737.55 352.5 739.73 358.6 738.97C364.69 738.21 370.43 732.76 379.18 732.11C387.94 731.47 401.99 734.32 411.13 735.08C420.27 735.84 426.41 736.41 434.02 736.68C441.64 736.94 449.21 737.06 456.82 736.68C464.44 736.3 471.33 734.66 479.72 734.4C488.11 734.13 497.62 734.59 507.14 735.08C516.66 735.58 528.37 736.72 536.87 737.37C545.36 738.01 554.56 738.7 558.1 738.97" stroke="#000" stroke-width="1.75" fill="none" stroke-linejoin="round"/>
<path d="M96.5 736.59C97.16 736.97 99.13 737.39 100.47 738.9C101.81 740.41 103.18 742.95 104.53 745.65C105.89 748.36 107.26 751.96 108.59 755.11C109.93 758.26 111.23 761.41 112.56 764.56C113.9 767.71 115.27 771.31 116.63 774.01C117.98 776.71 119.1 778.74 120.69 780.76C122.27 782.79 124.33 784.92 126.13 786.16C127.93 787.4 129.69 787.47 131.49 788.19C133.29 788.91 134.69 789.81 136.94 790.48C139.18 791.16 142.28 791.72 144.97 792.24C147.66 792.76 150.61 793.03 153.09 793.59C155.57 794.15 157.4 795.01 159.83 795.61C162.26 796.22 165.2 796.33 167.68 797.23C170.16 798.13 171.73 800.27 174.7 801.02C177.66 801.76 181.9 801.42 185.5 801.69C189.1 801.96 192.7 802.75 196.3 802.64C199.9 802.52 203.5 801.74 207.1 801.02C210.7 800.3 214.75 798.99 217.9 798.32C221.06 797.64 222.87 797.01 226.02 796.96C229.18 796.92 232.66 798.5 236.83 798.05C241 797.6 247.17 794.9 251.04 794.26C254.92 793.63 255.54 793.37 260.09 794.25C264.65 795.12 270.37 799.01 278.37 799.5C286.37 800 301.2 797.22 308.1 797.22C314.99 797.22 313.98 799.81 319.73 799.5C325.48 799.2 336.9 795.46 342.63 795.39C348.35 795.31 348.36 798.36 354.07 799.04C359.78 799.73 368.51 800.38 376.88 799.5C385.25 798.63 394.77 794.55 404.29 793.79C413.82 793.03 425.27 794.55 434.02 794.93C442.78 795.31 450.35 796.15 456.82 796.07C463.3 796 465.26 794.29 472.89 794.48C480.52 794.67 488.41 796.19 502.62 797.22C516.82 798.24 548.85 800.07 558.1 800.65" stroke="#000" stroke-width="1.75" fill="none" stroke-linejoin="round"/>
<path d="M96.5 796.35C97.16 796.66 99.13 796.79 100.47 798.23C101.81 799.67 103.18 802.28 104.53 804.98C105.89 807.68 107.26 811.17 108.59 814.43C109.93 817.7 111.23 821.41 112.56 824.56C113.9 827.71 115.27 830.63 116.63 833.33C117.98 836.04 119.1 838.29 120.69 840.76C122.27 843.24 124.33 846.21 126.13 848.19C127.93 850.17 129.69 851.63 131.49 852.64C133.29 853.66 134.72 853.72 136.94 854.26C139.15 854.8 142.09 855.43 144.78 855.88C147.48 856.33 149.91 856.56 153.09 856.96C156.28 857.37 160.74 857.64 163.89 858.31C167.05 858.99 169.31 860.3 172.02 861.02C174.73 861.74 176.99 862.64 180.14 862.64C183.3 862.64 187.8 861.62 190.94 861.02C194.08 860.41 196.5 860 198.98 858.99C201.45 857.98 203.55 855.95 205.81 854.94C208.07 853.93 209.62 853.25 212.55 852.91C215.47 852.57 219.75 852.73 223.35 852.91C226.95 853.09 229.53 853.21 234.15 853.99C238.77 854.78 245.2 856.44 251.04 857.64C256.89 858.84 263.52 861.16 269.23 861.18C274.94 861.2 279.57 859.85 285.29 857.75C291.02 855.66 297.83 849.38 303.57 848.62C309.31 847.85 312.08 851.28 319.73 853.19C327.38 855.09 341.84 858.89 349.46 860.04C357.07 861.18 359.72 859.65 365.43 860.04C371.14 860.42 377.98 862.9 383.71 862.32C389.43 861.75 392.52 857.37 399.77 856.61C407.02 855.85 419.57 858.82 427.19 857.75C434.81 856.69 439.01 850.79 445.47 850.22C451.93 849.65 458.73 854.21 465.96 854.33C473.2 854.44 478.95 850.33 488.86 850.9C498.77 851.47 513.88 857.18 525.42 857.75C536.96 858.32 552.65 854.9 558.1 854.33" stroke="#000" stroke-width="1.75" fill="none" stroke-linejoin="round"/>
<path d="M96.5 856.11C97.16 856.46 99.13 856.42 100.47 858.23C101.81 860.05 103.18 863.97 104.53 867C105.89 870.04 107.26 873.31 108.59 876.46C109.93 879.61 111.23 882.98 112.56 885.91C113.9 888.83 115.04 891.42 116.63 894.01C118.21 896.6 120.27 899.41 122.07 901.44C123.87 903.46 125.41 904.81 127.43 906.16C129.44 907.52 131.69 908.53 134.17 909.54C136.64 910.55 139.58 911.45 142.29 912.24C145 913.02 147.65 913.65 150.41 914.26C153.18 914.87 156.22 915.25 158.91 915.88C161.6 916.51 163.49 917.53 166.57 918.05C169.65 918.56 173.77 918.72 177.37 918.99C180.97 919.26 184.57 919.06 188.17 919.66C191.77 920.27 195.82 922.3 198.98 922.63C202.13 922.97 203.95 922.3 207.1 921.69C210.25 921.08 214.75 919.78 217.9 918.99C221.06 918.2 223.32 917.48 226.02 916.96C228.73 916.45 229.98 915.88 234.15 915.88C238.32 915.88 246.72 916.64 251.04 916.96C255.37 917.29 254.38 918 260.09 917.84C265.8 917.68 277.29 917.26 285.29 916.01C293.3 914.75 302.36 911.25 308.1 910.29C313.84 909.34 308.27 909.72 319.73 910.29C331.19 910.87 360.87 912.01 376.88 913.72C392.88 915.44 406.22 919.81 415.74 920.57C425.27 921.33 427.17 918.48 434.02 918.29C440.87 918.1 449.21 919.81 456.82 919.43C464.44 919.05 473.24 916.01 479.72 916.01C486.2 916.01 489.21 920.19 495.69 919.43C502.17 918.67 508.19 913.15 518.59 911.44C528.99 909.72 551.51 909.53 558.1 909.15" stroke="#000" stroke-width="1.75" fill="none" stroke-linejoin="round"/>
<path d="M96.5 915.87C97.16 916.04 99.13 915.92 100.47 916.88C101.81 917.84 102.73 919.02 104.53 921.61C106.33 924.19 109.02 928.8 111.27 932.41C113.52 936.01 115.76 939.61 118.01 943.21C120.26 946.81 122.5 950.86 124.75 954.01C127 957.16 129.24 959.86 131.49 962.11C133.74 964.36 135.98 966.16 138.23 967.51C140.48 968.87 142.71 969.32 144.97 970.22C147.23 971.12 148.98 972.01 151.8 972.91C154.62 973.81 158.49 974.82 161.86 975.61C165.23 976.4 168.08 977.46 172.02 977.64C175.96 977.82 181 976.85 185.5 976.69C189.99 976.54 194.47 976.76 198.98 976.69C203.48 976.63 208.04 976.92 212.55 976.29C217.05 975.66 222.66 973.59 226.02 972.91C229.39 972.24 230.52 972.12 232.76 972.24C235.01 972.35 236.46 973.02 239.5 973.59C242.55 974.15 246.84 975 251.04 975.61C255.24 976.22 260.15 977.61 264.71 977.23C269.26 976.85 273.05 973.54 278.37 973.35C283.69 973.16 289.76 975.25 296.65 976.08C303.54 976.92 310.93 977.23 319.73 978.37C328.53 979.52 340.5 983.32 349.46 982.94C358.41 982.56 366.6 978.18 373.46 976.08C380.32 973.99 384.35 970.64 390.63 970.38C396.91 970.11 401.99 971.75 411.13 974.49C420.27 977.23 436.33 985.8 445.47 986.82C454.61 987.85 456.44 983.09 465.96 980.66C475.49 978.22 492.71 972.78 502.62 972.21C512.52 971.64 516.17 977.84 525.42 977.23C534.67 976.62 552.65 970 558.1 968.55" stroke="#000" stroke-width="1.75" fill="none" stroke-linejoin="round"/>
<path d="M96.5 975.63C97.16 975.84 99.13 975.77 100.47 976.88C101.81 977.99 103.18 980.14 104.53 982.28C105.89 984.42 107.26 987.12 108.59 989.7C109.93 992.29 110.99 994.66 112.56 997.81C114.13 1000.96 116.21 1005.35 118.01 1008.61C119.81 1011.87 121.56 1014.68 123.37 1017.38C125.17 1020.08 127.01 1022.67 128.81 1024.81C130.61 1026.95 131.84 1028.46 134.17 1030.22C136.49 1031.97 140.04 1034.22 142.75 1035.34C145.46 1036.47 147.34 1036.47 150.41 1036.96C153.49 1037.46 157.62 1038.31 161.22 1038.31C164.82 1038.31 168.42 1037.37 172.02 1036.96C175.62 1036.56 179.66 1036 182.82 1035.89C185.97 1035.77 188.25 1036.11 190.94 1036.29C193.64 1036.47 196.28 1037.34 198.98 1036.96C201.67 1036.58 204.39 1034.89 207.1 1033.99C209.81 1033.09 212.07 1032.15 215.22 1031.57C218.38 1030.98 222.42 1030.37 226.02 1030.48C229.63 1030.6 232.66 1031.39 236.83 1032.24C241 1033.1 247.92 1034.77 251.04 1035.61C254.17 1036.46 250.63 1036.57 255.57 1037.31C260.51 1038.05 272.68 1039.33 280.68 1040.05C288.68 1040.78 297.07 1041.19 303.57 1041.65C310.08 1042.1 308.08 1043.06 319.73 1042.79C331.38 1042.53 362.03 1040.7 373.46 1040.05C384.89 1039.4 380.14 1040.43 388.32 1038.91C396.51 1037.39 409.25 1030.61 422.57 1030.91C435.9 1031.22 456.84 1039.97 468.27 1040.73C479.7 1041.49 481.64 1036.62 491.17 1035.48C500.69 1034.34 514.26 1034 525.42 1033.88C536.57 1033.77 552.65 1034.65 558.1 1034.8" stroke="#000" stroke-width="1.75" fill="none" stroke-linejoin="round"/>
<path d="M96.5 1035.39C97.16 1035.75 99.13 1036.07 100.47 1037.55C101.81 1039.04 103.18 1041.72 104.53 1044.31C105.89 1046.89 107.26 1050.04 108.59 1053.08C109.93 1056.12 111.23 1059.38 112.56 1062.53C113.9 1065.68 115.04 1069.06 116.63 1071.98C118.21 1074.91 120.27 1077.72 122.07 1080.09C123.87 1082.45 125.63 1084.36 127.43 1086.16C129.23 1087.96 130.95 1089.43 132.87 1090.89C134.8 1092.35 136.49 1093.88 138.97 1094.94C141.44 1096 144.48 1096.56 147.74 1097.24C151 1097.91 154.94 1098.47 158.54 1098.99C162.14 1099.5 165.97 1100.11 169.34 1100.34C172.71 1100.56 175.62 1100.56 178.76 1100.34C181.9 1100.11 184.8 1099.44 188.17 1098.99C191.54 1098.54 195.82 1098.2 198.98 1097.64C202.13 1097.08 204.39 1096.13 207.1 1095.62C209.81 1095.1 212.52 1094.42 215.22 1094.54C217.93 1094.65 220.19 1095.89 223.35 1096.29C226.5 1096.7 229.53 1096.74 234.15 1096.96C238.77 1097.19 243.9 1097.24 251.04 1097.64C258.18 1098.03 269.95 1099.5 276.99 1099.33C284.02 1099.16 286.48 1097.3 293.23 1096.63C299.99 1095.95 308.51 1095.95 317.51 1095.28C326.52 1094.6 337.79 1092.45 347.24 1092.58C356.69 1092.72 365.2 1095.64 374.2 1096.09C383.2 1096.54 394.05 1095.64 401.25 1095.28C408.45 1094.92 412 1093.62 417.4 1093.93C422.81 1094.25 427.34 1097.26 433.65 1097.17C439.96 1097.08 447.61 1093.57 455.26 1093.39C462.9 1093.21 470.98 1095.91 479.54 1096.09C488.09 1096.27 498.03 1095.19 506.59 1094.47C515.14 1093.75 522.37 1091.86 530.87 1091.77C539.36 1091.68 553.1 1093.57 557.55 1093.93" stroke="#000" stroke-width="1.75" fill="none" stroke-linejoin="round"/>
<path d="M96.5 1095.15C97.16 1095.55 99.13 1095.8 100.47 1097.55C101.81 1099.3 103.18 1102.51 104.53 1105.66C105.89 1108.81 107.26 1113.08 108.59 1116.46C109.93 1119.83 110.99 1123.1 112.56 1125.91C114.13 1128.72 115.98 1131.2 118.01 1133.34C120.04 1135.48 122.5 1137.05 124.75 1138.73C127 1140.42 129.24 1142.11 131.49 1143.46C133.74 1144.81 135.98 1145.89 138.23 1146.84C140.48 1147.78 142.26 1148.68 144.97 1149.13C147.68 1149.58 150.98 1148.64 154.48 1149.54C157.97 1150.44 162.55 1153.86 165.92 1154.53C169.29 1155.21 171.43 1153.59 174.7 1153.59C177.96 1153.59 182.34 1154.38 185.5 1154.53C188.65 1154.69 190.91 1153.79 193.62 1154.53C196.33 1155.28 199.05 1158.36 201.74 1158.99C204.44 1159.62 206.85 1158.88 209.78 1158.32C212.7 1157.76 216.13 1156.52 219.29 1155.62C222.44 1154.72 225.33 1153.82 228.7 1152.92C232.07 1152.02 235.78 1150.44 239.5 1150.21C243.23 1149.99 248.18 1150.82 251.04 1151.56C253.91 1152.31 254.06 1153.96 256.68 1154.7C259.29 1155.44 263.4 1155.73 266.74 1156C270.08 1156.27 274.28 1155.96 276.71 1156.3C279.14 1156.63 279.66 1157.33 281.32 1158C282.99 1158.67 283.74 1160.02 286.68 1160.3C289.62 1160.58 293.82 1160.63 298.96 1159.7C304.1 1158.76 307.67 1155.52 317.51 1154.69C327.36 1153.86 348.6 1154.47 358.04 1154.69C367.49 1154.92 369.24 1156.72 374.2 1156.04C379.15 1155.37 382.82 1150.86 387.77 1150.64C392.72 1150.41 397.19 1154.47 403.93 1154.69C410.66 1154.92 420.1 1151.76 428.21 1151.99C436.31 1152.21 444.02 1155.59 452.58 1156.04C461.13 1156.49 471.89 1154.69 479.54 1154.69C487.18 1154.69 491.71 1156.27 498.46 1156.04C505.22 1155.82 510.22 1153.34 520.06 1153.34C529.91 1153.34 551.3 1155.59 557.55 1156.04" stroke="#000" stroke-width="1.75" fill="none" stroke-linejoin="round"/>
<path d="M96.5 1154.91C97.16 1155.24 99.13 1155.42 100.47 1156.88C101.81 1158.33 103.18 1161.15 104.53 1163.63C105.89 1166.11 107.26 1168.92 108.59 1171.73C109.93 1174.55 111.23 1177.81 112.56 1180.51C113.9 1183.21 115.27 1185.8 116.63 1187.94C117.98 1190.07 119.1 1191.88 120.69 1193.34C122.27 1194.8 123.89 1195.7 126.13 1196.71C128.38 1197.72 131.03 1198.51 134.17 1199.41C137.31 1200.31 141.37 1201.1 144.97 1202.11C148.57 1203.12 152.17 1204.36 155.77 1205.49C159.37 1206.61 162.97 1207.74 166.57 1208.86C170.17 1209.99 174.22 1211.56 177.37 1212.24C180.53 1212.91 182.34 1212.8 185.5 1212.91C188.65 1213.03 191.79 1212.73 196.3 1212.91C200.81 1213.1 207.59 1213.73 212.55 1214C217.5 1214.27 221.53 1214.26 226.02 1214.53C230.52 1214.8 235.35 1215.38 239.5 1215.62C243.66 1215.85 244.09 1215.7 250.95 1215.95C257.81 1216.2 271.91 1217.09 280.68 1217.09C289.45 1217.09 297.07 1216.41 303.57 1215.95C310.08 1215.49 313.22 1214.23 319.73 1214.35C326.24 1214.46 333.67 1216.49 342.63 1216.64C351.58 1216.79 362.04 1215.87 373.46 1215.26C384.88 1214.65 397.23 1212.87 411.13 1212.98C425.02 1213.1 441.58 1215.08 456.82 1215.95C472.07 1216.83 485.74 1217.85 502.62 1218.23C519.49 1218.61 548.85 1218.23 558.1 1218.23" stroke="#000" stroke-width="1.75" fill="none" stroke-linejoin="round"/>
</g>
<circle cx="300.8" cy="736.59" r="8.1" fill="#000"/>
<circle cx="167.59" cy="796.35" r="8.1" fill="#000"/>
<circle cx="144.69" cy="856.11" r="8.1" fill="#000"/>
<circle cx="159.09" cy="915.87" r="8.1" fill="#000"/>
<circle cx="161.86" cy="975.63" r="8.1" fill="#000"/>
<circle cx="142.84" cy="1035.39" r="8.1" fill="#000"/>
<circle cx="138.97" cy="1095.15" r="8.1" fill="#000"/>
<circle cx="165.92" cy="1154.91" r="8.1" fill="#000"/>
<circle cx="262.4" cy="1214.67" r="8.1" fill="#000"/>
<clipPath id="clipd"><rect x="707.3" y="658.9" width="461.5" height="573.7"/></clipPath>
<g clip-path="url(#clipd)">
<path d="M707.3 676.83C707.99 677.06 710.08 676.98 711.45 678.23C712.82 679.47 714.16 681.72 715.51 684.3C716.87 686.89 718.22 690.61 719.58 693.76C720.93 696.91 722.28 700.19 723.64 703.21C724.99 706.22 726.36 709.23 727.7 711.87C729.04 714.51 730.33 716.66 731.67 719.05C733.01 721.44 734.14 723.99 735.73 726.21C737.31 728.43 739.14 730.48 741.17 732.38C743.2 734.27 746.11 736.58 747.91 737.57C749.71 738.56 750.62 737.81 751.97 738.32C753.33 738.82 754 739.83 756.03 740.61C758.07 741.4 761.46 742.68 764.16 743.01C766.85 743.33 769.94 742.62 772.19 742.56C774.43 742.5 775.83 742.81 777.63 742.64C779.43 742.46 780.29 741.81 782.99 741.52C785.68 741.23 790.19 741.17 793.79 740.9C797.38 740.63 801.88 740.09 804.58 739.89C807.29 739.68 808.23 739.68 810.03 739.67C811.83 739.65 813.14 739.79 815.38 739.79C817.63 739.79 819.91 739.9 823.51 739.67C827.11 739.43 832.92 739 836.98 738.36C841.04 737.72 843.7 736.74 847.87 735.84C852.04 734.94 855.84 733.22 861.99 732.98C868.15 732.73 877.18 733.37 884.79 734.37C892.41 735.37 899.99 737.63 907.68 738.97C915.37 740.3 922.5 741.25 930.94 742.39C939.39 743.53 952.63 745.59 958.36 745.82C964.08 746.04 960.33 745.06 965.28 743.73C970.23 742.4 980.46 739.89 988.08 737.82C995.69 735.75 1003.35 733.05 1010.97 731.33C1018.58 729.62 1028.44 727.45 1033.77 727.54C1039.09 727.64 1037.95 731.2 1042.9 731.9C1047.86 732.6 1059.3 731.52 1063.49 731.74C1067.67 731.97 1062.69 732.17 1068.01 733.25C1073.33 734.34 1085.9 738.11 1095.42 738.28C1104.94 738.44 1112.91 735.29 1125.14 734.27C1137.37 733.24 1161.52 732.47 1168.8 732.11" stroke="#000" stroke-width="1.75" fill="none" stroke-dasharray="1.4 4.15"/>
<path d="M707.3 736.59C708.72 736.98 712.85 737.05 715.79 738.97C718.73 740.89 721.51 744.49 724.93 748.1C728.34 751.72 732.48 756.67 736.28 760.67C740.08 764.66 743.91 768.28 747.73 772.09C751.54 775.89 755.36 780.16 759.17 783.51C762.99 786.86 767.19 790.06 770.62 792.19C774.05 794.32 775.96 795.08 779.76 796.3C783.56 797.52 788.14 798.73 793.42 799.5C798.69 800.28 807.6 800.5 811.41 800.94C815.23 801.38 811.69 801.23 816.31 802.13C820.92 803.04 831.49 805.4 839.1 806.35C846.72 807.31 853.23 807.41 861.99 807.85C870.76 808.3 884.1 808.94 891.72 809C899.33 809.05 903.11 808.44 907.68 808.18C912.25 807.92 915.25 807.36 919.13 807.44C923.01 807.52 926.68 809.01 930.94 808.64C935.2 808.27 937.08 805.6 944.7 805.22C952.31 804.84 969.4 806.46 976.63 806.35C983.86 806.24 980.46 805.88 988.08 804.57C995.69 803.25 1014.71 799.69 1022.32 798.47C1029.93 797.24 1026.15 797.62 1033.77 797.22C1041.38 796.81 1058.49 796.6 1068.01 796.03C1077.53 795.46 1081.38 793.86 1090.9 793.79C1100.42 793.72 1112.16 795.78 1125.14 795.59C1138.13 795.4 1161.52 793.14 1168.8 792.65" stroke="#000" stroke-width="1.75" fill="none" stroke-dasharray="1.4 4.15"/>
<path d="M707.3 796.35C708.67 796.31 713.02 795.71 715.51 796.14C718.01 796.56 720.01 797.65 722.25 798.9C724.5 800.15 726.74 801.94 728.99 803.63C731.24 805.32 733.48 807.23 735.73 809.03C737.97 810.83 740.2 812.74 742.47 814.43C744.73 816.12 747.04 817.7 749.3 819.16C751.56 820.62 753.79 821.86 756.03 823.21C758.28 824.55 760.53 825.99 762.77 827.26C765.02 828.53 767.26 829.58 769.51 830.83C771.76 832.09 774 833.35 776.25 834.78C778.49 836.21 780.74 838.11 782.99 839.41C785.23 840.71 787.46 841.53 789.72 842.59C791.99 843.65 794.08 844.59 796.55 845.78C799.03 846.96 801.55 847.88 804.58 849.72C807.61 851.55 811.58 855.32 814.74 856.78C817.89 858.25 820.24 857.63 823.51 858.49C826.77 859.35 830.71 860.91 834.3 861.95C837.9 863 842.4 864.11 845.1 864.75C847.81 865.38 847.73 865.34 850.55 865.77C853.36 866.19 858.18 866.83 861.99 867.29C865.81 867.76 867.73 867.98 873.44 868.53C879.15 869.08 888.62 870.37 896.24 870.6C903.85 870.84 913.34 870.18 919.13 869.94C924.91 869.71 923.25 870.12 930.94 869.18C938.63 868.24 957.66 865.27 965.28 864.32C972.89 863.37 970.92 863.83 976.63 863.47C982.34 863.1 991.91 862.32 999.52 862.13C1007.14 861.94 1016.61 862.37 1022.32 862.32C1028.03 862.28 1026.15 862.44 1033.77 861.87C1041.38 861.3 1060.78 859.3 1068.01 858.89C1075.24 858.49 1065.72 859.47 1077.15 859.43C1088.58 859.4 1121.31 859.15 1136.59 858.68C1151.86 858.21 1163.43 856.96 1168.8 856.61" stroke="#000" stroke-width="1.75" fill="none" stroke-dasharray="1.4 4.15"/>
<path d="M707.3 856.11C708.67 856.11 713.02 855.67 715.51 856.14C718.01 856.6 720.01 857.88 722.25 858.91C724.5 859.93 726.74 861.15 728.99 862.28C731.24 863.4 733.48 864.47 735.73 865.65C737.97 866.84 740.2 868.25 742.47 869.38C744.73 870.5 747.04 871.28 749.3 872.41C751.56 873.53 753.79 874.99 756.03 876.12C758.28 877.24 760.53 878.1 762.77 879.16C765.02 880.22 767.26 881.47 769.51 882.48C771.76 883.49 773.54 884.04 776.25 885.23C778.96 886.42 783.51 888.62 785.75 889.63C788 890.64 787.92 890.58 789.72 891.31C791.52 892.04 794.29 893.13 796.55 894.03C798.82 894.93 801.49 895.99 803.29 896.71C805.09 897.43 805.11 897.44 807.35 898.34C809.6 899.24 813.17 900.75 816.77 902.11C820.37 903.47 825.58 905.27 828.95 906.5C832.32 907.73 834.5 908.63 836.98 909.48C839.46 910.32 841.89 911.12 843.81 911.56C845.73 912 846.27 911.78 848.52 912.12C850.76 912.46 855.04 913.2 857.29 913.59C859.53 913.97 859.3 914.09 861.99 914.44C864.69 914.78 869.64 915.21 873.44 915.67C877.24 916.12 880.99 916.68 884.79 917.15C888.59 917.62 890.52 918.04 896.24 918.47C901.96 918.89 913.34 919.63 919.13 919.72C924.91 919.8 923.25 919.1 930.94 918.99C938.63 918.87 957.66 918.78 965.28 919.04C972.89 919.31 972.83 920.17 976.63 920.57C980.43 920.98 980.46 920.87 988.08 921.47C995.69 922.07 1009 923.69 1022.32 924.17C1035.64 924.64 1048.96 924.93 1068.01 924.33C1087.05 923.73 1119.79 921.77 1136.59 920.57C1153.39 919.38 1163.43 917.72 1168.8 917.15" stroke="#000" stroke-width="1.75" fill="none" stroke-dasharray="1.4 4.15"/>
<path d="M707.3 915.87C708.67 916.04 713.02 916.37 715.51 916.88C718.01 917.39 720.01 917.89 722.25 918.91C724.5 919.92 726.74 921.71 728.99 922.95C731.24 924.19 733.48 925.2 735.73 926.33C737.97 927.45 740.2 928.58 742.47 929.7C744.73 930.83 747.04 932.05 749.3 933.07C751.56 934.08 753.79 934.65 756.03 935.78C758.28 936.91 760.53 938.71 762.77 939.83C765.02 940.96 767.26 941.52 769.51 942.53C771.76 943.55 774 944.9 776.25 945.91C778.49 946.92 780.74 947.45 782.99 948.61C785.23 949.77 787.02 951.3 789.72 952.87C792.43 954.45 795.85 956.3 799.23 958.06C802.62 959.83 805.98 961.89 810.03 963.46C814.08 965.04 819.01 966.39 823.51 967.51C828 968.64 832.47 969.32 836.98 970.22C841.49 971.12 846.49 972.24 850.55 972.91C854.61 973.59 858.69 974.09 861.35 974.26C864.01 974.43 861.46 973.52 866.52 973.94C871.58 974.35 883.72 976.55 891.72 976.77C899.71 976.99 907.98 975.77 914.51 975.27C921.05 974.78 918.68 974.19 930.94 973.8C943.2 973.41 969.03 972.95 988.08 972.95C1007.12 972.95 1033.78 973.41 1045.21 973.8C1056.64 974.2 1049.04 974.94 1056.66 975.32C1064.27 975.7 1081.39 975.67 1090.9 976.08C1100.41 976.5 1100.71 977.03 1113.7 977.79C1126.68 978.55 1159.62 980.18 1168.8 980.66" stroke="#000" stroke-width="1.75" fill="none" stroke-dasharray="1.4 4.15"/>
<path d="M707.3 975.63C708.67 975.77 713.02 975.81 715.51 976.47C718.01 977.13 720.01 978.27 722.25 979.58C724.5 980.89 726.74 982.62 728.99 984.31C731.24 985.99 733.48 987.9 735.73 989.7C737.97 991.5 740.2 993.31 742.47 995.11C744.73 996.91 747.04 998.71 749.3 1000.51C751.56 1002.31 753.79 1004.11 756.03 1005.91C758.28 1007.71 760.53 1009.62 762.77 1011.31C765.02 1012.99 767.03 1014.6 769.51 1016.03C771.99 1017.47 774.93 1018.77 777.63 1019.9C780.34 1021.03 782.6 1021.86 785.75 1022.81C788.91 1023.76 792.95 1024.66 796.55 1025.6C800.15 1026.55 803.98 1027.71 807.35 1028.48C810.72 1029.25 813.4 1029.57 816.77 1030.22C820.14 1030.86 824.2 1031.56 827.57 1032.37C830.94 1033.18 834.27 1034.29 836.98 1035.06C839.69 1035.82 842 1036.49 843.81 1036.96C845.63 1037.44 844.84 1037.45 847.87 1037.9C850.9 1038.35 858.5 1039.29 861.99 1039.66C865.49 1040.04 863.87 1040.25 868.82 1040.13C873.78 1040 883.33 1039.15 891.72 1038.91C900.1 1038.67 912.59 1038.98 919.13 1038.68C925.67 1038.37 920.1 1037.29 930.94 1037.08C941.79 1036.88 965.16 1037.36 984.2 1037.44C1003.24 1037.53 1031.24 1037.71 1045.21 1037.57C1059.18 1037.44 1058.49 1037.23 1068.01 1036.62C1077.53 1036.01 1094.73 1034.29 1102.34 1033.91C1109.96 1033.53 1102.62 1034.08 1113.7 1034.34C1124.77 1034.6 1159.62 1035.29 1168.8 1035.48" stroke="#000" stroke-width="1.75" fill="none" stroke-dasharray="1.4 4.15"/>
<path d="M707.3 1035.39C708.67 1035.57 713.02 1035.66 715.51 1036.47C718.01 1037.28 720.01 1038.72 722.25 1040.26C724.5 1041.79 726.74 1043.86 728.99 1045.66C731.24 1047.46 733.48 1049.25 735.73 1051.05C737.97 1052.85 740.2 1054.66 742.47 1056.46C744.73 1058.26 747.04 1060.17 749.3 1061.86C751.56 1063.55 753.79 1065.12 756.03 1066.59C758.28 1068.05 760.53 1069.29 762.77 1070.64C765.02 1071.99 767.03 1073.22 769.51 1074.68C771.99 1076.15 774.93 1077.95 777.63 1079.41C780.34 1080.87 783.06 1082.11 785.75 1083.46C788.45 1084.81 791.09 1086.28 793.79 1087.51C796.48 1088.75 798.18 1089.43 801.91 1090.89C805.63 1092.35 812.52 1095.19 816.12 1096.29C819.72 1097.39 820.03 1097.31 823.51 1097.5C826.98 1097.7 833.24 1097.52 836.98 1097.46C840.72 1097.4 843.67 1097.17 845.93 1097.16C848.2 1097.15 847.87 1097.33 850.55 1097.42C853.23 1097.51 858.95 1097.68 861.99 1097.69C865.04 1097.69 863.87 1097.72 868.82 1097.45C873.78 1097.17 883.33 1096.26 891.72 1096.02C900.1 1095.78 912.59 1096.02 919.13 1096.02C925.67 1096.02 921.36 1096.59 930.94 1096.02C940.53 1095.45 960.63 1092.46 976.63 1092.59C992.63 1092.73 1015.51 1096.44 1026.93 1096.82C1038.36 1097.2 1040.26 1094.73 1045.21 1094.88C1050.16 1095.03 1050.95 1096.77 1056.66 1097.72C1062.36 1098.67 1071.84 1100.55 1079.45 1100.59C1087.07 1100.63 1087.45 1098.02 1102.34 1097.94C1117.24 1097.87 1157.72 1099.76 1168.8 1100.13" stroke="#000" stroke-width="1.75" fill="none" stroke-dasharray="1.4 4.15"/>
<path d="M707.3 1095.15C708.67 1095.44 713.02 1095.58 715.51 1096.88C718.01 1098.18 720.01 1100.59 722.25 1102.96C724.5 1105.32 726.74 1108.35 728.99 1111.05C731.24 1113.75 733.48 1116.57 735.73 1119.16C737.97 1121.75 740.2 1124.22 742.47 1126.59C744.73 1128.95 747.04 1131.31 749.3 1133.34C751.56 1135.36 753.79 1137.05 756.03 1138.73C758.28 1140.42 760.53 1142.11 762.77 1143.46C765.02 1144.81 767.11 1145.85 769.51 1146.84C771.91 1147.83 774.02 1148.23 777.17 1149.39C780.32 1150.55 785.2 1152.89 788.43 1153.8C791.66 1154.7 793.86 1154.36 796.55 1154.81C799.25 1155.26 801.22 1155.88 804.58 1156.51C807.95 1157.13 812.49 1158.13 816.77 1158.59C821.04 1159.05 825.74 1159.2 830.24 1159.27C834.75 1159.33 838.52 1159.14 843.81 1158.99C849.1 1158.85 857.06 1158.41 861.99 1158.4C866.93 1158.39 868.49 1159.43 873.44 1158.93C878.39 1158.43 884.1 1156.29 891.72 1155.41C899.33 1154.54 912.59 1154.27 919.13 1153.7C925.67 1153.13 921.36 1152.37 930.94 1151.99C940.53 1151.61 961.4 1150.85 976.63 1151.42C991.86 1151.99 1008.98 1153.82 1022.32 1155.41C1035.66 1157 1047.13 1160.01 1056.66 1160.96C1066.18 1161.91 1068.04 1160.34 1079.45 1161.13C1090.87 1161.92 1113.71 1165.91 1125.14 1165.69C1136.57 1165.48 1140.76 1161.17 1148.03 1159.83C1155.31 1158.5 1165.34 1158.05 1168.8 1157.7" stroke="#000" stroke-width="1.75" fill="none" stroke-dasharray="1.4 4.15"/>
<path d="M707.3 1154.91C708.13 1155.57 710.5 1156.09 712.28 1158.84C714.07 1161.59 715.9 1166.65 718.01 1171.41C720.11 1176.17 722.68 1182.17 724.93 1187.4C727.18 1192.62 729.21 1198.41 731.48 1202.74C733.76 1207.08 735.88 1210.11 738.59 1213.41C741.3 1216.7 744.3 1220.58 747.73 1222.53C751.16 1224.48 754.6 1225.02 759.17 1225.09C763.74 1225.16 771.34 1223.53 775.14 1222.96C778.94 1222.39 778.16 1222.54 781.97 1221.66C785.79 1220.79 792.31 1218.67 798.03 1217.71C803.75 1216.76 812.51 1216.33 816.31 1215.95C820.11 1215.57 815.89 1216.55 820.83 1215.44C825.77 1214.34 839.07 1209.61 845.93 1209.32C852.8 1209.02 858.56 1212.7 861.99 1213.67C865.43 1214.64 861.56 1213.97 866.52 1215.14C871.47 1216.3 884.85 1220.7 891.72 1220.65C898.58 1220.6 902.75 1215.87 907.68 1214.81C912.62 1213.75 917.47 1214.09 921.34 1214.28C925.22 1214.47 924.39 1216.19 930.94 1215.95C937.5 1215.71 950 1213.11 960.66 1212.84C971.32 1212.57 986.52 1214.78 994.91 1214.35C1003.29 1213.91 1006.4 1210.91 1010.97 1210.24C1015.54 1209.56 1015.86 1209.96 1022.32 1210.29C1028.78 1210.62 1042.12 1211.11 1049.73 1212.24C1057.35 1213.37 1061.15 1215.88 1068.01 1217.09C1074.87 1218.31 1080.61 1220.38 1090.9 1219.54C1101.19 1218.7 1116.77 1212.25 1129.76 1212.03C1142.74 1211.81 1162.29 1217.2 1168.8 1218.23" stroke="#000" stroke-width="1.75" fill="none" stroke-dasharray="1.4 4.15"/>
<path d="M707.3 676.83C707.99 677.06 710.08 676.98 711.45 678.23C712.82 679.47 714.16 681.72 715.51 684.3C716.87 686.89 718.22 690.61 719.58 693.76C720.93 696.91 722.28 700.06 723.64 703.21C724.99 706.36 726.36 709.73 727.7 712.66C729.04 715.59 730.33 718.06 731.67 720.76C733.01 723.46 734.14 726.27 735.73 728.86C737.31 731.45 739.14 733.85 741.17 736.29C743.2 738.73 745.44 741.63 747.91 743.5C750.39 745.36 753.33 746.72 756.03 747.48C758.74 748.25 761.91 748.22 764.16 748.09C766.4 747.96 766.37 747.1 769.51 746.69C772.65 746.27 778.94 746.04 782.99 745.61C787.03 745.17 790.19 744.74 793.79 744.1C797.38 743.46 800.98 742.73 804.58 741.77C808.18 740.81 811.78 739.27 815.38 738.35C818.98 737.43 822.58 736.77 826.18 736.24C829.78 735.72 833.37 735.21 836.98 735.21C840.6 735.21 843.7 735.89 847.87 736.23C852.04 736.57 855.84 737.54 861.99 737.23C868.15 736.93 880.18 734.87 884.79 734.41C889.41 733.95 885.87 734 889.68 734.49C893.5 734.98 900.81 737.38 907.68 737.37C914.56 737.35 921.34 735.65 930.94 734.4C940.54 733.14 955.37 730.97 965.28 729.83C975.19 728.69 982.77 727.16 990.38 727.54C998 727.92 1002.21 729.71 1010.97 732.11C1019.72 734.51 1034.15 740.9 1042.9 741.93C1051.66 742.96 1054.73 738.01 1063.49 738.28C1072.24 738.55 1085.15 743.42 1095.42 743.53C1105.7 743.65 1112.91 740.22 1125.14 738.97C1137.37 737.71 1161.52 736.49 1168.8 736" stroke="#000" stroke-width="1.75" fill="none" stroke-dasharray="7.3 3.2 1.3 3.2"/>
<path d="M707.3 736.59C708.72 736.98 712.85 737.05 715.79 738.97C718.73 740.89 721.51 744.49 724.93 748.1C728.34 751.72 732.48 756.67 736.28 760.67C740.08 764.66 743.91 768.28 747.73 772.09C751.54 775.89 755.36 780.16 759.17 783.51C762.99 786.86 767.19 790.06 770.62 792.19C774.05 794.32 775.96 795.08 779.76 796.3C783.56 797.52 787.32 798.67 793.42 799.5C799.51 800.34 808.69 800.95 816.31 801.33C823.92 801.71 831.49 801.9 839.1 801.79C846.72 801.67 853.23 801.22 861.99 800.65C870.76 800.07 882.19 799.5 891.72 798.36C901.24 797.21 912.59 794.55 919.13 793.79C925.67 793.03 926.68 794.29 930.94 793.79C935.2 793.3 935.17 790.82 944.7 790.82C954.22 790.82 975.14 793.03 988.08 793.79C1001.01 794.55 1009 794.24 1022.32 795.39C1035.64 796.53 1050.87 799.27 1068.01 800.65C1085.15 802.02 1108.34 803.62 1125.14 803.62C1141.94 803.62 1161.52 801.14 1168.8 800.65" stroke="#000" stroke-width="1.75" fill="none" stroke-dasharray="7.3 3.2 1.3 3.2"/>
<path d="M707.3 796.35C707.32 796.33 706.02 796.12 707.39 796.21C708.76 796.29 713.04 796.21 715.51 796.88C717.99 797.56 720.01 798.79 722.25 800.25C724.5 801.71 726.74 803.74 728.99 805.65C731.24 807.57 733.48 809.82 735.73 811.73C737.97 813.64 740.2 815.45 742.47 817.13C744.73 818.82 747.04 820.4 749.3 821.86C751.56 823.32 753.79 824.56 756.03 825.91C758.28 827.26 760.53 828.61 762.77 829.96C765.02 831.31 767.26 832.77 769.51 834.01C771.76 835.25 774 836.26 776.25 837.39C778.49 838.51 780.74 839.75 782.99 840.76C785.23 841.78 787.46 842.56 789.72 843.46C791.99 844.36 794.08 845.15 796.55 846.17C799.03 847.18 801.55 847.92 804.58 849.54C807.61 851.16 811.58 854.64 814.74 855.88C817.89 857.12 820.24 856.33 823.51 856.96C826.77 857.59 830.71 858.88 834.3 859.67C837.9 860.45 842.4 861.25 845.1 861.69C847.81 862.13 847.73 862.1 850.55 862.32C853.36 862.55 858.18 862.85 861.99 863.04C865.81 863.23 867.73 863.32 873.44 863.47C879.15 863.61 888.62 864.22 896.24 863.92C903.85 863.62 913.34 862.28 919.13 861.64C924.91 860.99 923.25 860.49 930.94 860.04C938.63 859.58 953.85 858.89 965.28 858.89C976.71 858.89 988.11 859.27 999.52 860.04C1010.94 860.8 1020.83 862.51 1033.77 863.47C1046.7 864.42 1060.01 865.56 1077.15 865.75C1094.28 865.94 1121.31 865.18 1136.59 864.61C1151.86 864.04 1163.43 862.7 1168.8 862.32" stroke="#000" stroke-width="1.75" fill="none" stroke-dasharray="7.3 3.2 1.3 3.2"/>
<path d="M707.3 856.11C707.32 856.13 706.02 856.08 707.39 856.2C708.76 856.33 713.04 856.2 715.51 856.88C717.99 857.56 720.01 858.79 722.25 860.26C724.5 861.72 726.74 863.85 728.99 865.65C731.24 867.45 733.48 869.25 735.73 871.06C737.97 872.86 740.2 874.77 742.47 876.46C744.73 878.15 747.04 879.72 749.3 881.18C751.56 882.65 753.79 883.99 756.03 885.23C758.28 886.47 760.53 887.48 762.77 888.61C765.02 889.73 767.03 890.86 769.51 891.98C771.99 893.11 774.93 894.23 777.63 895.36C780.34 896.49 782.6 897.5 785.75 898.74C788.91 899.97 792.95 901.44 796.55 902.79C800.15 904.14 803.75 905.49 807.35 906.84C810.95 908.19 814.55 909.76 818.15 910.89C821.75 912.01 825.81 912.91 828.95 913.59C832.09 914.26 833.72 914.56 836.98 914.94C840.24 915.32 844.35 915.43 848.52 915.88C852.69 916.33 857.84 917.24 861.99 917.64C866.15 918.04 867.73 917.88 873.44 918.29C879.15 918.7 888.62 919.74 896.24 920.12C903.85 920.5 913.34 920.69 919.13 920.57C924.91 920.46 923.25 919.81 930.94 919.43C938.63 919.05 955.76 918.1 965.28 918.29C974.8 918.48 978.57 919.62 988.08 920.57C997.58 921.53 1009 923.24 1022.32 924C1035.64 924.77 1048.96 925.33 1068.01 925.14C1087.05 924.95 1119.79 924.08 1136.59 922.86C1153.39 921.64 1163.43 918.67 1168.8 917.84" stroke="#000" stroke-width="1.75" fill="none" stroke-dasharray="7.3 3.2 1.3 3.2"/>
<path d="M707.3 915.87C708.67 916.04 713.02 916.37 715.51 916.88C718.01 917.39 720.01 917.89 722.25 918.91C724.5 919.92 726.74 921.71 728.99 922.95C731.24 924.19 733.48 925.2 735.73 926.33C737.97 927.45 740.2 928.58 742.47 929.7C744.73 930.83 747.04 932.05 749.3 933.07C751.56 934.08 753.79 934.65 756.03 935.78C758.28 936.91 760.53 938.71 762.77 939.83C765.02 940.96 767.26 941.52 769.51 942.53C771.76 943.55 774 944.9 776.25 945.91C778.49 946.92 780.74 947.72 782.99 948.61C785.23 949.5 787.46 950.46 789.72 951.25C791.99 952.04 793.17 952.09 796.55 953.33C799.94 954.58 805.54 957.39 810.03 958.74C814.52 960.09 819.01 960.65 823.51 961.44C828 962.22 832.47 962.79 836.98 963.46C841.49 964.14 846.49 964.93 850.55 965.49C854.61 966.05 858.69 966.61 861.35 966.84C864.01 967.07 861.46 966.1 866.52 966.88C871.58 967.66 883.72 970.18 891.72 971.52C899.71 972.86 907.98 973.8 914.51 974.94C921.05 976.09 918.68 977.85 930.94 978.37C943.2 978.9 976.65 978.09 988.08 978.09C999.51 978.09 990 978.44 999.52 978.37C1009.04 978.31 1035.69 977.76 1045.21 977.69C1054.73 977.61 1049.04 978.4 1056.66 977.94C1064.27 977.48 1081.39 975.51 1090.9 974.94C1100.41 974.37 1100.71 974.97 1113.7 974.51C1126.68 974.06 1159.62 972.59 1168.8 972.21" stroke="#000" stroke-width="1.75" fill="none" stroke-dasharray="7.3 3.2 1.3 3.2"/>
<path d="M707.3 975.63C708.67 975.71 713.02 975.56 715.51 976.1C718.01 976.65 720.01 977.76 722.25 978.91C724.5 980.05 726.74 981.49 728.99 982.96C731.24 984.42 733.48 986.21 735.73 987.68C737.97 989.14 740.2 990.39 742.47 991.74C744.73 993.09 747.04 994.49 749.3 995.78C751.56 997.07 753.79 998.26 756.03 999.5C758.28 1000.74 760.53 1001.85 762.77 1003.21C765.02 1004.57 767.26 1006.31 769.51 1007.66C771.76 1009.01 773.54 1009.85 776.25 1011.31C778.96 1012.76 783.51 1015.26 785.75 1016.38C788 1017.51 787.92 1017.3 789.72 1018.06C791.52 1018.82 794.29 1020.05 796.55 1020.95C798.82 1021.85 801.49 1022.79 803.29 1023.46C805.09 1024.13 805.11 1024.29 807.35 1024.97C809.6 1025.64 813.4 1026.55 816.77 1027.51C820.14 1028.48 824.2 1029.84 827.57 1030.75C830.94 1031.66 833.6 1032.28 836.98 1032.95C840.37 1033.62 843.7 1034.33 847.87 1034.77C852.04 1035.21 858.5 1035.11 861.99 1035.61C865.49 1036.11 863.87 1037.03 868.82 1037.77C873.78 1038.51 883.33 1039.1 891.72 1040.05C900.1 1041.01 912.59 1042.92 919.13 1043.49C925.67 1044.06 920.1 1043.67 930.94 1043.48C941.79 1043.28 965.16 1042.91 984.2 1042.33C1003.24 1041.76 1029.72 1040.81 1045.21 1040.05C1060.7 1039.29 1067.62 1038.98 1077.15 1037.77C1086.67 1036.56 1094.34 1033.91 1102.34 1032.77C1110.34 1031.63 1114.07 1031.6 1125.14 1030.91C1136.22 1030.23 1161.52 1029.01 1168.8 1028.63" stroke="#000" stroke-width="1.75" fill="none" stroke-dasharray="7.3 3.2 1.3 3.2"/>
<path d="M707.3 1035.39C707.32 1035.41 706.02 1035.35 707.39 1035.53C708.76 1035.71 713.04 1035.68 715.51 1036.47C717.99 1037.26 720.01 1038.72 722.25 1040.26C724.5 1041.79 726.74 1043.86 728.99 1045.66C731.24 1047.46 733.48 1049.25 735.73 1051.05C737.97 1052.85 740.2 1054.66 742.47 1056.46C744.73 1058.26 747.04 1060.17 749.3 1061.86C751.56 1063.55 753.79 1065.12 756.03 1066.59C758.28 1068.05 760.53 1069.29 762.77 1070.64C765.02 1071.99 767.03 1073.22 769.51 1074.68C771.99 1076.15 774.93 1077.95 777.63 1079.41C780.34 1080.87 783.06 1082.11 785.75 1083.46C788.45 1084.81 791.09 1086.28 793.79 1087.51C796.48 1088.75 798.18 1089.43 801.91 1090.89C805.63 1092.35 812.52 1095.1 816.12 1096.29C819.72 1097.48 820.03 1097.53 823.51 1098.04C826.98 1098.56 832.47 1099.01 836.98 1099.39C841.49 1099.78 846.38 1100.11 850.55 1100.34C854.72 1100.56 858.95 1100.7 861.99 1100.74C865.04 1100.79 863.87 1100.81 868.82 1100.59C873.78 1100.37 883.33 1099.9 891.72 1099.45C900.1 1098.99 912.59 1098.23 919.13 1097.85C925.67 1097.46 921.36 1097.84 930.94 1097.16C940.53 1096.47 960.63 1093.35 976.63 1093.73C992.63 1094.12 1013.6 1098.88 1026.93 1099.45C1040.27 1100.02 1044.09 1099.06 1056.66 1097.16C1069.22 1095.25 1083.65 1090.12 1102.34 1088.02C1121.03 1085.93 1157.72 1085.17 1168.8 1084.6" stroke="#000" stroke-width="1.75" fill="none" stroke-dasharray="7.3 3.2 1.3 3.2"/>
<path d="M707.3 1095.15C707.32 1095.15 706.02 1094.83 707.39 1095.12C708.76 1095.41 713.04 1095.57 715.51 1096.88C717.99 1098.18 720.01 1100.59 722.25 1102.96C724.5 1105.32 726.74 1108.35 728.99 1111.05C731.24 1113.75 733.48 1116.57 735.73 1119.16C737.97 1121.75 740.2 1124.22 742.47 1126.59C744.73 1128.95 747.04 1131.31 749.3 1133.34C751.56 1135.36 753.79 1137.05 756.03 1138.73C758.28 1140.42 760.53 1142.11 762.77 1143.46C765.02 1144.81 767.03 1145.82 769.51 1146.84C771.99 1147.85 774.48 1148.3 777.63 1149.54C780.79 1150.78 785.28 1153.25 788.43 1154.27C791.59 1155.28 793.86 1155.05 796.55 1155.62C799.25 1156.18 801.22 1156.86 804.58 1157.64C807.95 1158.43 812.49 1159.66 816.77 1160.34C821.04 1161.01 825.74 1161.4 830.24 1161.69C834.75 1161.98 838.52 1162.09 843.81 1162.09C849.1 1162.09 857.06 1161.66 861.99 1161.69C866.93 1161.72 868.49 1162.74 873.44 1162.27C878.39 1161.79 884.1 1160.36 891.72 1158.84C899.33 1157.31 912.59 1154.65 919.13 1153.13C925.67 1151.61 921.36 1149.89 930.94 1149.7C940.53 1149.51 961.4 1150.47 976.63 1151.99C991.86 1153.51 1008.98 1157.96 1022.32 1158.84C1035.66 1159.71 1047.13 1158.27 1056.66 1157.24C1066.18 1156.21 1064.22 1154.8 1079.45 1152.67C1094.68 1150.54 1133.14 1145.7 1148.03 1144.45C1162.92 1143.19 1165.34 1145.02 1168.8 1145.13" stroke="#000" stroke-width="1.75" fill="none" stroke-dasharray="7.3 3.2 1.3 3.2"/>
<path d="M707.3 1154.91C708.13 1155.57 710.5 1156.09 712.28 1158.84C714.07 1161.59 715.9 1166.51 718.01 1171.41C720.11 1176.3 722.64 1182.55 724.93 1188.2C727.22 1193.86 729.48 1200.76 731.76 1205.32C734.04 1209.89 735.93 1212.29 738.59 1215.59C741.25 1218.88 744.3 1223.77 747.73 1225.09C751.16 1226.41 754.6 1224.06 759.17 1223.49C763.74 1222.92 771.34 1222.18 775.14 1221.68C778.94 1221.19 778.16 1221.44 781.97 1220.52C785.79 1219.6 791.55 1217.4 798.03 1216.16C804.51 1214.93 812.85 1213.56 820.83 1213.14C828.81 1212.72 838.32 1213.21 845.93 1213.67C853.55 1214.13 860.04 1215.53 866.52 1215.91C872.99 1216.29 880.59 1215.42 884.79 1215.95C888.99 1216.49 887.9 1218.93 891.72 1219.12C895.53 1219.31 902.75 1217.41 907.68 1217.09C912.62 1216.78 917.47 1216.85 921.34 1217.23C925.22 1217.62 924.39 1219.94 930.94 1219.38C937.5 1218.81 954.94 1214.79 960.66 1213.84C966.39 1212.89 959.57 1213.66 965.28 1213.67C970.99 1213.67 989.2 1214.07 994.91 1213.88C1000.61 1213.69 994.95 1212.53 999.52 1212.53C1004.09 1212.52 1016.61 1213.39 1022.32 1213.84C1028.03 1214.3 1029.2 1214.71 1033.77 1215.26C1038.33 1215.82 1045.92 1216.51 1049.73 1217.19C1053.55 1217.88 1049.79 1219.96 1056.66 1219.38C1063.52 1218.79 1078.72 1216.05 1090.9 1213.67C1103.08 1211.29 1116.77 1205.67 1129.76 1205.1C1142.74 1204.53 1162.29 1209.38 1168.8 1210.24" stroke="#000" stroke-width="1.75" fill="none" stroke-dasharray="7.3 3.2 1.3 3.2"/>
<path d="M707.3 676.83C707.99 677.06 710.08 676.98 711.45 678.23C712.82 679.47 714.16 681.72 715.51 684.3C716.87 686.89 718.22 690.61 719.58 693.76C720.93 696.91 722.28 700.06 723.64 703.21C724.99 706.36 726.36 709.73 727.7 712.66C729.04 715.59 730.33 718.06 731.67 720.76C733.01 723.46 734.14 726.27 735.73 728.86C737.31 731.45 739.14 733.86 741.17 736.29C743.2 738.72 745.44 741.6 747.91 743.44C750.39 745.28 753.33 746.6 756.03 747.34C758.74 748.08 761.91 748.03 764.16 747.87C766.4 747.72 766.37 746.84 769.51 746.42C772.65 746 778.94 745.77 782.99 745.34C787.03 744.91 790.19 744.47 793.79 743.83C797.38 743.19 800.98 742.46 804.58 741.5C808.18 740.55 811.78 739 815.38 738.08C818.98 737.16 822.58 736.5 826.18 735.97C829.78 735.45 833.37 734.94 836.98 734.94C840.6 734.94 843.7 735.62 847.87 735.96C852.04 736.3 855.84 737.09 861.99 736.97C868.15 736.84 877.18 735.27 884.79 735.22C892.41 735.18 899.99 736.25 907.68 736.68C915.37 737.11 921.34 738.12 930.94 737.82C940.54 737.52 957.66 735.46 965.28 734.89C972.89 734.32 972.45 735.06 976.63 734.4C980.82 733.73 984.66 731.28 990.38 730.9C996.11 730.52 1002.21 731.2 1010.97 732.11C1019.72 733.02 1034.15 735.76 1042.9 736.35C1051.66 736.94 1057.39 734.86 1063.49 735.67C1069.58 736.49 1074.13 740.58 1079.45 741.25C1084.78 741.92 1089.71 741.22 1095.42 739.7C1101.13 738.18 1108.74 733.43 1113.7 732.11C1118.65 730.8 1115.96 731.43 1125.14 731.81C1134.33 732.19 1161.52 733.96 1168.8 734.4" stroke="#000" stroke-width="1.75" fill="none" stroke-dasharray="7.5 8.6"/>
<path d="M707.3 736.59C708.72 736.98 713.67 737.86 715.79 738.97C717.91 740.07 718.51 741.62 720.04 743.21C721.56 744.8 722.22 745.38 724.93 748.51C727.64 751.64 732.48 757.7 736.28 762.01C740.08 766.32 743.91 770.47 747.73 774.38C751.54 778.28 755.36 782.22 759.17 785.46C762.99 788.69 767.19 791.67 770.62 793.79C774.05 795.91 775.96 796.84 779.76 798.18C783.56 799.51 787.32 800.61 793.42 801.79C799.51 802.96 808.69 804.26 816.31 805.21C823.92 806.16 831.49 807.25 839.1 807.49C846.72 807.74 854.38 807.04 861.99 806.66C869.61 806.28 879.84 805.47 884.79 805.21C889.75 804.95 885.99 805.6 891.72 805.1C897.44 804.6 912.59 802.57 919.13 802.21C925.67 801.85 926.68 803.09 930.94 802.93C935.2 802.76 937.08 800.65 944.7 801.23C952.31 801.8 969.4 805.8 976.63 806.35C983.86 806.91 980.46 805.88 988.08 804.57C995.69 803.25 1014.71 799.69 1022.32 798.47C1029.93 797.24 1026.15 798 1033.77 797.22C1041.38 796.44 1052.78 794.08 1068.01 793.79C1083.24 793.5 1108.34 795.85 1125.14 795.47C1141.94 795.09 1161.52 792.17 1168.8 791.51" stroke="#000" stroke-width="1.75" fill="none" stroke-dasharray="7.5 8.6"/>
<path d="M707.3 796.35C708.67 796.48 713.02 796.41 715.51 797.14C718.01 797.86 720.01 799.18 722.25 800.72C724.5 802.25 726.74 804.32 728.99 806.33C731.24 808.33 733.48 810.7 735.73 812.75C737.97 814.79 740.2 816.75 742.47 818.61C744.73 820.46 747.5 822.55 749.3 823.88C751.1 825.21 751.02 824.66 753.27 826.58C755.51 828.51 760.06 833.14 762.77 835.42C765.48 837.7 767.26 838.82 769.51 840.25C771.76 841.69 774 842.69 776.25 844.04C778.49 845.39 780.74 847.01 782.99 848.36C785.23 849.71 787.46 851.09 789.72 852.14C791.99 853.2 794.08 853.64 796.55 854.68C799.03 855.72 801.55 856.7 804.58 858.35C807.61 860.01 812.03 863.49 814.74 864.61C817.44 865.72 817.57 864.51 820.83 865.07C824.09 865.63 830.26 867.3 834.3 867.97C838.35 868.64 842.4 868.89 845.1 869.08C847.81 869.27 847.73 869.11 850.55 869.12C853.36 869.13 858.18 869.1 861.99 869.12C865.81 869.14 868.49 869.25 873.44 869.26C878.39 869.27 887.92 869.08 891.72 869.18C895.52 869.27 891.67 869.63 896.24 869.84C900.81 870.05 913.34 870.36 919.13 870.44C924.91 870.52 923.25 870.58 930.94 870.32C938.63 870.06 957.66 869.08 965.28 868.89C972.89 868.7 970.92 869.45 976.63 869.18C982.34 868.91 991.91 867.65 999.52 867.27C1007.14 866.89 1016.61 867.48 1022.32 866.89C1028.03 866.3 1029.95 864.88 1033.77 863.74C1037.58 862.59 1037.98 860.8 1045.21 860.04C1052.44 859.27 1069.53 859.51 1077.15 859.13C1084.76 858.75 1080.99 857.93 1090.9 857.75C1100.81 857.57 1123.6 858.25 1136.59 858.06C1149.57 857.87 1163.43 856.85 1168.8 856.61" stroke="#000" stroke-width="1.75" fill="none" stroke-dasharray="7.5 8.6"/>
<path d="M707.3 856.11C708.55 856.23 712.28 856.2 714.78 856.82C717.27 857.44 719.88 858.49 722.25 859.82C724.62 861.15 726.74 863.15 728.99 864.82C731.24 866.49 733.48 868.16 735.73 869.83C737.97 871.5 740.2 873.1 742.47 874.84C744.73 876.57 747.04 878.56 749.3 880.25C751.56 881.93 753.79 883.49 756.03 884.96C758.28 886.44 760.53 887.72 762.77 889.1C765.02 890.48 767.03 891.83 769.51 893.23C771.99 894.64 775.39 896.34 777.63 897.53C779.88 898.71 779.83 899.04 782.99 900.36C786.14 901.68 792.49 904.01 796.55 905.45C800.62 906.89 804.43 908.07 807.35 909.02C810.28 909.97 812.29 910.55 814.09 911.16C815.89 911.77 815.68 911.98 818.15 912.69C820.63 913.39 825.81 914.68 828.95 915.39C832.09 916.11 833.72 916.49 836.98 916.98C840.24 917.46 844.35 917.64 848.52 918.31C852.69 918.99 857.84 920.4 861.99 921.02C866.15 921.63 867.73 921.43 873.44 922.02C879.15 922.61 890.53 924.04 896.24 924.56C901.95 925.08 903.87 924.93 907.68 925.14C911.5 925.35 915.25 925.82 919.13 925.82C923.01 925.82 923.25 925.68 930.94 925.14C938.63 924.61 955.76 922.82 965.28 922.63C974.8 922.44 982.37 923.66 988.08 924C993.78 924.34 993.81 924.3 999.52 924.69C1005.23 925.08 1010.91 926.1 1022.32 926.37C1033.73 926.63 1048.96 926.76 1068.01 926.29C1087.05 925.81 1119.79 924.87 1136.59 923.54C1153.39 922.2 1163.43 919.16 1168.8 918.29" stroke="#000" stroke-width="1.75" fill="none" stroke-dasharray="7.5 8.6"/>
<path d="M707.3 915.87C708.67 916.04 713.02 916.37 715.51 916.88C718.01 917.39 720.01 917.89 722.25 918.91C724.5 919.92 726.74 921.71 728.99 922.95C731.24 924.19 733.48 925.2 735.73 926.33C737.97 927.45 740.2 928.58 742.47 929.7C744.73 930.83 747.04 932.05 749.3 933.07C751.56 934.08 753.79 934.65 756.03 935.78C758.28 936.91 760.53 938.71 762.77 939.83C765.02 940.96 767.26 941.52 769.51 942.53C771.76 943.55 774 944.9 776.25 945.91C778.49 946.92 780.74 947.72 782.99 948.61C785.23 949.5 787.46 950.46 789.72 951.25C791.99 952.04 793.17 952.09 796.55 953.33C799.94 954.58 805.54 957.39 810.03 958.74C814.52 960.09 819.01 960.65 823.51 961.44C828 962.22 832.47 962.79 836.98 963.46C841.49 964.14 846.49 964.93 850.55 965.49C854.61 966.05 858.69 966.61 861.35 966.84C864.01 967.07 861.46 966.1 866.52 966.88C871.58 967.66 883.72 970.18 891.72 971.52C899.71 972.86 907.98 973.8 914.51 974.94C921.05 976.09 918.68 977.85 930.94 978.37C943.2 978.9 976.65 978.09 988.08 978.09C999.51 978.09 990 978.44 999.52 978.37C1009.04 978.31 1035.69 977.76 1045.21 977.69C1054.73 977.61 1049.04 978.4 1056.66 977.94C1064.27 977.48 1081.39 975.51 1090.9 974.94C1100.41 974.37 1100.71 974.97 1113.7 974.51C1126.68 974.06 1159.62 972.59 1168.8 972.21" stroke="#000" stroke-width="1.75" fill="none" stroke-dasharray="7.5 8.6"/>
<path d="M707.3 975.63C708.67 975.73 713.02 975.66 715.51 976.25C718.01 976.84 720.01 978.01 722.25 979.17C724.5 980.34 726.74 981.77 728.99 983.23C731.24 984.69 733.48 986.49 735.73 987.95C737.97 989.42 740.2 990.66 742.47 992.01C744.73 993.36 747.04 994.76 749.3 996.05C751.56 997.34 753.79 998.53 756.03 999.77C758.28 1001.01 760.53 1002.12 762.77 1003.48C765.02 1004.84 767.26 1006.58 769.51 1007.93C771.76 1009.28 773.54 1010.13 776.25 1011.58C778.96 1013.04 783.51 1015.53 785.75 1016.65C788 1017.78 787.92 1017.57 789.72 1018.33C791.52 1019.09 794.29 1020.32 796.55 1021.22C798.82 1022.12 801.49 1023.06 803.29 1023.73C805.09 1024.4 805.11 1024.56 807.35 1025.24C809.6 1025.91 813.4 1026.82 816.77 1027.78C820.14 1028.75 824.2 1030.11 827.57 1031.02C830.94 1031.93 833.6 1032.55 836.98 1033.22C840.37 1033.89 843.7 1034.6 847.87 1035.04C852.04 1035.49 858.5 1035.39 861.99 1035.89C865.49 1036.38 863.87 1037.26 868.82 1038C873.78 1038.73 883.33 1039.35 891.72 1040.28C900.1 1041.21 912.59 1043.02 919.13 1043.56C925.67 1044.09 920.1 1043.68 930.94 1043.48C941.79 1043.27 965.16 1042.91 984.2 1042.33C1003.24 1041.76 1029.72 1040.81 1045.21 1040.05C1060.7 1039.29 1067.62 1038.98 1077.15 1037.77C1086.67 1036.56 1094.34 1033.91 1102.34 1032.77C1110.34 1031.63 1114.07 1031.6 1125.14 1030.91C1136.22 1030.23 1161.52 1029.01 1168.8 1028.63" stroke="#000" stroke-width="1.75" fill="none" stroke-dasharray="7.5 8.6"/>
<path d="M707.3 1035.39C708.67 1035.57 713.02 1035.66 715.51 1036.47C718.01 1037.28 720.01 1038.72 722.25 1040.26C724.5 1041.79 726.74 1043.86 728.99 1045.66C731.24 1047.46 733.48 1049.25 735.73 1051.05C737.97 1052.85 740.2 1054.56 742.47 1056.46C744.73 1058.35 747.04 1060.54 749.3 1062.41C751.56 1064.29 753.79 1066.07 756.03 1067.73C758.28 1069.39 760.53 1070.82 762.77 1072.37C765.02 1073.91 767.03 1075.37 769.51 1077C771.99 1078.63 774.93 1080.55 777.63 1082.14C780.34 1083.73 783.06 1085.09 785.75 1086.56C788.45 1088.03 791.45 1089.77 793.79 1090.97C796.12 1092.17 796.06 1092.35 799.78 1093.73C803.51 1095.12 812.23 1098.11 816.12 1099.25C820.01 1100.4 819.66 1100.1 823.14 1100.59C826.61 1101.07 833.18 1101.78 836.98 1102.16C840.78 1102.54 843.67 1102.71 845.93 1102.87C848.2 1103.03 847.87 1103.05 850.55 1103.14C853.23 1103.22 858.95 1103.4 861.99 1103.4C865.04 1103.4 863.87 1103.44 868.82 1103.16C873.78 1102.88 883.33 1102.42 891.72 1101.73C900.1 1101.04 912.59 1099.66 919.13 1099.01C925.67 1098.37 921.36 1098.16 930.94 1097.85C940.53 1097.54 960.63 1096.65 976.63 1097.16C992.63 1097.67 1015.51 1100.62 1026.93 1100.89C1038.36 1101.16 1040.26 1099.15 1045.21 1098.76C1050.16 1098.37 1049.04 1099.39 1056.66 1098.56C1064.27 1097.72 1083.28 1094.88 1090.9 1093.73C1098.51 1092.59 1089.36 1092.37 1102.34 1091.68C1115.33 1091 1157.72 1089.97 1168.8 1089.62" stroke="#000" stroke-width="1.75" fill="none" stroke-dasharray="7.5 8.6"/>
<path d="M707.3 1095.15C708.67 1095.47 713.02 1095.69 715.51 1097.04C718.01 1098.39 720.01 1100.85 722.25 1103.26C724.5 1105.66 727.19 1109.29 728.99 1111.49C730.79 1113.69 730.81 1113.6 733.05 1116.46C735.3 1119.31 739.76 1125.23 742.47 1128.61C745.17 1132 747.5 1134.74 749.3 1136.77C751.1 1138.79 751.7 1139.19 753.27 1140.76C754.83 1142.33 757.13 1144.75 758.71 1146.16C760.3 1147.57 760.97 1148.08 762.77 1149.21C764.57 1150.34 767.48 1151.85 769.51 1152.92C771.54 1153.98 771.8 1154.27 774.96 1155.62C778.11 1156.97 784.83 1159.63 788.43 1161.01C792.03 1162.39 793.86 1162.99 796.55 1163.89C799.25 1164.79 801.22 1165.77 804.58 1166.42C807.95 1167.06 813.68 1167.5 816.77 1167.77C819.86 1168.03 820.89 1167.9 823.14 1167.98C825.38 1168.06 827.94 1168.24 830.24 1168.25C832.55 1168.26 834.72 1168.06 836.98 1168.03C839.24 1168.01 841.55 1168.12 843.81 1168.08C846.07 1168.03 847.52 1167.78 850.55 1167.77C853.58 1167.75 858.18 1167.89 861.99 1167.98C865.81 1168.08 868.49 1168.91 873.44 1168.34C878.39 1167.77 884.1 1165.73 891.72 1164.55C899.33 1163.37 912.59 1162.19 919.13 1161.24C925.67 1160.28 921.36 1159.67 930.94 1158.84C940.53 1158 967.76 1156.61 976.63 1156.23C985.51 1155.85 976.59 1156.15 984.2 1156.55C991.81 1156.96 1012.15 1158.84 1022.32 1158.65C1032.49 1158.46 1039.49 1155.72 1045.21 1155.41C1050.93 1155.11 1050.95 1156.7 1056.66 1156.8C1062.36 1156.91 1069.95 1155.91 1079.45 1156.06C1088.96 1156.21 1102.27 1157.75 1113.7 1157.7C1125.13 1157.64 1138.85 1155.72 1148.03 1155.72C1157.22 1155.72 1165.34 1157.37 1168.8 1157.7" stroke="#000" stroke-width="1.75" fill="none" stroke-dasharray="7.5 8.6"/>
<path d="M707.3 1154.91C708.13 1155.57 710.5 1156.09 712.28 1158.84C714.07 1161.59 715.9 1166.53 718.01 1171.41C720.11 1176.28 722.64 1182.48 724.93 1188.08C727.22 1193.69 729.48 1200.52 731.76 1205.03C734.04 1209.54 735.93 1211.9 738.59 1215.13C741.25 1218.35 744.3 1223.08 747.73 1224.4C751.16 1225.72 754.6 1223.56 759.17 1223.03C763.74 1222.5 771.34 1221.72 775.14 1221.22C778.94 1220.73 778.16 1220.91 781.97 1220.06C785.79 1219.21 791.55 1217.2 798.03 1216.12C804.51 1215.03 812.85 1213.96 820.83 1213.55C828.81 1213.14 838.32 1213.21 845.93 1213.67C853.55 1214.12 860.04 1215.78 866.52 1216.27C872.99 1216.77 880.59 1216.06 884.79 1216.64C888.99 1217.22 887.9 1219.58 891.72 1219.74C895.53 1219.89 902.75 1217.94 907.68 1217.55C912.62 1217.17 917.47 1217.12 921.34 1217.42C925.22 1217.73 924.39 1219.97 930.94 1219.38C937.5 1218.78 954.94 1214.79 960.66 1213.84C966.39 1212.89 959.57 1213.66 965.28 1213.67C970.99 1213.67 989.2 1214.07 994.91 1213.88C1000.61 1213.69 994.95 1212.53 999.52 1212.53C1004.09 1212.52 1016.61 1213.39 1022.32 1213.84C1028.03 1214.3 1029.2 1214.71 1033.77 1215.26C1038.33 1215.82 1045.92 1216.51 1049.73 1217.19C1053.55 1217.88 1049.79 1219.96 1056.66 1219.38C1063.52 1218.79 1078.72 1216.05 1090.9 1213.67C1103.08 1211.29 1116.77 1205.67 1129.76 1205.1C1142.74 1204.53 1162.29 1209.38 1168.8 1210.24" stroke="#000" stroke-width="1.75" fill="none" stroke-dasharray="7.5 8.6"/>
<path d="M707.3 676.83C707.32 676.77 706.7 676.24 707.39 676.48C708.08 676.71 710.1 676.92 711.45 678.23C712.81 679.53 714.16 681.72 715.51 684.3C716.87 686.89 718.22 690.61 719.58 693.76C720.93 696.91 722.28 700.06 723.64 703.21C724.99 706.36 726.36 709.73 727.7 712.66C729.04 715.59 730.33 718.06 731.67 720.76C733.01 723.46 734.14 726.27 735.73 728.86C737.31 731.45 739.14 733.93 741.17 736.29C743.2 738.65 745.44 741.35 747.91 743.04C750.39 744.73 753.33 745.86 756.03 746.42C758.74 746.98 761.46 746.87 764.16 746.42C766.85 745.97 769.05 744.62 772.19 743.72C775.33 742.82 779.39 741.65 782.99 741.02C786.59 740.39 790.19 740.12 793.79 739.94C797.38 739.75 800.98 739.75 804.58 739.94C808.18 740.12 811.78 740.72 815.38 741.02C818.98 741.31 822.58 741.92 826.18 741.69C829.78 741.47 833.37 740.5 836.98 739.67C840.6 738.83 843.7 737.76 847.87 736.7C852.04 735.63 855.84 733.75 861.99 733.25C868.15 732.76 877.18 733.02 884.79 733.71C892.41 734.39 899.99 737.25 907.68 737.37C915.37 737.48 921.34 735.65 930.94 734.4C940.54 733.14 955.37 730.97 965.28 729.83C975.19 728.69 982.77 727.16 990.38 727.54C998 727.92 1002.21 729.71 1010.97 732.11C1019.72 734.51 1034.15 740.9 1042.9 741.93C1051.66 742.96 1054.73 738.01 1063.49 738.28C1072.24 738.55 1085.15 743.42 1095.42 743.53C1105.7 743.65 1112.91 740.22 1125.14 738.97C1137.37 737.71 1161.52 736.49 1168.8 736" stroke="#000" stroke-width="1.75" fill="none" stroke-linejoin="round"/>
<path d="M707.3 736.59C708.72 736.98 712.85 737.05 715.79 738.97C718.73 740.89 721.51 744.49 724.93 748.1C728.34 751.72 732.48 756.67 736.28 760.67C740.08 764.66 743.91 768.28 747.73 772.09C751.54 775.89 755.36 780.16 759.17 783.51C762.99 786.86 767.19 790.06 770.62 792.19C774.05 794.32 775.96 795.08 779.76 796.3C783.56 797.52 787.32 798.67 793.42 799.5C799.51 800.34 808.69 800.95 816.31 801.33C823.92 801.71 831.49 801.9 839.1 801.79C846.72 801.67 853.23 801.22 861.99 800.65C870.76 800.07 882.19 799.5 891.72 798.36C901.24 797.21 912.59 794.55 919.13 793.79C925.67 793.03 926.68 794.29 930.94 793.79C935.2 793.3 935.17 790.82 944.7 790.82C954.22 790.82 975.14 793.03 988.08 793.79C1001.01 794.55 1009 794.24 1022.32 795.39C1035.64 796.53 1050.87 799.27 1068.01 800.65C1085.15 802.02 1108.34 803.62 1125.14 803.62C1141.94 803.62 1161.52 801.14 1168.8 800.65" stroke="#000" stroke-width="1.75" fill="none" stroke-linejoin="round"/>
<path d="M707.3 796.35C707.32 796.33 706.02 796.12 707.39 796.21C708.76 796.29 713.04 796.21 715.51 796.88C717.99 797.56 720.01 798.79 722.25 800.25C724.5 801.71 726.74 803.74 728.99 805.65C731.24 807.57 733.48 809.82 735.73 811.73C737.97 813.64 740.2 815.45 742.47 817.13C744.73 818.82 747.04 820.4 749.3 821.86C751.56 823.32 753.79 824.56 756.03 825.91C758.28 827.26 760.53 828.61 762.77 829.96C765.02 831.31 767.26 832.77 769.51 834.01C771.76 835.25 774 836.26 776.25 837.39C778.49 838.51 780.74 839.75 782.99 840.76C785.23 841.78 787.46 842.56 789.72 843.46C791.99 844.36 794.08 845.15 796.55 846.17C799.03 847.18 801.55 847.92 804.58 849.54C807.61 851.16 811.58 854.64 814.74 855.88C817.89 857.12 820.24 856.33 823.51 856.96C826.77 857.59 830.71 858.88 834.3 859.67C837.9 860.45 842.4 861.25 845.1 861.69C847.81 862.13 847.73 862.1 850.55 862.32C853.36 862.55 858.18 862.85 861.99 863.04C865.81 863.23 867.73 863.32 873.44 863.47C879.15 863.61 888.62 864.22 896.24 863.92C903.85 863.62 913.34 862.28 919.13 861.64C924.91 860.99 923.25 860.49 930.94 860.04C938.63 859.58 953.85 858.89 965.28 858.89C976.71 858.89 988.11 859.27 999.52 860.04C1010.94 860.8 1020.83 862.51 1033.77 863.47C1046.7 864.42 1060.01 865.56 1077.15 865.75C1094.28 865.94 1121.31 865.18 1136.59 864.61C1151.86 864.04 1163.43 862.7 1168.8 862.32" stroke="#000" stroke-width="1.75" fill="none" stroke-linejoin="round"/>
<path d="M707.3 856.11C707.32 856.13 706.02 856.08 707.39 856.2C708.76 856.33 713.04 856.2 715.51 856.88C717.99 857.56 720.01 858.79 722.25 860.26C724.5 861.72 726.74 863.85 728.99 865.65C731.24 867.45 733.48 869.25 735.73 871.06C737.97 872.86 740.2 874.77 742.47 876.46C744.73 878.15 747.04 879.72 749.3 881.18C751.56 882.65 753.79 883.99 756.03 885.23C758.28 886.47 760.53 887.48 762.77 888.61C765.02 889.73 767.03 890.86 769.51 891.98C771.99 893.11 774.93 894.23 777.63 895.36C780.34 896.49 782.6 897.5 785.75 898.74C788.91 899.97 792.95 901.44 796.55 902.79C800.15 904.14 803.75 905.49 807.35 906.84C810.95 908.19 814.55 909.76 818.15 910.89C821.75 912.01 825.81 912.91 828.95 913.59C832.09 914.26 833.72 914.56 836.98 914.94C840.24 915.32 844.35 915.43 848.52 915.88C852.69 916.33 857.84 917.24 861.99 917.64C866.15 918.04 867.73 917.88 873.44 918.29C879.15 918.7 888.62 919.74 896.24 920.12C903.85 920.5 913.34 920.69 919.13 920.57C924.91 920.46 923.25 919.81 930.94 919.43C938.63 919.05 955.76 918.1 965.28 918.29C974.8 918.48 978.57 919.62 988.08 920.57C997.58 921.53 1009 923.24 1022.32 924C1035.64 924.77 1048.96 925.33 1068.01 925.14C1087.05 924.95 1119.79 924.08 1136.59 922.86C1153.39 921.64 1163.43 918.67 1168.8 917.84" stroke="#000" stroke-width="1.75" fill="none" stroke-linejoin="round"/>
<path d="M707.3 915.87C707.32 915.86 706.02 915.63 707.39 915.8C708.76 915.97 713.04 916.14 715.51 916.88C717.99 917.62 720.01 918.79 722.25 920.26C724.5 921.72 726.74 923.63 728.99 925.65C731.24 927.68 733.48 930.15 735.73 932.41C737.97 934.66 740.2 937.02 742.47 939.16C744.73 941.3 747.04 943.32 749.3 945.24C751.56 947.15 753.79 948.95 756.03 950.63C758.28 952.32 760.53 954.01 762.77 955.36C765.02 956.71 767.26 957.72 769.51 958.74C771.76 959.75 774 960.65 776.25 961.44C778.49 962.22 780.74 962.79 782.99 963.46C785.23 964.14 787.02 964.81 789.72 965.49C792.43 966.16 795.85 966.84 799.23 967.51C802.62 968.19 805.98 968.75 810.03 969.54C814.08 970.33 819.01 971.45 823.51 972.24C828 973.02 832.47 973.7 836.98 974.26C841.49 974.82 846.49 975.27 850.55 975.61C854.61 975.95 858.69 976.21 861.35 976.29C864.01 976.37 861.46 975.55 866.52 976.08C871.58 976.62 883.72 978.91 891.72 979.51C899.71 980.12 907.98 979.74 914.51 979.74C921.05 979.74 918.68 979.36 930.94 979.51C943.2 979.67 967.12 979.9 988.08 980.66C1009.03 981.42 1035.72 984.08 1056.66 984.08C1077.59 984.08 1095.01 981.99 1113.7 980.66C1132.39 979.32 1159.62 976.85 1168.8 976.08" stroke="#000" stroke-width="1.75" fill="none" stroke-linejoin="round"/>
<path d="M707.3 975.63C707.32 975.68 706.02 975.79 707.39 975.93C708.76 976.08 713.04 975.87 715.51 976.47C717.99 977.08 720.01 978.27 722.25 979.58C724.5 980.89 726.74 982.62 728.99 984.31C731.24 985.99 733.48 987.9 735.73 989.7C737.97 991.5 740.2 993.31 742.47 995.11C744.73 996.91 747.04 998.71 749.3 1000.51C751.56 1002.31 753.79 1004.11 756.03 1005.91C758.28 1007.71 760.53 1009.62 762.77 1011.31C765.02 1012.99 767.03 1014.46 769.51 1016.03C771.99 1017.61 774.93 1019.3 777.63 1020.76C780.34 1022.22 782.6 1023.42 785.75 1024.81C788.91 1026.21 792.95 1027.78 796.55 1029.13C800.15 1030.48 803.75 1031.84 807.35 1032.92C810.95 1034 814.78 1034.71 818.15 1035.61C821.52 1036.51 824.43 1037.41 827.57 1038.31C830.71 1039.21 833.6 1040.11 836.98 1041.01C840.37 1041.91 843.7 1042.93 847.87 1043.72C852.04 1044.5 858.5 1045.21 861.99 1045.74C865.49 1046.27 863.87 1046.52 868.82 1046.91C873.78 1047.29 883.33 1048.16 891.72 1048.05C900.1 1047.93 912.59 1046.9 919.13 1046.22C925.67 1045.53 920.1 1044.77 930.94 1043.94C941.79 1043.1 965.16 1042.22 984.2 1041.19C1003.24 1040.17 1025.52 1039.29 1045.21 1037.77C1064.9 1036.25 1081.75 1032.82 1102.34 1032.06C1122.94 1031.29 1157.72 1033.01 1168.8 1033.2" stroke="#000" stroke-width="1.75" fill="none" stroke-linejoin="round"/>
<path d="M707.3 1035.39C707.32 1035.41 706.02 1035.35 707.39 1035.53C708.76 1035.71 713.04 1035.68 715.51 1036.47C717.99 1037.26 720.01 1038.72 722.25 1040.26C724.5 1041.79 726.74 1043.86 728.99 1045.66C731.24 1047.46 733.48 1049.25 735.73 1051.05C737.97 1052.85 740.2 1054.66 742.47 1056.46C744.73 1058.26 747.04 1060.17 749.3 1061.86C751.56 1063.55 753.79 1065.12 756.03 1066.59C758.28 1068.05 760.53 1069.29 762.77 1070.64C765.02 1071.99 767.03 1073.22 769.51 1074.68C771.99 1076.15 774.93 1077.95 777.63 1079.41C780.34 1080.87 783.06 1082.11 785.75 1083.46C788.45 1084.81 791.09 1086.28 793.79 1087.51C796.48 1088.75 798.18 1089.43 801.91 1090.89C805.63 1092.35 812.52 1095.1 816.12 1096.29C819.72 1097.48 820.03 1097.53 823.51 1098.04C826.98 1098.56 832.47 1099.01 836.98 1099.39C841.49 1099.78 846.38 1100.11 850.55 1100.34C854.72 1100.56 858.95 1100.7 861.99 1100.74C865.04 1100.79 863.87 1100.81 868.82 1100.59C873.78 1100.37 883.33 1099.9 891.72 1099.45C900.1 1098.99 912.59 1098.23 919.13 1097.85C925.67 1097.46 921.36 1097.84 930.94 1097.16C940.53 1096.47 960.63 1093.35 976.63 1093.73C992.63 1094.12 1013.6 1098.88 1026.93 1099.45C1040.27 1100.02 1044.09 1099.06 1056.66 1097.16C1069.22 1095.25 1083.65 1090.12 1102.34 1088.02C1121.03 1085.93 1157.72 1085.17 1168.8 1084.6" stroke="#000" stroke-width="1.75" fill="none" stroke-linejoin="round"/>
<path d="M707.3 1095.15C707.32 1095.15 706.02 1094.83 707.39 1095.12C708.76 1095.41 713.04 1095.57 715.51 1096.88C717.99 1098.18 720.01 1100.59 722.25 1102.96C724.5 1105.32 726.74 1108.35 728.99 1111.05C731.24 1113.75 733.48 1116.57 735.73 1119.16C737.97 1121.75 740.2 1124.22 742.47 1126.59C744.73 1128.95 747.04 1131.31 749.3 1133.34C751.56 1135.36 753.79 1137.05 756.03 1138.73C758.28 1140.42 760.53 1142.11 762.77 1143.46C765.02 1144.81 767.03 1145.82 769.51 1146.84C771.99 1147.85 774.48 1148.3 777.63 1149.54C780.79 1150.78 785.28 1153.25 788.43 1154.27C791.59 1155.28 793.86 1155.05 796.55 1155.62C799.25 1156.18 801.22 1156.86 804.58 1157.64C807.95 1158.43 812.49 1159.66 816.77 1160.34C821.04 1161.01 825.74 1161.4 830.24 1161.69C834.75 1161.98 838.52 1162.09 843.81 1162.09C849.1 1162.09 857.06 1161.66 861.99 1161.69C866.93 1161.72 868.49 1162.74 873.44 1162.27C878.39 1161.79 884.1 1160.36 891.72 1158.84C899.33 1157.31 912.59 1154.65 919.13 1153.13C925.67 1151.61 921.36 1149.89 930.94 1149.7C940.53 1149.51 961.4 1150.47 976.63 1151.99C991.86 1153.51 1008.98 1157.96 1022.32 1158.84C1035.66 1159.71 1047.13 1158.27 1056.66 1157.24C1066.18 1156.21 1064.22 1154.8 1079.45 1152.67C1094.68 1150.54 1133.14 1145.7 1148.03 1144.45C1162.92 1143.19 1165.34 1145.02 1168.8 1145.13" stroke="#000" stroke-width="1.75" fill="none" stroke-linejoin="round"/>
<path d="M707.3 1154.91C708.13 1155.57 710.5 1156.09 712.28 1158.84C714.07 1161.59 715.9 1166.65 718.01 1171.41C720.11 1176.17 722.64 1182.07 724.93 1187.4C727.22 1192.73 729.48 1199.2 731.76 1203.39C734.04 1207.58 735.93 1209.67 738.59 1212.53C741.25 1215.38 744.3 1219 747.73 1220.52C751.16 1222.05 754.6 1221.86 759.17 1221.66C763.74 1221.47 768.66 1220.52 775.14 1219.38C781.62 1218.23 790.42 1215.76 798.03 1214.81C805.65 1213.86 812.85 1214.62 820.83 1213.67C828.81 1212.72 838.32 1208.72 845.93 1209.1C853.55 1209.48 858.89 1213.86 866.52 1215.95C874.15 1218.05 884.85 1221.66 891.72 1221.66C898.58 1221.66 902.75 1217.17 907.68 1215.95C912.62 1214.73 917.47 1214.46 921.34 1214.35C925.22 1214.23 924.39 1215.19 930.94 1215.26C937.5 1215.34 950 1214.12 960.66 1214.81C971.32 1215.49 984.63 1219.38 994.91 1219.38C1005.18 1219.38 1013.18 1216.03 1022.32 1214.81C1031.46 1213.59 1038.3 1211.88 1049.73 1212.07C1061.16 1212.26 1077.56 1216.64 1090.9 1215.95C1104.24 1215.27 1116.77 1208.34 1129.76 1207.95C1142.74 1207.57 1162.29 1212.72 1168.8 1213.67" stroke="#000" stroke-width="1.75" fill="none" stroke-linejoin="round"/>
</g>
<circle cx="741.36" cy="736.59" r="8.1" fill="#000"/>
<circle cx="779.76" cy="796.35" r="8.1" fill="#000"/>
<circle cx="814.46" cy="856.11" r="8.1" fill="#000"/>
<circle cx="848.24" cy="915.87" r="8.1" fill="#000"/>
<circle cx="866.52" cy="975.63" r="8.1" fill="#000"/>
<circle cx="835.04" cy="1035.39" r="8.1" fill="#000"/>
<circle cx="815.57" cy="1095.15" r="8.1" fill="#000"/>
<circle cx="788.15" cy="1154.91" r="8.1" fill="#000"/>
<circle cx="740.16" cy="1214.67" r="8.1" fill="#000"/>
<rect x="96.5" y="7.5" width="461.6" height="573.8" fill="none" stroke="#000" stroke-width="1.25"/>
<rect x="707.3" y="7.5" width="461.5" height="573.8" fill="none" stroke="#000" stroke-width="1.25"/>
<rect x="96.5" y="658.9" width="461.6" height="573.7" fill="none" stroke="#000" stroke-width="1.25"/>
<rect x="707.3" y="658.9" width="461.5" height="573.7" fill="none" stroke="#000" stroke-width="1.25"/>
<text x="86.9" y="570.77" text-anchor="end" font-family="Liberation Serif" font-size="26.2" fill="#000">0</text>
<text x="86.9" y="511" text-anchor="end" font-family="Liberation Serif" font-size="26.2" fill="#000">1</text>
<text x="86.9" y="451.23" text-anchor="end" font-family="Liberation Serif" font-size="26.2" fill="#000">2</text>
<text x="86.9" y="391.46" text-anchor="end" font-family="Liberation Serif" font-size="26.2" fill="#000">3</text>
<text x="86.9" y="331.69" text-anchor="end" font-family="Liberation Serif" font-size="26.2" fill="#000">4</text>
<text x="86.9" y="271.91" text-anchor="end" font-family="Liberation Serif" font-size="26.2" fill="#000">5</text>
<text x="86.9" y="212.14" text-anchor="end" font-family="Liberation Serif" font-size="26.2" fill="#000">6</text>
<text x="86.9" y="152.37" text-anchor="end" font-family="Liberation Serif" font-size="26.2" fill="#000">7</text>
<text x="86.9" y="92.6" text-anchor="end" font-family="Liberation Serif" font-size="26.2" fill="#000">8</text>
<text x="86.9" y="32.83" text-anchor="end" font-family="Liberation Serif" font-size="26.2" fill="#000">9</text>
<text x="95" y="610.7" text-anchor="middle" font-family="Liberation Serif" font-size="26.2" fill="#000">0</text>
<text x="188.82" y="610.7" text-anchor="middle" font-family="Liberation Serif" font-size="26.2" fill="#000">0.1</text>
<text x="281.14" y="610.7" text-anchor="middle" font-family="Liberation Serif" font-size="26.2" fill="#000">0.2</text>
<text x="373.46" y="610.7" text-anchor="middle" font-family="Liberation Serif" font-size="26.2" fill="#000">0.3</text>
<text x="465.78" y="610.7" text-anchor="middle" font-family="Liberation Serif" font-size="26.2" fill="#000">0.4</text>
<text x="558.1" y="610.7" text-anchor="middle" font-family="Liberation Serif" font-size="26.2" fill="#000">0.5</text>
<text x="697.7" y="570.77" text-anchor="end" font-family="Liberation Serif" font-size="26.2" fill="#000">0</text>
<text x="697.7" y="511" text-anchor="end" font-family="Liberation Serif" font-size="26.2" fill="#000">1</text>
<text x="697.7" y="451.23" text-anchor="end" font-family="Liberation Serif" font-size="26.2" fill="#000">2</text>
<text x="697.7" y="391.46" text-anchor="end" font-family="Liberation Serif" font-size="26.2" fill="#000">3</text>
<text x="697.7" y="331.69" text-anchor="end" font-family="Liberation Serif" font-size="26.2" fill="#000">4</text>
<text x="697.7" y="271.91" text-anchor="end" font-family="Liberation Serif" font-size="26.2" fill="#000">5</text>
<text x="697.7" y="212.14" text-anchor="end" font-family="Liberation Serif" font-size="26.2" fill="#000">6</text>
<text x="697.7" y="152.37" text-anchor="end" font-family="Liberation Serif" font-size="26.2" fill="#000">7</text>
<text x="697.7" y="92.6" text-anchor="end" font-family="Liberation Serif" font-size="26.2" fill="#000">8</text>
<text x="697.7" y="32.83" text-anchor="end" font-family="Liberation Serif" font-size="26.2" fill="#000">9</text>
<text x="705.8" y="610.7" text-anchor="middle" font-family="Liberation Serif" font-size="26.2" fill="#000">0</text>
<text x="799.6" y="610.7" text-anchor="middle" font-family="Liberation Serif" font-size="26.2" fill="#000">0.1</text>
<text x="891.9" y="610.7" text-anchor="middle" font-family="Liberation Serif" font-size="26.2" fill="#000">0.2</text>
<text x="984.2" y="610.7" text-anchor="middle" font-family="Liberation Serif" font-size="26.2" fill="#000">0.3</text>
<text x="1076.5" y="610.7" text-anchor="middle" font-family="Liberation Serif" font-size="26.2" fill="#000">0.4</text>
<text x="1168.8" y="610.7" text-anchor="middle" font-family="Liberation Serif" font-size="26.2" fill="#000">0.5</text>
<text x="86.9" y="1222.07" text-anchor="end" font-family="Liberation Serif" font-size="26.2" fill="#000">0</text>
<text x="86.9" y="1162.31" text-anchor="end" font-family="Liberation Serif" font-size="26.2" fill="#000">1</text>
<text x="86.9" y="1102.55" text-anchor="end" font-family="Liberation Serif" font-size="26.2" fill="#000">2</text>
<text x="86.9" y="1042.79" text-anchor="end" font-family="Liberation Serif" font-size="26.2" fill="#000">3</text>
<text x="86.9" y="983.03" text-anchor="end" font-family="Liberation Serif" font-size="26.2" fill="#000">4</text>
<text x="86.9" y="923.27" text-anchor="end" font-family="Liberation Serif" font-size="26.2" fill="#000">5</text>
<text x="86.9" y="863.51" text-anchor="end" font-family="Liberation Serif" font-size="26.2" fill="#000">6</text>
<text x="86.9" y="803.75" text-anchor="end" font-family="Liberation Serif" font-size="26.2" fill="#000">7</text>
<text x="86.9" y="743.99" text-anchor="end" font-family="Liberation Serif" font-size="26.2" fill="#000">8</text>
<text x="86.9" y="684.23" text-anchor="end" font-family="Liberation Serif" font-size="26.2" fill="#000">9</text>
<text x="95" y="1260.5" text-anchor="middle" font-family="Liberation Serif" font-size="26.2" fill="#000">0</text>
<text x="188.82" y="1260.5" text-anchor="middle" font-family="Liberation Serif" font-size="26.2" fill="#000">0.1</text>
<text x="281.14" y="1260.5" text-anchor="middle" font-family="Liberation Serif" font-size="26.2" fill="#000">0.2</text>
<text x="373.46" y="1260.5" text-anchor="middle" font-family="Liberation Serif" font-size="26.2" fill="#000">0.3</text>
<text x="465.78" y="1260.5" text-anchor="middle" font-family="Liberation Serif" font-size="26.2" fill="#000">0.4</text>
<text x="558.1" y="1260.5" text-anchor="middle" font-family="Liberation Serif" font-size="26.2" fill="#000">0.5</text>
<text x="697.7" y="1222.07" text-anchor="end" font-family="Liberation Serif" font-size="26.2" fill="#000">0</text>
<text x="697.7" y="1162.31" text-anchor="end" font-family="Liberation Serif" font-size="26.2" fill="#000">1</text>
<text x="697.7" y="1102.55" text-anchor="end" font-family="Liberation Serif" font-size="26.2" fill="#000">2</text>
<text x="697.7" y="1042.79" text-anchor="end" font-family="Liberation Serif" font-size="26.2" fill="#000">3</text>
<text x="697.7" y="983.03" text-anchor="end" font-family="Liberation Serif" font-size="26.2" fill="#000">4</text>
<text x="697.7" y="923.27" text-anchor="end" font-family="Liberation Serif" font-size="26.2" fill="#000">5</text>
<text x="697.7" y="863.51" text-anchor="end" font-family="Liberation Serif" font-size="26.2" fill="#000">6</text>
<text x="697.7" y="803.75" text-anchor="end" font-family="Liberation Serif" font-size="26.2" fill="#000">7</text>
<text x="697.7" y="743.99" text-anchor="end" font-family="Liberation Serif" font-size="26.2" fill="#000">8</text>
<text x="697.7" y="684.23" text-anchor="end" font-family="Liberation Serif" font-size="26.2" fill="#000">9</text>
<text x="705.8" y="1260.5" text-anchor="middle" font-family="Liberation Serif" font-size="26.2" fill="#000">0</text>
<text x="799.6" y="1260.5" text-anchor="middle" font-family="Liberation Serif" font-size="26.2" fill="#000">0.1</text>
<text x="891.9" y="1260.5" text-anchor="middle" font-family="Liberation Serif" font-size="26.2" fill="#000">0.2</text>
<text x="984.2" y="1260.5" text-anchor="middle" font-family="Liberation Serif" font-size="26.2" fill="#000">0.3</text>
<text x="1076.5" y="1260.5" text-anchor="middle" font-family="Liberation Serif" font-size="26.2" fill="#000">0.4</text>
<text x="1168.8" y="1260.5" text-anchor="middle" font-family="Liberation Serif" font-size="26.2" fill="#000">0.5</text>
<g transform="translate(49.3 340.7) rotate(-90)"><text x="0.16" y="0" font-family="Liberation Serif" font-size="30" font-style="italic">R</text><text x="17.7" y="4.5" font-family="Liberation Serif" font-size="20" font-style="italic">uu</text><path d="M39.7 5.7L49.7 -20.3" stroke="#000" stroke-width="1.35" fill="none"/><text x="51.51" y="0" font-family="Liberation Serif" font-size="30" font-style="italic">u</text><path d="M69 -12.6L69.8 -12.9L73.1 -21.6L71.3 -22.2Z" fill="#000"/><path d="M73.6 -12.6L74.4 -12.9L77.7 -21.6L75.9 -22.2Z" fill="#000"/><text x="77.1" y="-11.2" font-family="Liberation Serif" font-size="20.5">2</text><path d="M53 -28.6C57.52 -34 64.31 -36.6 71.85 -31.4S85.05 -25.8 90.7 -34.6" stroke="#000" stroke-width="1.5" fill="none" stroke-linecap="round"/></g>
<g transform="translate(659.7 344.7) rotate(-90)"><text x="0.16" y="0" font-family="Liberation Serif" font-size="30" font-style="italic">R</text><text x="18.22" y="4.5" font-family="Liberation Serif" font-size="20" font-style="italic">ww</text><path d="M46 6L56.4 -20" stroke="#000" stroke-width="1.35" fill="none"/><text x="58.28" y="0" font-family="Liberation Serif" font-size="30" font-style="italic">w</text><path d="M79.3 -12.6L80.1 -12.9L83.4 -21.6L81.6 -22.2Z" fill="#000"/><path d="M83.9 -12.6L84.7 -12.9L88 -21.6L86.2 -22.2Z" fill="#000"/><text x="89.1" y="-11.2" font-family="Liberation Serif" font-size="20.5">2</text><path d="M59 -28.6C63.52 -34 70.31 -36.6 77.85 -31.4S91.05 -25.8 96.7 -34.6" stroke="#000" stroke-width="1.5" fill="none" stroke-linecap="round"/></g>
<g transform="translate(48.7 1009) rotate(-90)"><text x="0.16" y="0" font-family="Liberation Serif" font-size="30" font-style="italic">R</text><text x="18.22" y="4.5" font-family="Liberation Serif" font-size="20" font-style="italic">ww</text><path d="M46 6L56.4 -20" stroke="#000" stroke-width="1.35" fill="none"/><text x="58.28" y="0" font-family="Liberation Serif" font-size="30" font-style="italic">w</text><path d="M79.3 -12.6L80.1 -12.9L83.4 -21.6L81.6 -22.2Z" fill="#000"/><path d="M83.9 -12.6L84.7 -12.9L88 -21.6L86.2 -22.2Z" fill="#000"/><text x="89.1" y="-11.2" font-family="Liberation Serif" font-size="20.5">2</text><path d="M59 -28.6C63.52 -34 70.31 -36.6 77.85 -31.4S91.05 -25.8 96.7 -34.6" stroke="#000" stroke-width="1.5" fill="none" stroke-linecap="round"/></g>
<g transform="translate(660 1002.5) rotate(-90)"><text x="0.16" y="0" font-family="Liberation Serif" font-size="30" font-style="italic">R</text><text x="17.7" y="4.5" font-family="Liberation Serif" font-size="20" font-style="italic">uu</text><path d="M39.7 5.7L49.7 -20.3" stroke="#000" stroke-width="1.35" fill="none"/><text x="51.51" y="0" font-family="Liberation Serif" font-size="30" font-style="italic">u</text><path d="M69 -12.6L69.8 -12.9L73.1 -21.6L71.3 -22.2Z" fill="#000"/><path d="M73.6 -12.6L74.4 -12.9L77.7 -21.6L75.9 -22.2Z" fill="#000"/><text x="77.1" y="-11.2" font-family="Liberation Serif" font-size="20.5">2</text><path d="M53 -28.6C57.52 -34 64.31 -36.6 71.85 -31.4S85.05 -25.8 90.7 -34.6" stroke="#000" stroke-width="1.5" fill="none" stroke-linecap="round"/></g>
<text x="296.08" y="1300" font-family="Liberation Serif" font-size="30" font-style="italic">r</text><text x="308.24" y="1304.7" font-family="Liberation Serif" font-size="20" font-style="italic">x</text><path d="M319.6 1305.9L329.1 1280" stroke="#000" stroke-width="1.35" fill="none"/><text x="331.65" y="1300" font-family="Liberation Serif" font-size="30" font-style="italic">L</text><text x="347.24" y="1304.7" font-family="Liberation Serif" font-size="20" font-style="italic">x</text>
<text x="910.78" y="1300" font-family="Liberation Serif" font-size="30" font-style="italic">r</text><text x="923.92" y="1304.7" font-family="Liberation Serif" font-size="20" font-style="italic">z</text><path d="M933.3 1305.9L942.4 1280" stroke="#000" stroke-width="1.35" fill="none"/><text x="945.65" y="1300" font-family="Liberation Serif" font-size="30" font-style="italic">L</text><text x="961.92" y="1304.7" font-family="Liberation Serif" font-size="20" font-style="italic">z</text>
<text x="3.38" y="25.3" font-family="Liberation Serif" font-size="30">(</text><text x="13.37" y="25.3" font-family="Liberation Serif" font-size="30" font-style="italic">a</text><text x="28.37" y="25.3" font-family="Liberation Serif" font-size="30">)</text>
<text x="615.38" y="25.3" font-family="Liberation Serif" font-size="30">(</text><text x="625.37" y="25.3" font-family="Liberation Serif" font-size="30" font-style="italic">b</text><text x="640.37" y="25.3" font-family="Liberation Serif" font-size="30">)</text>
<text x="4.98" y="676.6" font-family="Liberation Serif" font-size="30">(</text><text x="14.97" y="676.6" font-family="Liberation Serif" font-size="30" font-style="italic">c</text><text x="28.29" y="676.6" font-family="Liberation Serif" font-size="30">)</text>
<text x="615.38" y="676.6" font-family="Liberation Serif" font-size="30">(</text><text x="625.37" y="676.6" font-family="Liberation Serif" font-size="30" font-style="italic">d</text><text x="640.37" y="676.6" font-family="Liberation Serif" font-size="30">)</text>
</svg></body></html>
